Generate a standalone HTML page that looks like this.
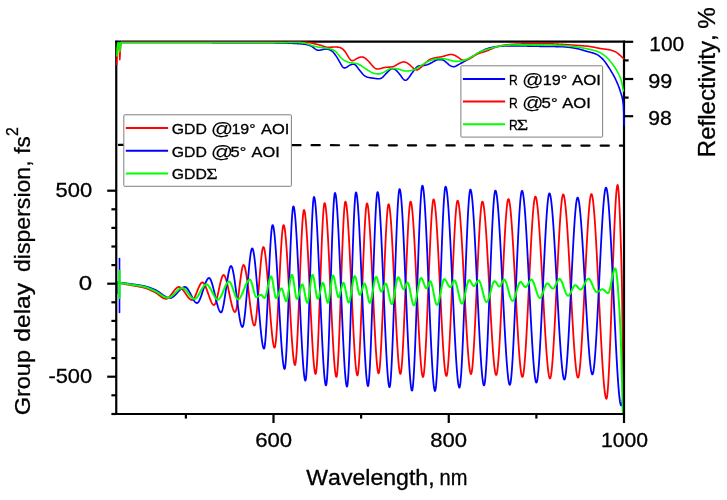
<!DOCTYPE html>
<html>
<head>
<meta charset="utf-8">
<title>GDD and reflectivity</title>
<style>
html,body{margin:0;padding:0;background:#fff;}
body{width:727px;height:500px;overflow:hidden;}
svg{display:block;will-change:transform;}
svg text{font-family:"Liberation Sans",sans-serif;fill:#000;font-kerning:none;stroke:#000;stroke-width:0.3px;}
</style>
</head>
<body>
<svg width="727" height="500" viewBox="0 0 727 500">
<defs><clipPath id="plotclip"><rect x="116.25" y="41.7" width="507.75" height="372.3"/></clipPath></defs>
<rect x="0" y="0" width="727" height="500" fill="#ffffff"/>
<line x1="118.9" y1="144.9" x2="624.0" y2="145.65" stroke="#000" stroke-width="2.2" stroke-linecap="round" stroke-dasharray="8.2 11.07"/>
<g clip-path="url(#plotclip)">
<path d="M117.00,282.80 L117.25,282.84 L117.50,282.88 L117.75,282.92 L118.00,282.96 L118.25,283.00 L118.50,283.03 L118.75,283.07 L119.00,283.11 L119.25,283.15 L119.50,283.19 L119.75,283.23 L120.00,283.28 L120.25,283.32 L120.50,283.36 L120.75,283.40 L121.00,283.44 L121.25,283.48 L121.50,283.52 L121.75,283.56 L122.00,283.60 L122.25,283.64 L122.50,283.69 L122.75,283.73 L123.00,283.77 L123.25,283.81 L123.50,283.85 L123.75,283.90 L124.00,283.94 L124.25,283.98 L124.50,284.02 L124.75,284.07 L125.00,284.11 L125.25,284.15 L125.50,284.20 L125.75,284.24 L126.00,284.28 L126.25,284.33 L126.50,284.37 L126.75,284.42 L127.00,284.46 L127.25,284.50 L127.50,284.55 L127.75,284.59 L128.00,284.64 L128.25,284.68 L128.50,284.73 L128.75,284.77 L129.00,284.82 L129.25,284.86 L129.50,284.91 L129.75,284.95 L130.00,285.00 L130.25,285.05 L130.50,285.09 L130.75,285.14 L131.00,285.18 L131.25,285.22 L131.50,285.27 L131.75,285.31 L132.00,285.36 L132.25,285.40 L132.50,285.44 L132.75,285.49 L133.00,285.53 L133.25,285.57 L133.50,285.61 L133.75,285.66 L134.00,285.70 L134.25,285.74 L134.50,285.79 L134.75,285.83 L135.00,285.87 L135.25,285.92 L135.50,285.96 L135.75,286.00 L136.00,286.05 L136.25,286.09 L136.50,286.14 L136.75,286.18 L137.00,286.23 L137.25,286.27 L137.50,286.32 L137.75,286.36 L138.00,286.41 L138.25,286.46 L138.50,286.51 L138.75,286.55 L139.00,286.60 L139.25,286.65 L139.50,286.70 L139.75,286.75 L140.00,286.80 L140.25,286.86 L140.50,286.91 L140.75,286.96 L141.00,287.01 L141.25,287.07 L141.50,287.13 L141.75,287.18 L142.00,287.24 L142.25,287.30 L142.50,287.36 L142.75,287.42 L143.00,287.48 L143.25,287.54 L143.50,287.60 L143.75,287.66 L144.00,287.73 L144.25,287.80 L144.50,287.86 L144.75,287.93 L145.00,288.00 L145.25,288.07 L145.50,288.15 L145.75,288.22 L146.00,288.30 L146.25,288.38 L146.50,288.47 L146.75,288.56 L147.00,288.65 L147.25,288.74 L147.50,288.83 L147.75,288.93 L148.00,289.03 L148.25,289.13 L148.50,289.23 L148.75,289.33 L149.00,289.44 L149.25,289.55 L149.50,289.66 L149.75,289.77 L150.00,289.88 L150.25,289.99 L150.50,290.11 L150.75,290.22 L151.00,290.34 L151.25,290.46 L151.50,290.58 L151.75,290.70 L152.00,290.82 L152.25,290.94 L152.50,291.06 L152.75,291.18 L153.00,291.31 L153.25,291.43 L153.50,291.55 L153.75,291.68 L154.00,291.80 L154.25,291.93 L154.50,292.05 L154.75,292.18 L155.00,292.30 L155.25,292.43 L155.50,292.57 L155.75,292.71 L156.00,292.86 L156.25,293.02 L156.50,293.19 L156.75,293.36 L157.00,293.53 L157.25,293.71 L157.50,293.90 L157.75,294.08 L158.00,294.27 L158.25,294.47 L158.50,294.66 L158.75,294.86 L159.00,295.06 L159.25,295.26 L159.50,295.45 L159.75,295.65 L160.00,295.85 L160.25,296.04 L160.50,296.23 L160.75,296.42 L161.00,296.61 L161.25,296.79 L161.50,296.97 L161.75,297.14 L162.00,297.31 L162.25,297.47 L162.50,297.62 L162.75,297.77 L163.00,297.91 L163.25,298.04 L163.50,298.16 L163.75,298.28 L164.00,298.38 L164.25,298.48 L164.50,298.56 L164.75,298.63 L165.00,298.69 L165.25,298.74 L165.50,298.77 L165.75,298.79 L166.00,298.80 L166.25,298.79 L166.50,298.75 L166.75,298.69 L167.00,298.60 L167.25,298.49 L167.50,298.36 L167.75,298.22 L168.00,298.05 L168.25,297.86 L168.50,297.66 L168.75,297.44 L169.00,297.20 L169.25,296.96 L169.50,296.69 L169.75,296.42 L170.00,296.14 L170.25,295.84 L170.50,295.54 L170.75,295.23 L171.00,294.91 L171.25,294.58 L171.50,294.25 L171.75,293.92 L172.00,293.58 L172.25,293.24 L172.50,292.90 L172.75,292.56 L173.00,292.22 L173.25,291.88 L173.50,291.55 L173.75,291.22 L174.00,290.89 L174.25,290.57 L174.50,290.26 L174.75,289.96 L175.00,289.66 L175.25,289.38 L175.50,289.11 L175.75,288.84 L176.00,288.60 L176.25,288.36 L176.50,288.14 L176.75,287.94 L177.00,287.75 L177.25,287.58 L177.50,287.44 L177.75,287.31 L178.00,287.20 L178.25,287.11 L178.50,287.05 L178.75,287.01 L179.00,287.00 L179.25,287.01 L179.50,287.06 L179.75,287.12 L180.00,287.22 L180.25,287.34 L180.50,287.48 L180.75,287.64 L181.00,287.83 L181.25,288.03 L181.50,288.26 L181.75,288.50 L182.00,288.76 L182.25,289.03 L182.50,289.32 L182.75,289.62 L183.00,289.93 L183.25,290.26 L183.50,290.59 L183.75,290.94 L184.00,291.29 L184.25,291.65 L184.50,292.01 L184.75,292.38 L185.00,292.75 L185.25,293.13 L185.50,293.50 L185.75,293.87 L186.00,294.25 L186.25,294.62 L186.50,294.99 L186.75,295.35 L187.00,295.71 L187.25,296.06 L187.50,296.41 L187.75,296.74 L188.00,297.07 L188.25,297.38 L188.50,297.68 L188.75,297.97 L189.00,298.24 L189.25,298.50 L189.50,298.74 L189.75,298.97 L190.00,299.17 L190.25,299.36 L190.50,299.52 L190.75,299.66 L191.00,299.78 L191.25,299.88 L191.50,299.94 L191.75,299.99 L192.00,300.00 L192.25,299.97 L192.50,299.88 L192.75,299.74 L193.00,299.54 L193.25,299.30 L193.50,299.01 L193.75,298.67 L194.00,298.30 L194.25,297.89 L194.50,297.44 L194.75,296.96 L195.00,296.45 L195.25,295.92 L195.50,295.36 L195.75,294.79 L196.00,294.19 L196.25,293.58 L196.50,292.97 L196.75,292.34 L197.00,291.71 L197.25,291.07 L197.50,290.44 L197.75,289.81 L198.00,289.19 L198.25,288.57 L198.50,287.97 L198.75,287.38 L199.00,286.81 L199.25,286.27 L199.50,285.74 L199.75,285.25 L200.00,284.78 L200.25,284.35 L200.50,283.95 L200.75,283.59 L201.00,283.27 L201.25,283.00 L201.50,282.77 L201.75,282.60 L202.00,282.48 L202.25,282.41 L202.50,282.41 L202.75,282.46 L203.00,282.58 L203.25,282.75 L203.50,282.97 L203.75,283.25 L204.00,283.57 L204.25,283.94 L204.50,284.35 L204.75,284.81 L205.00,285.30 L205.25,285.82 L205.50,286.38 L205.75,286.97 L206.00,287.58 L206.25,288.22 L206.50,288.87 L206.75,289.55 L207.00,290.24 L207.25,290.95 L207.50,291.66 L207.75,292.39 L208.00,293.12 L208.25,293.85 L208.50,294.58 L208.75,295.30 L209.00,296.02 L209.25,296.74 L209.50,297.44 L209.75,298.12 L210.00,298.79 L210.25,299.44 L210.50,300.07 L210.75,300.67 L211.00,301.25 L211.25,301.79 L211.50,302.30 L211.75,302.78 L212.00,303.22 L212.25,303.61 L212.50,303.96 L212.75,304.27 L213.00,304.53 L213.25,304.73 L213.50,304.88 L213.75,304.97 L214.00,305.00 L214.25,304.94 L214.50,304.76 L214.75,304.48 L215.00,304.09 L215.25,303.61 L215.50,303.03 L215.75,302.37 L216.00,301.64 L216.25,300.83 L216.50,299.96 L216.75,299.03 L217.00,298.04 L217.25,297.01 L217.50,295.94 L217.75,294.84 L218.00,293.72 L218.25,292.57 L218.50,291.40 L218.75,290.23 L219.00,289.06 L219.25,287.90 L219.50,286.74 L219.75,285.61 L220.00,284.49 L220.25,283.41 L220.50,282.36 L220.75,281.36 L221.00,280.41 L221.25,279.51 L221.50,278.68 L221.75,277.91 L222.00,277.22 L222.25,276.61 L222.50,276.09 L222.75,275.66 L223.00,275.34 L223.25,275.12 L223.50,275.01 L223.75,275.02 L224.00,275.13 L224.25,275.35 L224.50,275.66 L224.75,276.05 L225.00,276.54 L225.25,277.10 L225.50,277.74 L225.75,278.45 L226.00,279.23 L226.25,280.07 L226.50,280.96 L226.75,281.91 L227.00,282.91 L227.25,283.95 L227.50,285.03 L227.75,286.14 L228.00,287.28 L228.25,288.45 L228.50,289.63 L228.75,290.83 L229.00,292.04 L229.25,293.26 L229.50,294.47 L229.75,295.69 L230.00,296.89 L230.25,298.08 L230.50,299.26 L230.75,300.41 L231.00,301.53 L231.25,302.62 L231.50,303.68 L231.75,304.69 L232.00,305.66 L232.25,306.58 L232.50,307.44 L232.75,308.25 L233.00,308.98 L233.25,309.65 L233.50,310.25 L233.75,310.76 L234.00,311.20 L234.25,311.54 L234.50,311.79 L234.75,311.95 L235.00,312.00 L235.25,311.88 L235.50,311.54 L235.75,310.99 L236.00,310.24 L236.25,309.31 L236.50,308.21 L236.75,306.95 L237.00,305.56 L237.25,304.03 L237.50,302.39 L237.75,300.66 L238.00,298.83 L238.25,296.94 L238.50,294.98 L238.75,292.98 L239.00,290.96 L239.25,288.91 L239.50,286.86 L239.75,284.82 L240.00,282.81 L240.25,280.84 L240.50,278.92 L240.75,277.06 L241.00,275.29 L241.25,273.61 L241.50,272.04 L241.75,270.59 L242.00,269.28 L242.25,268.11 L242.50,267.11 L242.75,266.29 L243.00,265.65 L243.25,265.23 L243.50,265.02 L243.75,265.03 L244.00,265.24 L244.25,265.63 L244.50,266.19 L244.75,266.91 L245.00,267.79 L245.25,268.81 L245.50,269.97 L245.75,271.25 L246.00,272.65 L246.25,274.16 L246.50,275.76 L246.75,277.46 L247.00,279.24 L247.25,281.09 L247.50,283.00 L247.75,284.97 L248.00,286.98 L248.25,289.03 L248.50,291.10 L248.75,293.20 L249.00,295.30 L249.25,297.40 L249.50,299.50 L249.75,301.57 L250.00,303.62 L250.25,305.63 L250.50,307.60 L250.75,309.51 L251.00,311.36 L251.25,313.14 L251.50,314.84 L251.75,316.44 L252.00,317.95 L252.25,319.35 L252.50,320.63 L252.75,321.79 L253.00,322.81 L253.25,323.69 L253.50,324.41 L253.75,324.97 L254.00,325.36 L254.25,325.57 L254.50,325.57 L254.75,325.25 L255.00,324.60 L255.25,323.63 L255.50,322.36 L255.75,320.83 L256.00,319.03 L256.25,317.00 L256.50,314.76 L256.75,312.32 L257.00,309.71 L257.25,306.95 L257.50,304.05 L257.75,301.04 L258.00,297.93 L258.25,294.76 L258.50,291.53 L258.75,288.26 L259.00,284.99 L259.25,281.72 L259.50,278.49 L259.75,275.30 L260.00,272.18 L260.25,269.15 L260.50,266.22 L260.75,263.43 L261.00,260.79 L261.25,258.31 L261.50,256.03 L261.75,253.96 L262.00,252.11 L262.25,250.52 L262.50,249.20 L262.75,248.17 L263.00,247.45 L263.25,247.06 L263.50,247.02 L263.75,247.29 L264.00,247.84 L264.25,248.65 L264.50,249.72 L264.75,251.03 L265.00,252.57 L265.25,254.33 L265.50,256.28 L265.75,258.43 L266.00,260.75 L266.25,263.23 L266.50,265.85 L266.75,268.62 L267.00,271.50 L267.25,274.49 L267.50,277.57 L267.75,280.74 L268.00,283.97 L268.25,287.26 L268.50,290.58 L268.75,293.93 L269.00,297.30 L269.25,300.67 L269.50,304.02 L269.75,307.34 L270.00,310.63 L270.25,313.86 L270.50,317.03 L270.75,320.11 L271.00,323.10 L271.25,325.98 L271.50,328.75 L271.75,331.37 L272.00,333.85 L272.25,336.17 L272.50,338.32 L272.75,340.27 L273.00,342.03 L273.25,343.57 L273.50,344.88 L273.75,345.95 L274.00,346.76 L274.25,347.31 L274.50,347.58 L274.75,347.50 L275.00,346.90 L275.25,345.77 L275.50,344.17 L275.75,342.11 L276.00,339.62 L276.25,336.75 L276.50,333.51 L276.75,329.95 L277.00,326.10 L277.25,321.97 L277.50,317.62 L277.75,313.06 L278.00,308.33 L278.25,303.46 L278.50,298.49 L278.75,293.44 L279.00,288.34 L279.25,283.24 L279.50,278.15 L279.75,273.11 L280.00,268.16 L280.25,263.31 L280.50,258.62 L280.75,254.10 L281.00,249.78 L281.25,245.71 L281.50,241.91 L281.75,238.41 L282.00,235.25 L282.25,232.45 L282.50,230.05 L282.75,228.07 L283.00,226.56 L283.25,225.54 L283.50,225.05 L283.75,225.07 L284.00,225.50 L284.25,226.31 L284.50,227.48 L284.75,228.99 L285.00,230.82 L285.25,232.95 L285.50,235.37 L285.75,238.06 L286.00,241.00 L286.25,244.18 L286.50,247.57 L286.75,251.16 L287.00,254.93 L287.25,258.87 L287.50,262.94 L287.75,267.15 L288.00,271.47 L288.25,275.88 L288.50,280.36 L288.75,284.90 L289.00,289.48 L289.25,294.08 L289.50,298.68 L289.75,303.27 L290.00,307.83 L290.25,312.34 L290.50,316.78 L290.75,321.13 L291.00,325.39 L291.25,329.52 L291.50,333.51 L291.75,337.35 L292.00,341.02 L292.25,344.49 L292.50,347.75 L292.75,350.79 L293.00,353.58 L293.25,356.12 L293.50,358.37 L293.75,360.32 L294.00,361.96 L294.25,363.26 L294.50,364.22 L294.75,364.80 L295.00,365.00 L295.25,364.65 L295.50,363.62 L295.75,361.95 L296.00,359.68 L296.25,356.86 L296.50,353.52 L296.75,349.70 L297.00,345.44 L297.25,340.78 L297.50,335.76 L297.75,330.43 L298.00,324.81 L298.25,318.96 L298.50,312.91 L298.75,306.70 L299.00,300.36 L299.25,293.95 L299.50,287.50 L299.75,281.05 L300.00,274.64 L300.25,268.30 L300.50,262.09 L300.75,256.04 L301.00,250.19 L301.25,244.57 L301.50,239.24 L301.75,234.22 L302.00,229.56 L302.25,225.30 L302.50,221.48 L302.75,218.14 L303.00,215.32 L303.25,213.05 L303.50,211.38 L303.75,210.35 L304.00,210.00 L304.25,210.23 L304.50,210.89 L304.75,211.97 L305.00,213.45 L305.25,215.30 L305.50,217.52 L305.75,220.07 L306.00,222.94 L306.25,226.12 L306.50,229.57 L306.75,233.28 L307.00,237.23 L307.25,241.41 L307.50,245.78 L307.75,250.34 L308.00,255.05 L308.25,259.91 L308.50,264.89 L308.75,269.98 L309.00,275.14 L309.25,280.37 L309.50,285.64 L309.75,290.94 L310.00,296.24 L310.25,301.52 L310.50,306.77 L310.75,311.97 L311.00,317.09 L311.25,322.11 L311.50,327.02 L311.75,331.80 L312.00,336.42 L312.25,340.87 L312.50,345.12 L312.75,349.17 L313.00,352.98 L313.25,356.53 L313.50,359.82 L313.75,362.82 L314.00,365.50 L314.25,367.85 L314.50,369.86 L314.75,371.49 L315.00,372.73 L315.25,373.56 L315.50,373.96 L315.75,373.86 L316.00,373.02 L316.25,371.45 L316.50,369.21 L316.75,366.34 L317.00,362.87 L317.25,358.86 L317.50,354.35 L317.75,349.39 L318.00,344.01 L318.25,338.25 L318.50,332.18 L318.75,325.82 L319.00,319.23 L319.25,312.44 L319.50,305.50 L319.75,298.45 L320.00,291.35 L320.25,284.23 L320.50,277.13 L320.75,270.10 L321.00,263.19 L321.25,256.44 L321.50,249.89 L321.75,243.58 L322.00,237.57 L322.25,231.89 L322.50,226.59 L322.75,221.71 L323.00,217.29 L323.25,213.39 L323.50,210.04 L323.75,207.29 L324.00,205.18 L324.25,203.76 L324.50,203.06 L324.75,203.08 L325.00,203.59 L325.25,204.53 L325.50,205.88 L325.75,207.64 L326.00,209.77 L326.25,212.25 L326.50,215.08 L326.75,218.22 L327.00,221.67 L327.25,225.39 L327.50,229.36 L327.75,233.58 L328.00,238.01 L328.25,242.65 L328.50,247.46 L328.75,252.43 L329.00,257.54 L329.25,262.77 L329.50,268.09 L329.75,273.50 L330.00,278.97 L330.25,284.47 L330.50,290.00 L330.75,295.53 L331.00,301.03 L331.25,306.50 L331.50,311.91 L331.75,317.23 L332.00,322.46 L332.25,327.57 L332.50,332.54 L332.75,337.35 L333.00,341.99 L333.25,346.42 L333.50,350.64 L333.75,354.61 L334.00,358.33 L334.25,361.78 L334.50,364.92 L334.75,367.75 L335.00,370.23 L335.25,372.36 L335.50,374.12 L335.75,375.47 L336.00,376.41 L336.25,376.92 L336.50,376.94 L336.75,376.22 L337.00,374.77 L337.25,372.60 L337.50,369.78 L337.75,366.34 L338.00,362.34 L338.25,357.81 L338.50,352.81 L338.75,347.37 L339.00,341.54 L339.25,335.37 L339.50,328.91 L339.75,322.19 L340.00,315.26 L340.25,308.17 L340.50,300.96 L340.75,293.68 L341.00,286.38 L341.25,279.09 L341.50,271.86 L341.75,264.75 L342.00,257.78 L342.25,251.02 L342.50,244.50 L342.75,238.27 L343.00,232.37 L343.25,226.85 L343.50,221.75 L343.75,217.12 L344.00,213.01 L344.25,209.46 L344.50,206.51 L344.75,204.21 L345.00,202.61 L345.25,201.74 L345.50,201.64 L345.75,202.03 L346.00,202.86 L346.25,204.09 L346.50,205.71 L346.75,207.70 L347.00,210.05 L347.25,212.72 L347.50,215.70 L347.75,218.99 L348.00,222.54 L348.25,226.35 L348.50,230.40 L348.75,234.67 L349.00,239.14 L349.25,243.79 L349.50,248.60 L349.75,253.56 L350.00,258.64 L350.25,263.82 L350.50,269.09 L350.75,274.43 L351.00,279.82 L351.25,285.24 L351.50,290.67 L351.75,296.10 L352.00,301.49 L352.25,306.84 L352.50,312.13 L352.75,317.33 L353.00,322.44 L353.25,327.42 L353.50,332.26 L353.75,336.94 L354.00,341.45 L354.25,345.76 L354.50,349.85 L354.75,353.72 L355.00,357.32 L355.25,360.66 L355.50,363.71 L355.75,366.45 L356.00,368.86 L356.25,370.92 L356.50,372.61 L356.75,373.93 L357.00,374.83 L357.25,375.32 L357.50,375.34 L357.75,374.73 L358.00,373.47 L358.25,371.59 L358.50,369.14 L358.75,366.15 L359.00,362.66 L359.25,358.70 L359.50,354.31 L359.75,349.53 L360.00,344.38 L360.25,338.92 L360.50,333.18 L360.75,327.18 L361.00,320.98 L361.25,314.60 L361.50,308.08 L361.75,301.46 L362.00,294.77 L362.25,288.06 L362.50,281.35 L362.75,274.68 L363.00,268.10 L363.25,261.63 L363.50,255.32 L363.75,249.19 L364.00,243.29 L364.25,237.66 L364.50,232.32 L364.75,227.32 L365.00,222.69 L365.25,218.46 L365.50,214.69 L365.75,211.39 L366.00,208.61 L366.25,206.39 L366.50,204.75 L366.75,203.74 L367.00,203.40 L367.25,203.63 L367.50,204.32 L367.75,205.44 L368.00,206.97 L368.25,208.90 L368.50,211.19 L368.75,213.84 L369.00,216.82 L369.25,220.11 L369.50,223.68 L369.75,227.53 L370.00,231.63 L370.25,235.96 L370.50,240.49 L370.75,245.21 L371.00,250.10 L371.25,255.14 L371.50,260.30 L371.75,265.57 L372.00,270.93 L372.25,276.35 L372.50,281.81 L372.75,287.30 L373.00,292.79 L373.25,298.27 L373.50,303.71 L373.75,309.10 L374.00,314.40 L374.25,319.61 L374.50,324.70 L374.75,329.65 L375.00,334.44 L375.25,339.05 L375.50,343.47 L375.75,347.66 L376.00,351.61 L376.25,355.30 L376.50,358.70 L376.75,361.81 L377.00,364.59 L377.25,367.03 L377.50,369.10 L377.75,370.80 L378.00,372.08 L378.25,372.95 L378.50,373.36 L378.75,373.29 L379.00,372.61 L379.25,371.35 L379.50,369.54 L379.75,367.20 L380.00,364.38 L380.25,361.10 L380.50,357.40 L380.75,353.30 L381.00,348.84 L381.25,344.05 L381.50,338.96 L381.75,333.61 L382.00,328.02 L382.25,322.23 L382.50,316.27 L382.75,310.17 L383.00,303.95 L383.25,297.67 L383.50,291.34 L383.75,284.99 L384.00,278.67 L384.25,272.40 L384.50,266.20 L384.75,260.13 L385.00,254.20 L385.25,248.44 L385.50,242.90 L385.75,237.60 L386.00,232.57 L386.25,227.84 L386.50,223.45 L386.75,219.43 L387.00,215.81 L387.25,212.62 L387.50,209.89 L387.75,207.66 L388.00,205.95 L388.25,204.81 L388.50,204.25 L388.75,204.28 L389.00,204.77 L389.25,205.69 L389.50,207.01 L389.75,208.72 L390.00,210.80 L390.25,213.23 L390.50,215.99 L390.75,219.06 L391.00,222.42 L391.25,226.04 L391.50,229.93 L391.75,234.04 L392.00,238.37 L392.25,242.89 L392.50,247.58 L392.75,252.43 L393.00,257.42 L393.25,262.52 L393.50,267.72 L393.75,273.00 L394.00,278.33 L394.25,283.71 L394.50,289.10 L394.75,294.49 L395.00,299.87 L395.25,305.20 L395.50,310.48 L395.75,315.68 L396.00,320.78 L396.25,325.77 L396.50,330.62 L396.75,335.31 L397.00,339.83 L397.25,344.16 L397.50,348.27 L397.75,352.16 L398.00,355.78 L398.25,359.14 L398.50,362.21 L398.75,364.97 L399.00,367.40 L399.25,369.48 L399.50,371.19 L399.75,372.51 L400.00,373.43 L400.25,373.92 L400.50,373.95 L400.75,373.40 L401.00,372.28 L401.25,370.61 L401.50,368.42 L401.75,365.74 L402.00,362.60 L402.25,359.04 L402.50,355.09 L402.75,350.76 L403.00,346.11 L403.25,341.14 L403.50,335.91 L403.75,330.43 L404.00,324.73 L404.25,318.86 L404.50,312.83 L404.75,306.68 L405.00,300.44 L405.25,294.13 L405.50,287.80 L405.75,281.47 L406.00,275.16 L406.25,268.92 L406.50,262.77 L406.75,256.74 L407.00,250.87 L407.25,245.17 L407.50,239.69 L407.75,234.46 L408.00,229.49 L408.25,224.84 L408.50,220.51 L408.75,216.56 L409.00,213.00 L409.25,209.86 L409.50,207.18 L409.75,204.99 L410.00,203.32 L410.25,202.20 L410.50,201.65 L410.75,201.68 L411.00,202.14 L411.25,203.00 L411.50,204.24 L411.75,205.85 L412.00,207.80 L412.25,210.09 L412.50,212.69 L412.75,215.59 L413.00,218.77 L413.25,222.21 L413.50,225.89 L413.75,229.81 L414.00,233.93 L414.25,238.25 L414.50,242.74 L414.75,247.39 L415.00,252.18 L415.25,257.10 L415.50,262.12 L415.75,267.23 L416.00,272.42 L416.25,277.66 L416.50,282.94 L416.75,288.24 L417.00,293.54 L417.25,298.83 L417.50,304.09 L417.75,309.30 L418.00,314.44 L418.25,319.50 L418.50,324.47 L418.75,329.31 L419.00,334.02 L419.25,338.58 L419.50,342.97 L419.75,347.17 L420.00,351.17 L420.25,354.95 L420.50,358.49 L420.75,361.77 L421.00,364.78 L421.25,367.51 L421.50,369.92 L421.75,372.01 L422.00,373.76 L422.25,375.15 L422.50,376.17 L422.75,376.79 L423.00,377.00 L423.25,376.71 L423.50,375.85 L423.75,374.46 L424.00,372.56 L424.25,370.17 L424.50,367.34 L424.75,364.08 L425.00,360.42 L425.25,356.39 L425.50,352.02 L425.75,347.34 L426.00,342.38 L426.25,337.15 L426.50,331.70 L426.75,326.04 L427.00,320.22 L427.25,314.24 L427.50,308.15 L427.75,301.97 L428.00,295.73 L428.25,289.46 L428.50,283.18 L428.75,276.92 L429.00,270.71 L429.25,264.58 L429.50,258.56 L429.75,252.67 L430.00,246.94 L430.25,241.40 L430.50,236.09 L430.75,231.01 L431.00,226.21 L431.25,221.72 L431.50,217.55 L431.75,213.74 L432.00,210.32 L432.25,207.31 L432.50,204.74 L432.75,202.64 L433.00,201.04 L433.25,199.97 L433.50,199.45 L433.75,199.47 L434.00,199.91 L434.25,200.72 L434.50,201.90 L434.75,203.42 L435.00,205.28 L435.25,207.45 L435.50,209.92 L435.75,212.67 L436.00,215.70 L436.25,218.97 L436.50,222.49 L436.75,226.22 L437.00,230.16 L437.25,234.29 L437.50,238.59 L437.75,243.05 L438.00,247.66 L438.25,252.39 L438.50,257.23 L438.75,262.16 L439.00,267.17 L439.25,272.25 L439.50,277.37 L439.75,282.53 L440.00,287.70 L440.25,292.87 L440.50,298.03 L440.75,303.15 L441.00,308.23 L441.25,313.24 L441.50,318.17 L441.75,323.01 L442.00,327.74 L442.25,332.35 L442.50,336.81 L442.75,341.11 L443.00,345.24 L443.25,349.18 L443.50,352.91 L443.75,356.43 L444.00,359.70 L444.25,362.73 L444.50,365.48 L444.75,367.95 L445.00,370.12 L445.25,371.98 L445.50,373.50 L445.75,374.68 L446.00,375.49 L446.25,375.93 L446.50,375.96 L446.75,375.50 L447.00,374.54 L447.25,373.12 L447.50,371.26 L447.75,368.97 L448.00,366.28 L448.25,363.22 L448.50,359.81 L448.75,356.07 L449.00,352.03 L449.25,347.71 L449.50,343.13 L449.75,338.31 L450.00,333.28 L450.25,328.07 L450.50,322.69 L450.75,317.18 L451.00,311.54 L451.25,305.81 L451.50,300.01 L451.75,294.17 L452.00,288.30 L452.25,282.43 L452.50,276.59 L452.75,270.79 L453.00,265.06 L453.25,259.42 L453.50,253.91 L453.75,248.53 L454.00,243.32 L454.25,238.29 L454.50,233.47 L454.75,228.89 L455.00,224.57 L455.25,220.53 L455.50,216.79 L455.75,213.38 L456.00,210.32 L456.25,207.63 L456.50,205.34 L456.75,203.48 L457.00,202.06 L457.25,201.10 L457.50,200.64 L457.75,200.66 L458.00,201.05 L458.25,201.78 L458.50,202.84 L458.75,204.21 L459.00,205.88 L459.25,207.84 L459.50,210.07 L459.75,212.56 L460.00,215.29 L460.25,218.26 L460.50,221.45 L460.75,224.84 L461.00,228.43 L461.25,232.19 L461.50,236.11 L461.75,240.19 L462.00,244.41 L462.25,248.75 L462.50,253.20 L462.75,257.75 L463.00,262.38 L463.25,267.09 L463.50,271.85 L463.75,276.65 L464.00,281.48 L464.25,286.33 L464.50,291.18 L464.75,296.02 L465.00,300.84 L465.25,305.62 L465.50,310.34 L465.75,315.01 L466.00,319.59 L466.25,324.08 L466.50,328.47 L466.75,332.74 L467.00,336.87 L467.25,340.86 L467.50,344.69 L467.75,348.35 L468.00,351.82 L468.25,355.09 L468.50,358.15 L468.75,360.98 L469.00,363.56 L469.25,365.90 L469.50,367.97 L469.75,369.75 L470.00,371.25 L470.25,372.43 L470.50,373.29 L470.75,373.82 L471.00,374.00 L471.25,373.75 L471.50,373.03 L471.75,371.86 L472.00,370.25 L472.25,368.24 L472.50,365.83 L472.75,363.06 L473.00,359.94 L473.25,356.50 L473.50,352.76 L473.75,348.74 L474.00,344.47 L474.25,339.95 L474.50,335.23 L474.75,330.31 L475.00,325.22 L475.25,319.98 L475.50,314.62 L475.75,309.15 L476.00,303.60 L476.25,297.99 L476.50,292.33 L476.75,286.67 L477.00,281.00 L477.25,275.36 L477.50,269.77 L477.75,264.25 L478.00,258.82 L478.25,253.51 L478.50,248.33 L478.75,243.30 L479.00,238.46 L479.25,233.81 L479.50,229.39 L479.75,225.22 L480.00,221.31 L480.25,217.68 L480.50,214.37 L480.75,211.39 L481.00,208.76 L481.25,206.51 L481.50,204.65 L481.75,203.22 L482.00,202.22 L482.25,201.69 L482.50,201.63 L482.75,201.93 L483.00,202.55 L483.25,203.49 L483.50,204.73 L483.75,206.25 L484.00,208.05 L484.25,210.11 L484.50,212.42 L484.75,214.97 L485.00,217.75 L485.25,220.73 L485.50,223.92 L485.75,227.29 L486.00,230.84 L486.25,234.56 L486.50,238.42 L486.75,242.43 L487.00,246.56 L487.25,250.80 L487.50,255.14 L487.75,259.58 L488.00,264.09 L488.25,268.66 L488.50,273.29 L488.75,277.96 L489.00,282.65 L489.25,287.36 L489.50,292.07 L489.75,296.77 L490.00,301.45 L490.25,306.09 L490.50,310.69 L490.75,315.23 L491.00,319.69 L491.25,324.07 L491.50,328.36 L491.75,332.54 L492.00,336.59 L492.25,340.51 L492.50,344.29 L492.75,347.91 L493.00,351.35 L493.25,354.62 L493.50,357.68 L493.75,360.54 L494.00,363.18 L494.25,365.59 L494.50,367.75 L494.75,369.66 L495.00,371.29 L495.25,372.65 L495.50,373.71 L495.75,374.46 L496.00,374.89 L496.25,374.99 L496.50,374.69 L496.75,373.96 L497.00,372.83 L497.25,371.31 L497.50,369.43 L497.75,367.20 L498.00,364.64 L498.25,361.76 L498.50,358.59 L498.75,355.15 L499.00,351.44 L499.25,347.50 L499.50,343.33 L499.75,338.97 L500.00,334.41 L500.25,329.69 L500.50,324.82 L500.75,319.82 L501.00,314.71 L501.25,309.50 L501.50,304.21 L501.75,298.87 L502.00,293.49 L502.25,288.08 L502.50,282.67 L502.75,277.28 L503.00,271.92 L503.25,266.61 L503.50,261.37 L503.75,256.21 L504.00,251.17 L504.25,246.24 L504.50,241.46 L504.75,236.83 L505.00,232.39 L505.25,228.14 L505.50,224.11 L505.75,220.30 L506.00,216.75 L506.25,213.47 L506.50,210.48 L506.75,207.79 L507.00,205.42 L507.25,203.40 L507.50,201.73 L507.75,200.45 L508.00,199.56 L508.25,199.08 L508.50,199.03 L508.75,199.33 L509.00,199.95 L509.25,200.89 L509.50,202.12 L509.75,203.65 L510.00,205.44 L510.25,207.50 L510.50,209.81 L510.75,212.36 L511.00,215.14 L511.25,218.13 L511.50,221.32 L511.75,224.70 L512.00,228.26 L512.25,231.98 L512.50,235.86 L512.75,239.88 L513.00,244.02 L513.25,248.29 L513.50,252.65 L513.75,257.11 L514.00,261.66 L514.25,266.27 L514.50,270.93 L514.75,275.64 L515.00,280.38 L515.25,285.14 L515.50,289.91 L515.75,294.67 L516.00,299.41 L516.25,304.13 L516.50,308.81 L516.75,313.43 L517.00,317.98 L517.25,322.46 L517.50,326.85 L517.75,331.13 L518.00,335.31 L518.25,339.35 L518.50,343.26 L518.75,347.01 L519.00,350.60 L519.25,354.02 L519.50,357.25 L519.75,360.28 L520.00,363.10 L520.25,365.70 L520.50,368.05 L520.75,370.17 L521.00,372.02 L521.25,373.59 L521.50,374.89 L521.75,375.88 L522.00,376.57 L522.25,376.94 L522.50,376.97 L522.75,376.61 L523.00,375.88 L523.25,374.79 L523.50,373.34 L523.75,371.57 L524.00,369.47 L524.25,367.08 L524.50,364.40 L524.75,361.45 L525.00,358.24 L525.25,354.79 L525.50,351.12 L525.75,347.24 L526.00,343.16 L526.25,338.90 L526.50,334.49 L526.75,329.92 L527.00,325.22 L527.25,320.41 L527.50,315.49 L527.75,310.49 L528.00,305.41 L528.25,300.28 L528.50,295.12 L528.75,289.92 L529.00,284.72 L529.25,279.52 L529.50,274.35 L529.75,269.21 L530.00,264.12 L530.25,259.10 L530.50,254.17 L530.75,249.33 L531.00,244.61 L531.25,240.02 L531.50,235.57 L531.75,231.28 L532.00,227.16 L532.25,223.24 L532.50,219.53 L532.75,216.03 L533.00,212.78 L533.25,209.77 L533.50,207.03 L533.75,204.58 L534.00,202.43 L534.25,200.59 L534.50,199.07 L534.75,197.91 L535.00,197.10 L535.25,196.67 L535.50,196.63 L535.75,196.91 L536.00,197.50 L536.25,198.38 L536.50,199.54 L536.75,200.98 L537.00,202.67 L537.25,204.62 L537.50,206.80 L537.75,209.21 L538.00,211.84 L538.25,214.68 L538.50,217.71 L538.75,220.92 L539.00,224.31 L539.25,227.86 L539.50,231.56 L539.75,235.40 L540.00,239.37 L540.25,243.46 L540.50,247.65 L540.75,251.94 L541.00,256.32 L541.25,260.77 L541.50,265.29 L541.75,269.86 L542.00,274.47 L542.25,279.11 L542.50,283.77 L542.75,288.43 L543.00,293.10 L543.25,297.75 L543.50,302.38 L543.75,306.98 L544.00,311.52 L544.25,316.02 L544.50,320.44 L544.75,324.78 L545.00,329.04 L545.25,333.19 L545.50,337.23 L545.75,341.15 L546.00,344.94 L546.25,348.58 L546.50,352.07 L546.75,355.39 L547.00,358.53 L547.25,361.48 L547.50,364.23 L547.75,366.78 L548.00,369.10 L548.25,371.19 L548.50,373.04 L548.75,374.63 L549.00,375.96 L549.25,377.01 L549.50,377.77 L549.75,378.24 L550.00,378.40 L550.25,378.20 L550.50,377.63 L550.75,376.69 L551.00,375.39 L551.25,373.76 L551.50,371.81 L551.75,369.56 L552.00,367.01 L552.25,364.18 L552.50,361.10 L552.75,357.77 L553.00,354.21 L553.25,350.43 L553.50,346.45 L553.75,342.29 L554.00,337.95 L554.25,333.46 L554.50,328.83 L554.75,324.07 L555.00,319.20 L555.25,314.23 L555.50,309.19 L555.75,304.07 L556.00,298.91 L556.25,293.71 L556.50,288.49 L556.75,283.26 L557.00,278.05 L557.25,272.85 L557.50,267.70 L557.75,262.60 L558.00,257.57 L558.25,252.62 L558.50,247.77 L558.75,243.04 L559.00,238.43 L559.25,233.97 L559.50,229.67 L559.75,225.54 L560.00,221.60 L560.25,217.86 L560.50,214.35 L560.75,211.06 L561.00,208.03 L561.25,205.26 L561.50,202.77 L561.75,200.57 L562.00,198.69 L562.25,197.12 L562.50,195.90 L562.75,195.03 L563.00,194.53 L563.25,194.41 L563.50,194.62 L563.75,195.14 L564.00,195.95 L564.25,197.04 L564.50,198.39 L564.75,200.01 L565.00,201.87 L565.25,203.97 L565.50,206.30 L565.75,208.84 L566.00,211.59 L566.25,214.53 L566.50,217.66 L566.75,220.96 L567.00,224.43 L567.25,228.05 L567.50,231.81 L567.75,235.70 L568.00,239.71 L568.25,243.83 L568.50,248.05 L568.75,252.37 L569.00,256.75 L569.25,261.21 L569.50,265.73 L569.75,270.29 L570.00,274.88 L570.25,279.51 L570.50,284.14 L570.75,288.78 L571.00,293.42 L571.25,298.04 L571.50,302.63 L571.75,307.18 L572.00,311.68 L572.25,316.13 L572.50,320.50 L572.75,324.80 L573.00,329.00 L573.25,333.10 L573.50,337.09 L573.75,340.96 L574.00,344.69 L574.25,348.28 L574.50,351.71 L574.75,354.98 L575.00,358.07 L575.25,360.98 L575.50,363.68 L575.75,366.18 L576.00,368.47 L576.25,370.52 L576.50,372.34 L576.75,373.90 L577.00,375.20 L577.25,376.24 L577.50,376.99 L577.75,377.44 L578.00,377.60 L578.25,377.41 L578.50,376.85 L578.75,375.94 L579.00,374.69 L579.25,373.11 L579.50,371.21 L579.75,369.02 L580.00,366.55 L580.25,363.81 L580.50,360.81 L580.75,357.58 L581.00,354.11 L581.25,350.44 L581.50,346.57 L581.75,342.51 L582.00,338.29 L582.25,333.91 L582.50,329.39 L582.75,324.75 L583.00,319.99 L583.25,315.14 L583.50,310.20 L583.75,305.19 L584.00,300.13 L584.25,295.03 L584.50,289.91 L584.75,284.77 L585.00,279.64 L585.25,274.52 L585.50,269.44 L585.75,264.40 L586.00,259.42 L586.25,254.51 L586.50,249.70 L586.75,244.98 L587.00,240.39 L587.25,235.92 L587.50,231.60 L587.75,227.45 L588.00,223.46 L588.25,219.67 L588.50,216.08 L588.75,212.70 L589.00,209.56 L589.25,206.66 L589.50,204.03 L589.75,201.67 L590.00,199.59 L590.25,197.82 L590.50,196.37 L590.75,195.25 L591.00,194.48 L591.25,194.07 L591.50,194.03 L591.75,194.33 L592.00,194.96 L592.25,195.90 L592.50,197.14 L592.75,198.68 L593.00,200.49 L593.25,202.58 L593.50,204.92 L593.75,207.51 L594.00,210.33 L594.25,213.37 L594.50,216.63 L594.75,220.08 L595.00,223.73 L595.25,227.55 L595.50,231.54 L595.75,235.68 L596.00,239.97 L596.25,244.39 L596.50,248.93 L596.75,253.57 L597.00,258.32 L597.25,263.15 L597.50,268.06 L597.75,273.03 L598.00,278.06 L598.25,283.12 L598.50,288.22 L598.75,293.33 L599.00,298.45 L599.25,303.56 L599.50,308.66 L599.75,313.73 L600.00,318.77 L600.25,323.75 L600.50,328.67 L600.75,333.52 L601.00,338.28 L601.25,342.95 L601.50,347.51 L601.75,351.96 L602.00,356.27 L602.25,360.45 L602.50,364.47 L602.75,368.32 L603.00,372.00 L603.25,375.50 L603.50,378.80 L603.75,381.88 L604.00,384.75 L604.25,387.38 L604.50,389.77 L604.75,391.91 L605.00,393.78 L605.25,395.37 L605.50,396.68 L605.75,397.68 L606.00,398.37 L606.25,398.74 L606.50,398.75 L606.75,398.19 L607.00,397.02 L607.25,395.29 L607.50,393.02 L607.75,390.23 L608.00,386.96 L608.25,383.23 L608.50,379.07 L608.75,374.51 L609.00,369.58 L609.25,364.31 L609.50,358.73 L609.75,352.86 L610.00,346.73 L610.25,340.38 L610.50,333.82 L610.75,327.10 L611.00,320.23 L611.25,313.25 L611.50,306.18 L611.75,299.05 L612.00,291.90 L612.25,284.75 L612.50,277.62 L612.75,270.55 L613.00,263.57 L613.25,256.70 L613.50,249.98 L613.75,243.42 L614.00,237.07 L614.25,230.94 L614.50,225.07 L614.75,219.49 L615.00,214.22 L615.25,209.29 L615.50,204.73 L615.75,200.57 L616.00,196.84 L616.25,193.57 L616.50,190.78 L616.75,188.51 L617.00,186.78 L617.25,185.61 L617.50,185.05 L617.75,185.15 L618.00,186.08 L618.25,187.80 L618.50,190.30 L618.75,193.52 L619.00,197.43 L619.25,201.99 L619.50,207.18 L619.75,212.94 L620.00,219.24 L620.25,226.06 L620.50,233.34 L620.75,241.05 L621.00,249.15 L621.25,257.62 L621.50,266.40 L621.75,276.26 L622.00,290.06 L622.25,307.45 L622.50,327.70 L622.75,350.08 L623.00,373.86 L623.25,398.31 L623.40,413.00" fill="none" stroke="#ff0000" stroke-width="1.8" stroke-linejoin="round" stroke-linecap="round" />
<path d="M117.00,282.40 L117.25,282.42 L117.50,282.45 L117.75,282.47 L118.00,282.50 L118.25,282.52 L118.50,282.55 L118.75,282.57 L119.00,282.60 L119.25,282.62 L119.50,282.65 L119.75,282.67 L120.00,282.70 L120.25,282.73 L120.50,282.75 L120.75,282.78 L121.00,282.81 L121.25,282.83 L121.50,282.86 L121.75,282.89 L122.00,282.92 L122.25,282.94 L122.50,282.97 L122.75,283.00 L123.00,283.03 L123.25,283.06 L123.50,283.09 L123.75,283.12 L124.00,283.15 L124.25,283.17 L124.50,283.20 L124.75,283.23 L125.00,283.26 L125.25,283.29 L125.50,283.32 L125.75,283.36 L126.00,283.39 L126.25,283.42 L126.50,283.45 L126.75,283.48 L127.00,283.51 L127.25,283.54 L127.50,283.57 L127.75,283.61 L128.00,283.64 L128.25,283.67 L128.50,283.70 L128.75,283.73 L129.00,283.77 L129.25,283.80 L129.50,283.83 L129.75,283.87 L130.00,283.90 L130.25,283.93 L130.50,283.97 L130.75,284.00 L131.00,284.03 L131.25,284.07 L131.50,284.10 L131.75,284.13 L132.00,284.17 L132.25,284.20 L132.50,284.23 L132.75,284.26 L133.00,284.30 L133.25,284.33 L133.50,284.36 L133.75,284.40 L134.00,284.43 L134.25,284.47 L134.50,284.50 L134.75,284.53 L135.00,284.57 L135.25,284.60 L135.50,284.64 L135.75,284.67 L136.00,284.71 L136.25,284.74 L136.50,284.78 L136.75,284.82 L137.00,284.85 L137.25,284.89 L137.50,284.93 L137.75,284.97 L138.00,285.00 L138.25,285.04 L138.50,285.08 L138.75,285.12 L139.00,285.16 L139.25,285.20 L139.50,285.24 L139.75,285.28 L140.00,285.33 L140.25,285.37 L140.50,285.41 L140.75,285.45 L141.00,285.50 L141.25,285.54 L141.50,285.59 L141.75,285.64 L142.00,285.68 L142.25,285.73 L142.50,285.78 L142.75,285.83 L143.00,285.88 L143.25,285.93 L143.50,285.98 L143.75,286.03 L144.00,286.08 L144.25,286.13 L144.50,286.19 L144.75,286.24 L145.00,286.30 L145.25,286.36 L145.50,286.42 L145.75,286.48 L146.00,286.54 L146.25,286.61 L146.50,286.68 L146.75,286.75 L147.00,286.82 L147.25,286.89 L147.50,286.97 L147.75,287.04 L148.00,287.12 L148.25,287.20 L148.50,287.28 L148.75,287.37 L149.00,287.45 L149.25,287.54 L149.50,287.63 L149.75,287.72 L150.00,287.81 L150.25,287.90 L150.50,287.99 L150.75,288.08 L151.00,288.18 L151.25,288.27 L151.50,288.37 L151.75,288.47 L152.00,288.57 L152.25,288.67 L152.50,288.77 L152.75,288.87 L153.00,288.97 L153.25,289.07 L153.50,289.17 L153.75,289.28 L154.00,289.38 L154.25,289.49 L154.50,289.59 L154.75,289.69 L155.00,289.80 L155.25,289.91 L155.50,290.02 L155.75,290.14 L156.00,290.27 L156.25,290.40 L156.50,290.54 L156.75,290.68 L157.00,290.83 L157.25,290.98 L157.50,291.14 L157.75,291.30 L158.00,291.46 L158.25,291.63 L158.50,291.80 L158.75,291.97 L159.00,292.14 L159.25,292.32 L159.50,292.50 L159.75,292.68 L160.00,292.86 L160.25,293.04 L160.50,293.23 L160.75,293.41 L161.00,293.59 L161.25,293.78 L161.50,293.96 L161.75,294.15 L162.00,294.33 L162.25,294.51 L162.50,294.69 L162.75,294.87 L163.00,295.04 L163.25,295.22 L163.50,295.39 L163.75,295.55 L164.00,295.72 L164.25,295.88 L164.50,296.04 L164.75,296.19 L165.00,296.34 L165.25,296.49 L165.50,296.63 L165.75,296.76 L166.00,296.89 L166.25,297.01 L166.50,297.13 L166.75,297.24 L167.00,297.35 L167.25,297.45 L167.50,297.54 L167.75,297.62 L168.00,297.70 L168.25,297.77 L168.50,297.83 L168.75,297.88 L169.00,297.92 L169.25,297.96 L169.50,297.98 L169.75,297.99 L170.00,298.00 L170.25,297.99 L170.50,297.96 L170.75,297.92 L171.00,297.86 L171.25,297.78 L171.50,297.69 L171.75,297.59 L172.00,297.47 L172.25,297.33 L172.50,297.19 L172.75,297.03 L173.00,296.86 L173.25,296.67 L173.50,296.48 L173.75,296.28 L174.00,296.07 L174.25,295.85 L174.50,295.62 L174.75,295.39 L175.00,295.15 L175.25,294.90 L175.50,294.65 L175.75,294.39 L176.00,294.13 L176.25,293.86 L176.50,293.59 L176.75,293.32 L177.00,293.05 L177.25,292.77 L177.50,292.50 L177.75,292.23 L178.00,291.95 L178.25,291.68 L178.50,291.41 L178.75,291.14 L179.00,290.87 L179.25,290.61 L179.50,290.35 L179.75,290.10 L180.00,289.85 L180.25,289.61 L180.50,289.38 L180.75,289.15 L181.00,288.93 L181.25,288.72 L181.50,288.52 L181.75,288.33 L182.00,288.14 L182.25,287.97 L182.50,287.81 L182.75,287.67 L183.00,287.53 L183.25,287.41 L183.50,287.31 L183.75,287.22 L184.00,287.14 L184.25,287.08 L184.50,287.04 L184.75,287.01 L185.00,287.00 L185.25,287.02 L185.50,287.08 L185.75,287.18 L186.00,287.31 L186.25,287.48 L186.50,287.69 L186.75,287.92 L187.00,288.19 L187.25,288.48 L187.50,288.79 L187.75,289.14 L188.00,289.50 L188.25,289.89 L188.50,290.29 L188.75,290.71 L189.00,291.15 L189.25,291.60 L189.50,292.06 L189.75,292.54 L190.00,293.02 L190.25,293.51 L190.50,294.00 L190.75,294.50 L191.00,295.00 L191.25,295.50 L191.50,296.00 L191.75,296.49 L192.00,296.98 L192.25,297.46 L192.50,297.94 L192.75,298.40 L193.00,298.85 L193.25,299.29 L193.50,299.71 L193.75,300.11 L194.00,300.50 L194.25,300.86 L194.50,301.21 L194.75,301.52 L195.00,301.81 L195.25,302.08 L195.50,302.31 L195.75,302.52 L196.00,302.69 L196.25,302.82 L196.50,302.92 L196.75,302.98 L197.00,303.00 L197.25,302.97 L197.50,302.87 L197.75,302.72 L198.00,302.51 L198.25,302.24 L198.50,301.93 L198.75,301.56 L199.00,301.15 L199.25,300.69 L199.50,300.20 L199.75,299.66 L200.00,299.09 L200.25,298.49 L200.50,297.86 L200.75,297.20 L201.00,296.52 L201.25,295.81 L201.50,295.09 L201.75,294.35 L202.00,293.60 L202.25,292.83 L202.50,292.06 L202.75,291.28 L203.00,290.50 L203.25,289.72 L203.50,288.94 L203.75,288.17 L204.00,287.40 L204.25,286.65 L204.50,285.91 L204.75,285.19 L205.00,284.48 L205.25,283.80 L205.50,283.14 L205.75,282.51 L206.00,281.91 L206.25,281.34 L206.50,280.80 L206.75,280.31 L207.00,279.85 L207.25,279.44 L207.50,279.07 L207.75,278.76 L208.00,278.49 L208.25,278.28 L208.50,278.13 L208.75,278.03 L209.00,278.00 L209.25,278.04 L209.50,278.17 L209.75,278.39 L210.00,278.68 L210.25,279.04 L210.50,279.48 L210.75,279.98 L211.00,280.55 L211.25,281.17 L211.50,281.86 L211.75,282.59 L212.00,283.38 L212.25,284.20 L212.50,285.07 L212.75,285.98 L213.00,286.92 L213.25,287.89 L213.50,288.88 L213.75,289.90 L214.00,290.94 L214.25,291.99 L214.50,293.05 L214.75,294.13 L215.00,295.20 L215.25,296.27 L215.50,297.35 L215.75,298.41 L216.00,299.46 L216.25,300.50 L216.50,301.52 L216.75,302.51 L217.00,303.48 L217.25,304.42 L217.50,305.33 L217.75,306.20 L218.00,307.02 L218.25,307.81 L218.50,308.54 L218.75,309.23 L219.00,309.85 L219.25,310.42 L219.50,310.92 L219.75,311.36 L220.00,311.72 L220.25,312.01 L220.50,312.23 L220.75,312.36 L221.00,312.40 L221.25,312.31 L221.50,312.06 L221.75,311.66 L222.00,311.10 L222.25,310.41 L222.50,309.58 L222.75,308.63 L223.00,307.57 L223.25,306.41 L223.50,305.15 L223.75,303.80 L224.00,302.38 L224.25,300.88 L224.50,299.33 L224.75,297.72 L225.00,296.07 L225.25,294.38 L225.50,292.67 L225.75,290.94 L226.00,289.20 L226.25,287.46 L226.50,285.73 L226.75,284.02 L227.00,282.33 L227.25,280.68 L227.50,279.07 L227.75,277.52 L228.00,276.02 L228.25,274.60 L228.50,273.25 L228.75,271.99 L229.00,270.83 L229.25,269.77 L229.50,268.82 L229.75,267.99 L230.00,267.30 L230.25,266.74 L230.50,266.34 L230.75,266.09 L231.00,266.00 L231.25,266.09 L231.50,266.34 L231.75,266.76 L232.00,267.33 L232.25,268.04 L232.50,268.89 L232.75,269.87 L233.00,270.97 L233.25,272.19 L233.50,273.51 L233.75,274.94 L234.00,276.45 L234.25,278.05 L234.50,279.72 L234.75,281.46 L235.00,283.26 L235.25,285.11 L235.50,287.01 L235.75,288.95 L236.00,290.91 L236.25,292.90 L236.50,294.90 L236.75,296.90 L237.00,298.91 L237.25,300.90 L237.50,302.88 L237.75,304.83 L238.00,306.75 L238.25,308.63 L238.50,310.47 L238.75,312.24 L239.00,313.96 L239.25,315.60 L239.50,317.17 L239.75,318.64 L240.00,320.03 L240.25,321.31 L240.50,322.48 L240.75,323.54 L241.00,324.47 L241.25,325.26 L241.50,325.92 L241.75,326.43 L242.00,326.78 L242.25,326.97 L242.50,326.98 L242.75,326.71 L243.00,326.15 L243.25,325.33 L243.50,324.25 L243.75,322.94 L244.00,321.40 L244.25,319.65 L244.50,317.72 L244.75,315.61 L245.00,313.34 L245.25,310.92 L245.50,308.38 L245.75,305.73 L246.00,302.97 L246.25,300.14 L246.50,297.24 L246.75,294.29 L247.00,291.30 L247.25,288.30 L247.50,285.30 L247.75,282.30 L248.00,279.34 L248.25,276.41 L248.50,273.55 L248.75,270.76 L249.00,268.07 L249.25,265.48 L249.50,263.01 L249.75,260.68 L250.00,258.50 L250.25,256.50 L250.50,254.68 L250.75,253.05 L251.00,251.65 L251.25,250.47 L251.50,249.55 L251.75,248.88 L252.00,248.50 L252.25,248.41 L252.50,248.59 L252.75,249.03 L253.00,249.72 L253.25,250.64 L253.50,251.78 L253.75,253.13 L254.00,254.68 L254.25,256.42 L254.50,258.34 L254.75,260.42 L255.00,262.65 L255.25,265.02 L255.50,267.53 L255.75,270.15 L256.00,272.88 L256.25,275.71 L256.50,278.62 L256.75,281.60 L257.00,284.65 L257.25,287.75 L257.50,290.88 L257.75,294.05 L258.00,297.23 L258.25,300.41 L258.50,303.59 L258.75,306.75 L259.00,309.87 L259.25,312.96 L259.50,316.00 L259.75,318.97 L260.00,321.86 L260.25,324.67 L260.50,327.38 L260.75,329.98 L261.00,332.46 L261.25,334.81 L261.50,337.01 L261.75,339.06 L262.00,340.94 L262.25,342.64 L262.50,344.15 L262.75,345.46 L263.00,346.56 L263.25,347.44 L263.50,348.08 L263.75,348.47 L264.00,348.60 L264.25,348.29 L264.50,347.40 L264.75,345.94 L265.00,343.98 L265.25,341.53 L265.50,338.63 L265.75,335.33 L266.00,331.66 L266.25,327.65 L266.50,323.34 L266.75,318.77 L267.00,313.97 L267.25,308.99 L267.50,303.85 L267.75,298.59 L268.00,293.26 L268.25,287.88 L268.50,282.49 L268.75,277.13 L269.00,271.84 L269.25,266.65 L269.50,261.60 L269.75,256.73 L270.00,252.06 L270.25,247.64 L270.50,243.51 L270.75,239.70 L271.00,236.24 L271.25,233.18 L271.50,230.55 L271.75,228.38 L272.00,226.72 L272.25,225.60 L272.50,225.05 L272.75,225.07 L273.00,225.47 L273.25,226.22 L273.50,227.31 L273.75,228.71 L274.00,230.42 L274.25,232.42 L274.50,234.69 L274.75,237.21 L275.00,239.98 L275.25,242.97 L275.50,246.17 L275.75,249.56 L276.00,253.13 L276.25,256.86 L276.50,260.74 L276.75,264.76 L277.00,268.88 L277.25,273.11 L277.50,277.42 L277.75,281.80 L278.00,286.24 L278.25,290.71 L278.50,295.20 L278.75,299.70 L279.00,304.19 L279.25,308.65 L279.50,313.08 L279.75,317.45 L280.00,321.74 L280.25,325.95 L280.50,330.06 L280.75,334.04 L281.00,337.90 L281.25,341.60 L281.50,345.14 L281.75,348.49 L282.00,351.65 L282.25,354.60 L282.50,357.31 L282.75,359.79 L283.00,362.00 L283.25,363.94 L283.50,365.59 L283.75,366.93 L284.00,367.96 L284.25,368.64 L284.50,368.97 L284.75,368.86 L285.00,368.02 L285.25,366.47 L285.50,364.25 L285.75,361.40 L286.00,357.96 L286.25,353.99 L286.50,349.53 L286.75,344.63 L287.00,339.31 L287.25,333.65 L287.50,327.66 L287.75,321.41 L288.00,314.94 L288.25,308.29 L288.50,301.50 L288.75,294.62 L289.00,287.70 L289.25,280.78 L289.50,273.90 L289.75,267.11 L290.00,260.46 L290.25,253.99 L290.50,247.74 L290.75,241.75 L291.00,236.09 L291.25,230.77 L291.50,225.87 L291.75,221.41 L292.00,217.44 L292.25,214.00 L292.50,211.15 L292.75,208.93 L293.00,207.38 L293.25,206.54 L293.50,206.44 L293.75,206.84 L294.00,207.66 L294.25,208.90 L294.50,210.52 L294.75,212.52 L295.00,214.86 L295.25,217.54 L295.50,220.54 L295.75,223.83 L296.00,227.39 L296.25,231.21 L296.50,235.27 L296.75,239.55 L297.00,244.03 L297.25,248.69 L297.50,253.51 L297.75,258.48 L298.00,263.57 L298.25,268.77 L298.50,274.05 L298.75,279.40 L299.00,284.80 L299.25,290.23 L299.50,295.68 L299.75,301.11 L300.00,306.52 L300.25,311.88 L300.50,317.18 L300.75,322.40 L301.00,327.51 L301.25,332.51 L301.50,337.36 L301.75,342.05 L302.00,346.57 L302.25,350.89 L302.50,355.00 L302.75,358.87 L303.00,362.48 L303.25,365.83 L303.50,368.88 L303.75,371.63 L304.00,374.04 L304.25,376.11 L304.50,377.81 L304.75,379.12 L305.00,380.03 L305.25,380.52 L305.50,380.53 L305.75,379.71 L306.00,378.04 L306.25,375.57 L306.50,372.36 L306.75,368.45 L307.00,363.90 L307.25,358.77 L307.50,353.10 L307.75,346.96 L308.00,340.40 L308.25,333.47 L308.50,326.23 L308.75,318.73 L309.00,311.02 L309.25,303.16 L309.50,295.20 L309.75,287.20 L310.00,279.21 L310.25,271.28 L310.50,263.48 L310.75,255.84 L311.00,248.44 L311.25,241.31 L311.50,234.52 L311.75,228.13 L312.00,222.17 L312.25,216.71 L312.50,211.81 L312.75,207.51 L313.00,203.87 L313.25,200.95 L313.50,198.79 L313.75,197.46 L314.00,197.00 L314.25,197.24 L314.50,197.95 L314.75,199.12 L315.00,200.71 L315.25,202.71 L315.50,205.10 L315.75,207.85 L316.00,210.96 L316.25,214.39 L316.50,218.12 L316.75,222.15 L317.00,226.44 L317.25,230.97 L317.50,235.73 L317.75,240.70 L318.00,245.84 L318.25,251.16 L318.50,256.61 L318.75,262.19 L319.00,267.87 L319.25,273.63 L319.50,279.45 L319.75,285.32 L320.00,291.20 L320.25,297.08 L320.50,302.95 L320.75,308.77 L321.00,314.53 L321.25,320.21 L321.50,325.79 L321.75,331.24 L322.00,336.56 L322.25,341.70 L322.50,346.67 L322.75,351.43 L323.00,355.96 L323.25,360.25 L323.50,364.28 L323.75,368.01 L324.00,371.44 L324.25,374.55 L324.50,377.30 L324.75,379.69 L325.00,381.69 L325.25,383.28 L325.50,384.45 L325.75,385.16 L326.00,385.40 L326.25,384.96 L326.50,383.68 L326.75,381.61 L327.00,378.80 L327.25,375.30 L327.50,371.15 L327.75,366.41 L328.00,361.12 L328.25,355.34 L328.50,349.11 L328.75,342.49 L329.00,335.52 L329.25,328.25 L329.50,320.74 L329.75,313.03 L330.00,305.17 L330.25,297.21 L330.50,289.20 L330.75,281.19 L331.00,273.23 L331.25,265.37 L331.50,257.66 L331.75,250.15 L332.00,242.88 L332.25,235.91 L332.50,229.29 L332.75,223.06 L333.00,217.28 L333.25,211.99 L333.50,207.25 L333.75,203.10 L334.00,199.60 L334.25,196.79 L334.50,194.72 L334.75,193.44 L335.00,193.00 L335.25,193.25 L335.50,193.98 L335.75,195.17 L336.00,196.81 L336.25,198.86 L336.50,201.32 L336.75,204.15 L337.00,207.34 L337.25,210.87 L337.50,214.71 L337.75,218.84 L338.00,223.25 L338.25,227.91 L338.50,232.80 L338.75,237.90 L339.00,243.19 L339.25,248.65 L339.50,254.26 L339.75,259.99 L340.00,265.82 L340.25,271.74 L340.50,277.73 L340.75,283.75 L341.00,289.80 L341.25,295.85 L341.50,301.87 L341.75,307.86 L342.00,313.78 L342.25,319.61 L342.50,325.34 L342.75,330.95 L343.00,336.41 L343.25,341.70 L343.50,346.80 L343.75,351.69 L344.00,356.35 L344.25,360.76 L344.50,364.89 L344.75,368.73 L345.00,372.26 L345.25,375.45 L345.50,378.28 L345.75,380.74 L346.00,382.79 L346.25,384.43 L346.50,385.62 L346.75,386.35 L347.00,386.60 L347.25,386.16 L347.50,384.87 L347.75,382.78 L348.00,379.94 L348.25,376.40 L348.50,372.21 L348.75,367.43 L349.00,362.09 L349.25,356.26 L349.50,349.97 L349.75,343.29 L350.00,336.25 L350.25,328.92 L350.50,321.33 L350.75,313.55 L351.00,305.62 L351.25,297.58 L351.50,289.50 L351.75,281.42 L352.00,273.38 L352.25,265.45 L352.50,257.67 L352.75,250.08 L353.00,242.75 L353.25,235.71 L353.50,229.03 L353.75,222.74 L354.00,216.91 L354.25,211.57 L354.50,206.79 L354.75,202.60 L355.00,199.06 L355.25,196.22 L355.50,194.13 L355.75,192.84 L356.00,192.40 L356.25,192.65 L356.50,193.38 L356.75,194.57 L357.00,196.21 L357.25,198.26 L357.50,200.72 L357.75,203.55 L358.00,206.74 L358.25,210.27 L358.50,214.11 L358.75,218.24 L359.00,222.65 L359.25,227.31 L359.50,232.20 L359.75,237.30 L360.00,242.59 L360.25,248.05 L360.50,253.66 L360.75,259.39 L361.00,265.22 L361.25,271.14 L361.50,277.13 L361.75,283.15 L362.00,289.20 L362.25,295.25 L362.50,301.27 L362.75,307.26 L363.00,313.18 L363.25,319.01 L363.50,324.74 L363.75,330.35 L364.00,335.81 L364.25,341.10 L364.50,346.20 L364.75,351.09 L365.00,355.75 L365.25,360.16 L365.50,364.29 L365.75,368.13 L366.00,371.66 L366.25,374.85 L366.50,377.68 L366.75,380.14 L367.00,382.19 L367.25,383.83 L367.50,385.02 L367.75,385.75 L368.00,386.00 L368.25,385.61 L368.50,384.48 L368.75,382.63 L369.00,380.12 L369.25,376.99 L369.50,373.27 L369.75,369.01 L370.00,364.25 L370.25,359.03 L370.50,353.38 L370.75,347.36 L371.00,341.00 L371.25,334.35 L371.50,327.44 L371.75,320.32 L372.00,313.03 L372.25,305.60 L372.50,298.08 L372.75,290.52 L373.00,282.94 L373.25,275.40 L373.50,267.93 L373.75,260.58 L374.00,253.38 L374.25,246.38 L374.50,239.62 L374.75,233.14 L375.00,226.98 L375.25,221.18 L375.50,215.79 L375.75,210.84 L376.00,206.37 L376.25,202.43 L376.50,199.06 L376.75,196.29 L377.00,194.18 L377.25,192.75 L377.50,192.06 L377.75,192.09 L378.00,192.65 L378.25,193.68 L378.50,195.18 L378.75,197.12 L379.00,199.47 L379.25,202.22 L379.50,205.34 L379.75,208.81 L380.00,212.62 L380.25,216.73 L380.50,221.13 L380.75,225.79 L381.00,230.70 L381.25,235.83 L381.50,241.16 L381.75,246.66 L382.00,252.32 L382.25,258.12 L382.50,264.03 L382.75,270.03 L383.00,276.11 L383.25,282.22 L383.50,288.37 L383.75,294.52 L384.00,300.65 L384.25,306.74 L384.50,312.78 L384.75,318.73 L385.00,324.57 L385.25,330.29 L385.50,335.86 L385.75,341.26 L386.00,346.48 L386.25,351.47 L386.50,356.24 L386.75,360.74 L387.00,364.97 L387.25,368.90 L387.50,372.51 L387.75,375.78 L388.00,378.68 L388.25,381.19 L388.50,383.30 L388.75,384.97 L389.00,386.20 L389.25,386.95 L389.50,387.20 L389.75,386.84 L390.00,385.79 L390.25,384.08 L390.50,381.76 L390.75,378.84 L391.00,375.38 L391.25,371.41 L391.50,366.96 L391.75,362.07 L392.00,356.78 L392.25,351.12 L392.50,345.13 L392.75,338.84 L393.00,332.29 L393.25,325.52 L393.50,318.56 L393.75,311.45 L394.00,304.23 L394.25,296.92 L394.50,289.57 L394.75,282.22 L395.00,274.89 L395.25,267.63 L395.50,260.47 L395.75,253.44 L396.00,246.59 L396.25,239.95 L396.50,233.55 L396.75,227.44 L397.00,221.64 L397.25,216.20 L397.50,211.14 L397.75,206.51 L398.00,202.35 L398.25,198.68 L398.50,195.54 L398.75,192.98 L399.00,191.02 L399.25,189.70 L399.50,189.06 L399.75,189.09 L400.00,189.62 L400.25,190.60 L400.50,192.03 L400.75,193.88 L401.00,196.13 L401.25,198.76 L401.50,201.75 L401.75,205.08 L402.00,208.73 L402.25,212.69 L402.50,216.92 L402.75,221.42 L403.00,226.16 L403.25,231.12 L403.50,236.28 L403.75,241.63 L404.00,247.14 L404.25,252.79 L404.50,258.56 L404.75,264.44 L405.00,270.40 L405.25,276.42 L405.50,282.49 L405.75,288.58 L406.00,294.68 L406.25,300.75 L406.50,306.80 L406.75,312.79 L407.00,318.70 L407.25,324.52 L407.50,330.22 L407.75,335.79 L408.00,341.20 L408.25,346.44 L408.50,351.48 L408.75,356.31 L409.00,360.91 L409.25,365.25 L409.50,369.32 L409.75,373.10 L410.00,376.56 L410.25,379.69 L410.50,382.46 L410.75,384.87 L411.00,386.88 L411.25,388.48 L411.50,389.64 L411.75,390.36 L412.00,390.60 L412.25,390.25 L412.50,389.22 L412.75,387.56 L413.00,385.28 L413.25,382.43 L413.50,379.04 L413.75,375.14 L414.00,370.77 L414.25,365.97 L414.50,360.76 L414.75,355.18 L415.00,349.27 L415.25,343.05 L415.50,336.57 L415.75,329.86 L416.00,322.95 L416.25,315.88 L416.50,308.67 L416.75,301.37 L417.00,294.01 L417.25,286.62 L417.50,279.24 L417.75,271.90 L418.00,264.63 L418.25,257.48 L418.50,250.46 L418.75,243.63 L419.00,237.00 L419.25,230.63 L419.50,224.53 L419.75,218.75 L420.00,213.31 L420.25,208.26 L420.50,203.63 L420.75,199.44 L421.00,195.74 L421.25,192.57 L421.50,189.94 L421.75,187.90 L422.00,186.49 L422.25,185.73 L422.50,185.64 L422.75,186.07 L423.00,186.95 L423.25,188.28 L423.50,190.02 L423.75,192.17 L424.00,194.70 L424.25,197.58 L424.50,200.81 L424.75,204.37 L425.00,208.23 L425.25,212.37 L425.50,216.78 L425.75,221.44 L426.00,226.32 L426.25,231.41 L426.50,236.69 L426.75,242.14 L427.00,247.74 L427.25,253.47 L427.50,259.31 L427.75,265.25 L428.00,271.25 L428.25,277.32 L428.50,283.41 L428.75,289.52 L429.00,295.63 L429.25,301.71 L429.50,307.76 L429.75,313.74 L430.00,319.64 L430.25,325.44 L430.50,331.12 L430.75,336.66 L431.00,342.04 L431.25,347.25 L431.50,352.26 L431.75,357.05 L432.00,361.61 L432.25,365.92 L432.50,369.95 L432.75,373.69 L433.00,377.12 L433.25,380.21 L433.50,382.96 L433.75,385.34 L434.00,387.32 L434.25,388.90 L434.50,390.06 L434.75,390.76 L435.00,391.00 L435.25,390.66 L435.50,389.68 L435.75,388.07 L436.00,385.89 L436.25,383.14 L436.50,379.88 L436.75,376.13 L437.00,371.92 L437.25,367.28 L437.50,362.25 L437.75,356.87 L438.00,351.15 L438.25,345.14 L438.50,338.86 L438.75,332.35 L439.00,325.65 L439.25,318.77 L439.50,311.76 L439.75,304.65 L440.00,297.47 L440.25,290.25 L440.50,283.02 L440.75,275.82 L441.00,268.67 L441.25,261.62 L441.50,254.68 L441.75,247.91 L442.00,241.31 L442.25,234.94 L442.50,228.82 L442.75,222.98 L443.00,217.46 L443.25,212.28 L443.50,207.49 L443.75,203.10 L444.00,199.17 L444.25,195.70 L444.50,192.75 L444.75,190.33 L445.00,188.49 L445.25,187.25 L445.50,186.65 L445.75,186.67 L446.00,187.10 L446.25,187.90 L446.50,189.05 L446.75,190.55 L447.00,192.39 L447.25,194.53 L447.50,196.98 L447.75,199.72 L448.00,202.72 L448.25,205.99 L448.50,209.50 L448.75,213.24 L449.00,217.19 L449.25,221.35 L449.50,225.69 L449.75,230.20 L450.00,234.87 L450.25,239.68 L450.50,244.63 L450.75,249.69 L451.00,254.84 L451.25,260.09 L451.50,265.41 L451.75,270.78 L452.00,276.20 L452.25,281.64 L452.50,287.10 L452.75,292.56 L453.00,298.00 L453.25,303.42 L453.50,308.79 L453.75,314.11 L454.00,319.36 L454.25,324.51 L454.50,329.57 L454.75,334.52 L455.00,339.33 L455.25,344.00 L455.50,348.51 L455.75,352.85 L456.00,357.01 L456.25,360.96 L456.50,364.70 L456.75,368.21 L457.00,371.48 L457.25,374.48 L457.50,377.22 L457.75,379.67 L458.00,381.81 L458.25,383.65 L458.50,385.15 L458.75,386.30 L459.00,387.10 L459.25,387.53 L459.50,387.55 L459.75,387.01 L460.00,385.90 L460.25,384.24 L460.50,382.06 L460.75,379.39 L461.00,376.25 L461.25,372.68 L461.50,368.71 L461.75,364.35 L462.00,359.64 L462.25,354.61 L462.50,349.29 L462.75,343.69 L463.00,337.86 L463.25,331.81 L463.50,325.58 L463.75,319.20 L464.00,312.68 L464.25,306.07 L464.50,299.38 L464.75,292.65 L465.00,285.90 L465.25,279.16 L465.50,272.46 L465.75,265.83 L466.00,259.30 L466.25,252.88 L466.50,246.62 L466.75,240.53 L467.00,234.66 L467.25,229.01 L467.50,223.63 L467.75,218.54 L468.00,213.76 L468.25,209.34 L468.50,205.28 L468.75,201.63 L469.00,198.41 L469.25,195.64 L469.50,193.36 L469.75,191.59 L470.00,190.37 L470.25,189.71 L470.50,189.63 L470.75,189.98 L471.00,190.71 L471.25,191.80 L471.50,193.24 L471.75,195.00 L472.00,197.09 L472.25,199.48 L472.50,202.16 L472.75,205.12 L473.00,208.33 L473.25,211.79 L473.50,215.48 L473.75,219.39 L474.00,223.50 L474.25,227.79 L474.50,232.26 L474.75,236.88 L475.00,241.65 L475.25,246.54 L475.50,251.55 L475.75,256.66 L476.00,261.85 L476.25,267.12 L476.50,272.44 L476.75,277.80 L477.00,283.18 L477.25,288.58 L477.50,293.97 L477.75,299.35 L478.00,304.70 L478.25,310.00 L478.50,315.23 L478.75,320.39 L479.00,325.46 L479.25,330.43 L479.50,335.28 L479.75,339.99 L480.00,344.55 L480.25,348.95 L480.50,353.17 L480.75,357.20 L481.00,361.02 L481.25,364.62 L481.50,367.98 L481.75,371.10 L482.00,373.94 L482.25,376.51 L482.50,378.78 L482.75,380.74 L483.00,382.38 L483.25,383.68 L483.50,384.63 L483.75,385.20 L484.00,385.40 L484.25,385.12 L484.50,384.31 L484.75,382.98 L485.00,381.17 L485.25,378.89 L485.50,376.17 L485.75,373.04 L486.00,369.52 L486.25,365.63 L486.50,361.40 L486.75,356.86 L487.00,352.03 L487.25,346.93 L487.50,341.59 L487.75,336.03 L488.00,330.28 L488.25,324.36 L488.50,318.30 L488.75,312.12 L489.00,305.85 L489.25,299.51 L489.50,293.12 L489.75,286.72 L490.00,280.32 L490.25,273.95 L490.50,267.63 L490.75,261.39 L491.00,255.26 L491.25,249.25 L491.50,243.40 L491.75,237.72 L492.00,232.25 L492.25,227.00 L492.50,222.00 L492.75,217.28 L493.00,212.87 L493.25,208.77 L493.50,205.03 L493.75,201.66 L494.00,198.69 L494.25,196.15 L494.50,194.05 L494.75,192.43 L495.00,191.30 L495.25,190.70 L495.50,190.63 L495.75,190.94 L496.00,191.58 L496.25,192.55 L496.50,193.83 L496.75,195.40 L497.00,197.26 L497.25,199.39 L497.50,201.79 L497.75,204.43 L498.00,207.31 L498.25,210.41 L498.50,213.73 L498.75,217.24 L499.00,220.94 L499.25,224.82 L499.50,228.86 L499.75,233.06 L500.00,237.39 L500.25,241.85 L500.50,246.42 L500.75,251.10 L501.00,255.87 L501.25,260.71 L501.50,265.62 L501.75,270.59 L502.00,275.59 L502.25,280.63 L502.50,285.68 L502.75,290.73 L503.00,295.78 L503.25,300.81 L503.50,305.81 L503.75,310.77 L504.00,315.66 L504.25,320.49 L504.50,325.24 L504.75,329.90 L505.00,334.45 L505.25,338.89 L505.50,343.19 L505.75,347.36 L506.00,351.37 L506.25,355.21 L506.50,358.88 L506.75,362.35 L507.00,365.63 L507.25,368.69 L507.50,371.52 L507.75,374.11 L508.00,376.46 L508.25,378.53 L508.50,380.34 L508.75,381.85 L509.00,383.07 L509.25,383.97 L509.50,384.55 L509.75,384.79 L510.00,384.65 L510.25,384.03 L510.50,382.96 L510.75,381.45 L511.00,379.54 L511.25,377.23 L511.50,374.55 L511.75,371.52 L512.00,368.15 L512.25,364.47 L512.50,360.50 L512.75,356.26 L513.00,351.76 L513.25,347.03 L513.50,342.09 L513.75,336.96 L514.00,331.65 L514.25,326.20 L514.50,320.61 L514.75,314.91 L515.00,309.11 L515.25,303.25 L515.50,297.33 L515.75,291.38 L516.00,285.41 L516.25,279.46 L516.50,273.53 L516.75,267.66 L517.00,261.85 L517.25,256.12 L517.50,250.51 L517.75,245.03 L518.00,239.69 L518.25,234.52 L518.50,229.54 L518.75,224.77 L519.00,220.22 L519.25,215.93 L519.50,211.90 L519.75,208.16 L520.00,204.73 L520.25,201.63 L520.50,198.88 L520.75,196.49 L521.00,194.50 L521.25,192.91 L521.50,191.75 L521.75,191.04 L522.00,190.80 L522.25,190.97 L522.50,191.48 L522.75,192.31 L523.00,193.45 L523.25,194.88 L523.50,196.61 L523.75,198.61 L524.00,200.87 L524.25,203.38 L524.50,206.14 L524.75,209.11 L525.00,212.31 L525.25,215.70 L525.50,219.28 L525.75,223.05 L526.00,226.98 L526.25,231.06 L526.50,235.28 L526.75,239.64 L527.00,244.11 L527.25,248.69 L527.50,253.37 L527.75,258.12 L528.00,262.95 L528.25,267.83 L528.50,272.76 L528.75,277.72 L529.00,282.71 L529.25,287.70 L529.50,292.69 L529.75,297.67 L530.00,302.62 L530.25,307.53 L530.50,312.39 L530.75,317.19 L531.00,321.91 L531.25,326.55 L531.50,331.09 L531.75,335.52 L532.00,339.82 L532.25,343.99 L532.50,348.01 L532.75,351.88 L533.00,355.57 L533.25,359.08 L533.50,362.40 L533.75,365.50 L534.00,368.39 L534.25,371.05 L534.50,373.46 L534.75,375.62 L535.00,377.51 L535.25,379.13 L535.50,380.45 L535.75,381.46 L536.00,382.16 L536.25,382.54 L536.50,382.57 L536.75,382.20 L537.00,381.43 L537.25,380.28 L537.50,378.77 L537.75,376.90 L538.00,374.71 L538.25,372.20 L538.50,369.38 L538.75,366.29 L539.00,362.92 L539.25,359.31 L539.50,355.46 L539.75,351.38 L540.00,347.11 L540.25,342.65 L540.50,338.01 L540.75,333.22 L541.00,328.30 L541.25,323.25 L541.50,318.09 L541.75,312.84 L542.00,307.52 L542.25,302.14 L542.50,296.72 L542.75,291.27 L543.00,285.82 L543.25,280.37 L543.50,274.94 L543.75,269.55 L544.00,264.22 L544.25,258.95 L544.50,253.78 L544.75,248.70 L545.00,243.75 L545.25,238.93 L545.50,234.27 L545.75,229.77 L546.00,225.46 L546.25,221.34 L546.50,217.45 L546.75,213.78 L547.00,210.36 L547.25,207.21 L547.50,204.34 L547.75,201.77 L548.00,199.51 L548.25,197.58 L548.50,195.99 L548.75,194.77 L549.00,193.93 L549.25,193.47 L549.50,193.42 L549.75,193.70 L550.00,194.27 L550.25,195.13 L550.50,196.26 L550.75,197.65 L551.00,199.30 L551.25,201.20 L551.50,203.33 L551.75,205.68 L552.00,208.24 L552.25,211.01 L552.50,213.97 L552.75,217.11 L553.00,220.43 L553.25,223.90 L553.50,227.53 L553.75,231.30 L554.00,235.19 L554.25,239.21 L554.50,243.34 L554.75,247.56 L555.00,251.88 L555.25,256.27 L555.50,260.73 L555.75,265.25 L556.00,269.82 L556.25,274.43 L556.50,279.06 L556.75,283.71 L557.00,288.36 L557.25,293.01 L557.50,297.65 L557.75,302.26 L558.00,306.84 L558.25,311.37 L558.50,315.84 L558.75,320.25 L559.00,324.58 L559.25,328.83 L559.50,332.97 L559.75,337.01 L560.00,340.93 L560.25,344.73 L560.50,348.38 L560.75,351.89 L561.00,355.24 L561.25,358.41 L561.50,361.41 L561.75,364.22 L562.00,366.83 L562.25,369.22 L562.50,371.39 L562.75,373.34 L563.00,375.04 L563.25,376.48 L563.50,377.67 L563.75,378.58 L564.00,379.21 L564.25,379.54 L564.50,379.57 L564.75,379.22 L565.00,378.51 L565.25,377.43 L565.50,376.02 L565.75,374.28 L566.00,372.23 L566.25,369.88 L566.50,367.25 L566.75,364.35 L567.00,361.20 L567.25,357.81 L567.50,354.20 L567.75,350.38 L568.00,346.37 L568.25,342.18 L568.50,337.83 L568.75,333.33 L569.00,328.70 L569.25,323.94 L569.50,319.09 L569.75,314.14 L570.00,309.12 L570.25,304.04 L570.50,298.92 L570.75,293.77 L571.00,288.60 L571.25,283.43 L571.50,278.28 L571.75,273.16 L572.00,268.08 L572.25,263.06 L572.50,258.11 L572.75,253.26 L573.00,248.50 L573.25,243.87 L573.50,239.37 L573.75,235.02 L574.00,230.83 L574.25,226.82 L574.50,223.00 L574.75,219.39 L575.00,216.00 L575.25,212.85 L575.50,209.95 L575.75,207.32 L576.00,204.97 L576.25,202.92 L576.50,201.18 L576.75,199.77 L577.00,198.69 L577.25,197.98 L577.50,197.63 L577.75,197.65 L578.00,197.98 L578.25,198.59 L578.50,199.48 L578.75,200.64 L579.00,202.05 L579.25,203.70 L579.50,205.59 L579.75,207.71 L580.00,210.04 L580.25,212.57 L580.50,215.30 L580.75,218.22 L581.00,221.31 L581.25,224.56 L581.50,227.96 L581.75,231.51 L582.00,235.19 L582.25,238.99 L582.50,242.91 L582.75,246.92 L583.00,251.03 L583.25,255.23 L583.50,259.49 L583.75,263.81 L584.00,268.19 L584.25,272.61 L584.50,277.05 L584.75,281.52 L585.00,286.00 L585.25,290.48 L585.50,294.95 L585.75,299.39 L586.00,303.81 L586.25,308.19 L586.50,312.51 L586.75,316.77 L587.00,320.97 L587.25,325.08 L587.50,329.09 L587.75,333.01 L588.00,336.81 L588.25,340.49 L588.50,344.04 L588.75,347.44 L589.00,350.69 L589.25,353.78 L589.50,356.70 L589.75,359.43 L590.00,361.96 L590.25,364.29 L590.50,366.41 L590.75,368.30 L591.00,369.95 L591.25,371.36 L591.50,372.52 L591.75,373.41 L592.00,374.02 L592.25,374.35 L592.50,374.37 L592.75,374.04 L593.00,373.34 L593.25,372.30 L593.50,370.93 L593.75,369.24 L594.00,367.25 L594.25,364.97 L594.50,362.41 L594.75,359.60 L595.00,356.53 L595.25,353.23 L595.50,349.71 L595.75,345.98 L596.00,342.06 L596.25,337.97 L596.50,333.70 L596.75,329.29 L597.00,324.75 L597.25,320.07 L597.50,315.30 L597.75,310.42 L598.00,305.47 L598.25,300.45 L598.50,295.37 L598.75,290.26 L599.00,285.12 L599.25,279.97 L599.50,274.82 L599.75,269.69 L600.00,264.59 L600.25,259.54 L600.50,254.54 L600.75,249.62 L601.00,244.78 L601.25,240.04 L601.50,235.42 L601.75,230.93 L602.00,226.57 L602.25,222.37 L602.50,218.35 L602.75,214.50 L603.00,210.86 L603.25,207.42 L603.50,204.22 L603.75,201.25 L604.00,198.53 L604.25,196.08 L604.50,193.92 L604.75,192.04 L605.00,190.48 L605.25,189.24 L605.50,188.34 L605.75,187.79 L606.00,187.60 L606.25,187.77 L606.50,188.29 L606.75,189.14 L607.00,190.31 L607.25,191.78 L607.50,193.55 L607.75,195.60 L608.00,197.92 L608.25,200.51 L608.50,203.34 L608.75,206.42 L609.00,209.71 L609.25,213.23 L609.50,216.94 L609.75,220.84 L610.00,224.93 L610.25,229.18 L610.50,233.59 L610.75,238.14 L611.00,242.82 L611.25,247.63 L611.50,252.54 L611.75,257.55 L612.00,262.65 L612.25,267.83 L612.50,273.06 L612.75,278.35 L613.00,283.67 L613.25,289.03 L613.50,294.40 L613.75,299.78 L614.00,305.14 L614.25,310.49 L614.50,315.81 L614.75,321.09 L615.00,326.31 L615.25,331.47 L615.50,336.56 L615.75,341.55 L616.00,346.44 L616.25,351.22 L616.50,355.88 L616.75,360.41 L617.00,364.78 L617.25,369.00 L617.50,373.05 L617.75,376.92 L618.00,380.59 L618.25,384.06 L618.50,387.32 L618.75,390.34 L619.00,393.13 L619.25,395.66 L619.50,397.93 L619.75,399.93 L620.00,401.64 L620.25,403.05 L620.50,404.16 L620.75,404.94 L621.00,405.39 L621.25,405.49 L621.50,405.20 L621.75,404.54 L622.00,403.58 L622.25,402.38 L622.50,401.01 L622.75,399.53 L623.00,398.00" fill="none" stroke="#0000ff" stroke-width="1.8" stroke-linejoin="round" stroke-linecap="round" />
<line x1="119.5" y1="258.5" x2="119.5" y2="312.5" stroke="#0000ff" stroke-width="1.6" stroke-linecap="round"/>
<line x1="116.9" y1="284" x2="116.9" y2="294" stroke="#0000ff" stroke-width="1.2"/>
<path d="M117.00,282.60 L117.25,282.63 L117.50,282.66 L117.75,282.69 L118.00,282.72 L118.25,282.75 L118.50,282.79 L118.75,282.82 L119.00,282.85 L119.25,282.88 L119.50,282.91 L119.75,282.95 L120.00,282.98 L120.25,283.01 L120.50,283.04 L120.75,283.08 L121.00,283.11 L121.25,283.14 L121.50,283.18 L121.75,283.21 L122.00,283.24 L122.25,283.28 L122.50,283.31 L122.75,283.35 L123.00,283.38 L123.25,283.41 L123.50,283.45 L123.75,283.48 L124.00,283.52 L124.25,283.55 L124.50,283.59 L124.75,283.62 L125.00,283.66 L125.25,283.70 L125.50,283.73 L125.75,283.77 L126.00,283.80 L126.25,283.84 L126.50,283.88 L126.75,283.91 L127.00,283.95 L127.25,283.99 L127.50,284.02 L127.75,284.06 L128.00,284.10 L128.25,284.13 L128.50,284.17 L128.75,284.21 L129.00,284.25 L129.25,284.29 L129.50,284.32 L129.75,284.36 L130.00,284.40 L130.25,284.44 L130.50,284.48 L130.75,284.51 L131.00,284.55 L131.25,284.59 L131.50,284.63 L131.75,284.66 L132.00,284.70 L132.25,284.74 L132.50,284.77 L132.75,284.81 L133.00,284.85 L133.25,284.88 L133.50,284.92 L133.75,284.96 L134.00,284.99 L134.25,285.03 L134.50,285.07 L134.75,285.10 L135.00,285.14 L135.25,285.18 L135.50,285.21 L135.75,285.25 L136.00,285.29 L136.25,285.33 L136.50,285.37 L136.75,285.40 L137.00,285.44 L137.25,285.48 L137.50,285.52 L137.75,285.56 L138.00,285.60 L138.25,285.64 L138.50,285.69 L138.75,285.73 L139.00,285.77 L139.25,285.81 L139.50,285.86 L139.75,285.90 L140.00,285.94 L140.25,285.99 L140.50,286.04 L140.75,286.08 L141.00,286.13 L141.25,286.18 L141.50,286.23 L141.75,286.28 L142.00,286.33 L142.25,286.38 L142.50,286.43 L142.75,286.48 L143.00,286.54 L143.25,286.59 L143.50,286.65 L143.75,286.70 L144.00,286.76 L144.25,286.82 L144.50,286.88 L144.75,286.94 L145.00,287.00 L145.25,287.06 L145.50,287.13 L145.75,287.20 L146.00,287.27 L146.25,287.35 L146.50,287.43 L146.75,287.51 L147.00,287.59 L147.25,287.68 L147.50,287.76 L147.75,287.85 L148.00,287.95 L148.25,288.04 L148.50,288.14 L148.75,288.23 L149.00,288.33 L149.25,288.43 L149.50,288.54 L149.75,288.64 L150.00,288.75 L150.25,288.85 L150.50,288.96 L150.75,289.07 L151.00,289.18 L151.25,289.29 L151.50,289.40 L151.75,289.52 L152.00,289.63 L152.25,289.74 L152.50,289.86 L152.75,289.97 L153.00,290.09 L153.25,290.20 L153.50,290.32 L153.75,290.43 L154.00,290.55 L154.25,290.66 L154.50,290.77 L154.75,290.89 L155.00,291.00 L155.25,291.12 L155.50,291.24 L155.75,291.37 L156.00,291.50 L156.25,291.64 L156.50,291.78 L156.75,291.93 L157.00,292.08 L157.25,292.23 L157.50,292.39 L157.75,292.55 L158.00,292.72 L158.25,292.89 L158.50,293.06 L158.75,293.23 L159.00,293.40 L159.25,293.57 L159.50,293.75 L159.75,293.92 L160.00,294.10 L160.25,294.27 L160.50,294.45 L160.75,294.62 L161.00,294.79 L161.25,294.96 L161.50,295.13 L161.75,295.30 L162.00,295.46 L162.25,295.63 L162.50,295.78 L162.75,295.94 L163.00,296.09 L163.25,296.24 L163.50,296.38 L163.75,296.52 L164.00,296.65 L164.25,296.78 L164.50,296.90 L164.75,297.01 L165.00,297.12 L165.25,297.22 L165.50,297.32 L165.75,297.40 L166.00,297.48 L166.25,297.56 L166.50,297.62 L166.75,297.67 L167.00,297.72 L167.25,297.75 L167.50,297.78 L167.75,297.79 L168.00,297.80 L168.25,297.79 L168.50,297.77 L168.75,297.72 L169.00,297.66 L169.25,297.59 L169.50,297.50 L169.75,297.40 L170.00,297.29 L170.25,297.16 L170.50,297.02 L170.75,296.86 L171.00,296.70 L171.25,296.53 L171.50,296.34 L171.75,296.15 L172.00,295.95 L172.25,295.74 L172.50,295.53 L172.75,295.30 L173.00,295.08 L173.25,294.84 L173.50,294.60 L173.75,294.36 L174.00,294.11 L174.25,293.86 L174.50,293.61 L174.75,293.36 L175.00,293.10 L175.25,292.85 L175.50,292.59 L175.75,292.34 L176.00,292.09 L176.25,291.84 L176.50,291.59 L176.75,291.34 L177.00,291.10 L177.25,290.86 L177.50,290.63 L177.75,290.41 L178.00,290.19 L178.25,289.97 L178.50,289.77 L178.75,289.57 L179.00,289.38 L179.25,289.20 L179.50,289.03 L179.75,288.87 L180.00,288.73 L180.25,288.59 L180.50,288.47 L180.75,288.36 L181.00,288.26 L181.25,288.18 L181.50,288.11 L181.75,288.06 L182.00,288.02 L182.25,288.00 L182.50,288.00 L182.75,288.03 L183.00,288.08 L183.25,288.16 L183.50,288.26 L183.75,288.39 L184.00,288.53 L184.25,288.70 L184.50,288.89 L184.75,289.10 L185.00,289.33 L185.25,289.57 L185.50,289.82 L185.75,290.09 L186.00,290.38 L186.25,290.67 L186.50,290.97 L186.75,291.29 L187.00,291.61 L187.25,291.94 L187.50,292.27 L187.75,292.61 L188.00,292.95 L188.25,293.29 L188.50,293.64 L188.75,293.98 L189.00,294.32 L189.25,294.66 L189.50,295.00 L189.75,295.32 L190.00,295.65 L190.25,295.96 L190.50,296.27 L190.75,296.57 L191.00,296.85 L191.25,297.12 L191.50,297.38 L191.75,297.63 L192.00,297.86 L192.25,298.07 L192.50,298.26 L192.75,298.43 L193.00,298.59 L193.25,298.72 L193.50,298.82 L193.75,298.91 L194.00,298.96 L194.25,298.99 L194.50,299.00 L194.75,298.96 L195.00,298.89 L195.25,298.79 L195.50,298.65 L195.75,298.49 L196.00,298.29 L196.25,298.07 L196.50,297.82 L196.75,297.54 L197.00,297.24 L197.25,296.92 L197.50,296.58 L197.75,296.22 L198.00,295.85 L198.25,295.46 L198.50,295.05 L198.75,294.64 L199.00,294.21 L199.25,293.77 L199.50,293.33 L199.75,292.88 L200.00,292.43 L200.25,291.97 L200.50,291.52 L200.75,291.06 L201.00,290.61 L201.25,290.16 L201.50,289.71 L201.75,289.28 L202.00,288.85 L202.25,288.43 L202.50,288.02 L202.75,287.63 L203.00,287.25 L203.25,286.89 L203.50,286.55 L203.75,286.22 L204.00,285.92 L204.25,285.64 L204.50,285.38 L204.75,285.15 L205.00,284.95 L205.25,284.78 L205.50,284.63 L205.75,284.52 L206.00,284.45 L206.25,284.41 L206.50,284.40 L206.75,284.44 L207.00,284.52 L207.25,284.63 L207.50,284.78 L207.75,284.97 L208.00,285.19 L208.25,285.44 L208.50,285.71 L208.75,286.02 L209.00,286.35 L209.25,286.70 L209.50,287.08 L209.75,287.47 L210.00,287.88 L210.25,288.31 L210.50,288.75 L210.75,289.21 L211.00,289.68 L211.25,290.15 L211.50,290.63 L211.75,291.12 L212.00,291.61 L212.25,292.10 L212.50,292.59 L212.75,293.08 L213.00,293.56 L213.25,294.04 L213.50,294.51 L213.75,294.97 L214.00,295.42 L214.25,295.86 L214.50,296.28 L214.75,296.69 L215.00,297.08 L215.25,297.44 L215.50,297.79 L215.75,298.11 L216.00,298.40 L216.25,298.67 L216.50,298.90 L216.75,299.11 L217.00,299.28 L217.25,299.42 L217.50,299.52 L217.75,299.58 L218.00,299.60 L218.25,299.57 L218.50,299.49 L218.75,299.36 L219.00,299.18 L219.25,298.96 L219.50,298.69 L219.75,298.38 L220.00,298.03 L220.25,297.65 L220.50,297.23 L220.75,296.79 L221.00,296.31 L221.25,295.81 L221.50,295.29 L221.75,294.75 L222.00,294.19 L222.25,293.62 L222.50,293.03 L222.75,292.43 L223.00,291.82 L223.25,291.21 L223.50,290.60 L223.75,289.99 L224.00,289.38 L224.25,288.77 L224.50,288.17 L224.75,287.58 L225.00,287.01 L225.25,286.45 L225.50,285.91 L225.75,285.39 L226.00,284.89 L226.25,284.41 L226.50,283.97 L226.75,283.55 L227.00,283.17 L227.25,282.82 L227.50,282.51 L227.75,282.24 L228.00,282.02 L228.25,281.84 L228.50,281.71 L228.75,281.63 L229.00,281.60 L229.25,281.64 L229.50,281.76 L229.75,281.95 L230.00,282.21 L230.25,282.53 L230.50,282.92 L230.75,283.36 L231.00,283.85 L231.25,284.38 L231.50,284.96 L231.75,285.57 L232.00,286.21 L232.25,286.89 L232.50,287.58 L232.75,288.30 L233.00,289.02 L233.25,289.76 L233.50,290.50 L233.75,291.24 L234.00,291.98 L234.25,292.70 L234.50,293.42 L234.75,294.11 L235.00,294.79 L235.25,295.43 L235.50,296.04 L235.75,296.62 L236.00,297.15 L236.25,297.64 L236.50,298.08 L236.75,298.47 L237.00,298.79 L237.25,299.05 L237.50,299.24 L237.75,299.36 L238.00,299.40 L238.25,299.37 L238.50,299.30 L238.75,299.17 L239.00,299.00 L239.25,298.78 L239.50,298.52 L239.75,298.22 L240.00,297.89 L240.25,297.51 L240.50,297.11 L240.75,296.68 L241.00,296.21 L241.25,295.72 L241.50,295.21 L241.75,294.67 L242.00,294.12 L242.25,293.54 L242.50,292.96 L242.75,292.36 L243.00,291.75 L243.25,291.13 L243.50,290.51 L243.75,289.88 L244.00,289.25 L244.25,288.62 L244.50,288.00 L244.75,287.38 L245.00,286.76 L245.25,286.16 L245.50,285.57 L245.75,285.00 L246.00,284.44 L246.25,283.90 L246.50,283.38 L246.75,282.88 L247.00,282.42 L247.25,281.97 L247.50,281.56 L247.75,281.19 L248.00,280.84 L248.25,280.54 L248.50,280.27 L248.75,280.04 L249.00,279.86 L249.25,279.73 L249.50,279.64 L249.75,279.60 L250.00,279.65 L250.25,279.83 L250.50,280.14 L250.75,280.56 L251.00,281.09 L251.25,281.72 L251.50,282.42 L251.75,283.20 L252.00,284.05 L252.25,284.94 L252.50,285.87 L252.75,286.83 L253.00,287.81 L253.25,288.79 L253.50,289.77 L253.75,290.74 L254.00,291.68 L254.25,292.58 L254.50,293.43 L254.75,294.23 L255.00,294.95 L255.25,295.59 L255.50,296.14 L255.75,296.59 L256.00,296.92 L256.25,297.13 L256.50,297.20 L256.75,297.18 L257.00,297.12 L257.25,297.02 L257.50,296.90 L257.75,296.75 L258.00,296.58 L258.25,296.39 L258.50,296.20 L258.75,296.00 L259.00,295.80 L259.25,295.61 L259.50,295.42 L259.75,295.25 L260.00,295.10 L260.25,294.98 L260.50,294.88 L260.75,294.82 L261.00,294.80 L261.25,294.85 L261.50,294.98 L261.75,295.18 L262.00,295.43 L262.25,295.73 L262.50,296.06 L262.75,296.40 L263.00,296.74 L263.25,297.07 L263.50,297.37 L263.75,297.62 L264.00,297.82 L264.25,297.95 L264.50,298.00 L264.75,297.91 L265.00,297.65 L265.25,297.23 L265.50,296.66 L265.75,295.97 L266.00,295.16 L266.25,294.25 L266.50,293.25 L266.75,292.18 L267.00,291.05 L267.25,289.88 L267.50,288.67 L267.75,287.45 L268.00,286.22 L268.25,285.00 L268.50,283.82 L268.75,282.67 L269.00,281.57 L269.25,280.54 L269.50,279.59 L269.75,278.74 L270.00,278.00 L270.25,277.38 L270.50,276.90 L270.75,276.58 L271.00,276.41 L271.25,276.45 L271.50,276.78 L271.75,277.36 L272.00,278.18 L272.25,279.20 L272.50,280.39 L272.75,281.72 L273.00,283.16 L273.25,284.68 L273.50,286.25 L273.75,287.83 L274.00,289.41 L274.25,290.94 L274.50,292.40 L274.75,293.75 L275.00,294.98 L275.25,296.03 L275.50,296.89 L275.75,297.53 L276.00,297.90 L276.25,298.00 L276.50,297.91 L276.75,297.71 L277.00,297.41 L277.25,297.02 L277.50,296.55 L277.75,296.02 L278.00,295.43 L278.25,294.80 L278.50,294.15 L278.75,293.47 L279.00,292.79 L279.25,292.12 L279.50,291.47 L279.75,290.85 L280.00,290.27 L280.25,289.75 L280.50,289.30 L280.75,288.92 L281.00,288.64 L281.25,288.46 L281.50,288.40 L281.75,288.50 L282.00,288.79 L282.25,289.24 L282.50,289.84 L282.75,290.55 L283.00,291.37 L283.25,292.26 L283.50,293.21 L283.75,294.20 L284.00,295.20 L284.25,296.19 L284.50,297.15 L284.75,298.06 L285.00,298.89 L285.25,299.63 L285.50,300.25 L285.75,300.73 L286.00,301.06 L286.25,301.20 L286.50,301.10 L286.75,300.72 L287.00,300.07 L287.25,299.18 L287.50,298.08 L287.75,296.81 L288.00,295.38 L288.25,293.83 L288.50,292.18 L288.75,290.46 L289.00,288.71 L289.25,286.94 L289.50,285.19 L289.75,283.49 L290.00,281.85 L290.25,280.33 L290.50,278.92 L290.75,277.68 L291.00,276.63 L291.25,275.78 L291.50,275.18 L291.75,274.86 L292.00,274.83 L292.25,275.12 L292.50,275.72 L292.75,276.58 L293.00,277.67 L293.25,278.95 L293.50,280.40 L293.75,281.98 L294.00,283.66 L294.25,285.39 L294.50,287.15 L294.75,288.91 L295.00,290.62 L295.25,292.26 L295.50,293.79 L295.75,295.18 L296.00,296.39 L296.25,297.40 L296.50,298.15 L296.75,298.63 L297.00,298.80 L297.25,298.71 L297.50,298.44 L297.75,298.02 L298.00,297.46 L298.25,296.77 L298.50,295.99 L298.75,295.13 L299.00,294.20 L299.25,293.22 L299.50,292.21 L299.75,291.19 L300.00,290.18 L300.25,289.20 L300.50,288.25 L300.75,287.37 L301.00,286.57 L301.25,285.87 L301.50,285.29 L301.75,284.83 L302.00,284.53 L302.25,284.40 L302.50,284.48 L302.75,284.80 L303.00,285.34 L303.25,286.08 L303.50,286.98 L303.75,288.02 L304.00,289.17 L304.25,290.41 L304.50,291.72 L304.75,293.06 L305.00,294.41 L305.25,295.75 L305.50,297.04 L305.75,298.27 L306.00,299.40 L306.25,300.42 L306.50,301.28 L306.75,301.98 L307.00,302.48 L307.25,302.75 L307.50,302.77 L307.75,302.42 L308.00,301.73 L308.25,300.73 L308.50,299.45 L308.75,297.95 L309.00,296.26 L309.25,294.42 L309.50,292.47 L309.75,290.44 L310.00,288.39 L310.25,286.34 L310.50,284.34 L310.75,282.43 L311.00,280.64 L311.25,279.02 L311.50,277.61 L311.75,276.44 L312.00,275.55 L312.25,275.00 L312.50,274.80 L312.75,274.96 L313.00,275.40 L313.25,276.11 L313.50,277.04 L313.75,278.18 L314.00,279.48 L314.25,280.92 L314.50,282.47 L314.75,284.10 L315.00,285.78 L315.25,287.48 L315.50,289.16 L315.75,290.81 L316.00,292.38 L316.25,293.84 L316.50,295.18 L316.75,296.35 L317.00,297.32 L317.25,298.08 L317.50,298.58 L317.75,298.79 L318.00,298.73 L318.25,298.45 L318.50,297.98 L318.75,297.34 L319.00,296.56 L319.25,295.66 L319.50,294.65 L319.75,293.57 L320.00,292.44 L320.25,291.27 L320.50,290.09 L320.75,288.93 L321.00,287.81 L321.25,286.74 L321.50,285.76 L321.75,284.87 L322.00,284.12 L322.25,283.51 L322.50,283.08 L322.75,282.84 L323.00,282.82 L323.25,283.08 L323.50,283.59 L323.75,284.34 L324.00,285.28 L324.25,286.39 L324.50,287.63 L324.75,288.99 L325.00,290.42 L325.25,291.90 L325.50,293.40 L325.75,294.89 L326.00,296.33 L326.25,297.70 L326.50,298.97 L326.75,300.11 L327.00,301.09 L327.25,301.87 L327.50,302.44 L327.75,302.75 L328.00,302.77 L328.25,302.43 L328.50,301.76 L328.75,300.79 L329.00,299.55 L329.25,298.09 L329.50,296.45 L329.75,294.66 L330.00,292.76 L330.25,290.80 L330.50,288.80 L330.75,286.81 L331.00,284.87 L331.25,283.01 L331.50,281.27 L331.75,279.70 L332.00,278.33 L332.25,277.19 L332.50,276.33 L332.75,275.79 L333.00,275.60 L333.25,275.73 L333.50,276.09 L333.75,276.66 L334.00,277.42 L334.25,278.35 L334.50,279.42 L334.75,280.61 L335.00,281.90 L335.25,283.26 L335.50,284.67 L335.75,286.11 L336.00,287.56 L336.25,288.98 L336.50,290.37 L336.75,291.69 L337.00,292.92 L337.25,294.04 L337.50,295.03 L337.75,295.86 L338.00,296.51 L338.25,296.96 L338.50,297.18 L338.75,297.16 L339.00,296.92 L339.25,296.48 L339.50,295.87 L339.75,295.12 L340.00,294.24 L340.25,293.27 L340.50,292.22 L340.75,291.12 L341.00,290.00 L341.25,288.88 L341.50,287.78 L341.75,286.73 L342.00,285.76 L342.25,284.88 L342.50,284.13 L342.75,283.52 L343.00,283.08 L343.25,282.84 L343.50,282.82 L343.75,283.05 L344.00,283.50 L344.25,284.16 L344.50,284.99 L344.75,285.98 L345.00,287.10 L345.25,288.33 L345.50,289.63 L345.75,290.98 L346.00,292.37 L346.25,293.76 L346.50,295.13 L346.75,296.46 L347.00,297.72 L347.25,298.88 L347.50,299.93 L347.75,300.83 L348.00,301.56 L348.25,302.10 L348.50,302.42 L348.75,302.49 L349.00,302.31 L349.25,301.89 L349.50,301.26 L349.75,300.42 L350.00,299.41 L350.25,298.25 L350.50,296.96 L350.75,295.56 L351.00,294.07 L351.25,292.52 L351.50,290.92 L351.75,289.30 L352.00,287.68 L352.25,286.08 L352.50,284.53 L352.75,283.04 L353.00,281.64 L353.25,280.35 L353.50,279.19 L353.75,278.18 L354.00,277.34 L354.25,276.71 L354.50,276.29 L354.75,276.11 L355.00,276.19 L355.25,276.53 L355.50,277.10 L355.75,277.87 L356.00,278.81 L356.25,279.91 L356.50,281.12 L356.75,282.41 L357.00,283.78 L357.25,285.17 L357.50,286.57 L357.75,287.95 L358.00,289.27 L358.25,290.52 L358.50,291.66 L358.75,292.67 L359.00,293.52 L359.25,294.17 L359.50,294.61 L359.75,294.79 L360.00,294.74 L360.25,294.52 L360.50,294.15 L360.75,293.66 L361.00,293.05 L361.25,292.35 L361.50,291.58 L361.75,290.76 L362.00,289.90 L362.25,289.03 L362.50,288.16 L362.75,287.31 L363.00,286.50 L363.25,285.76 L363.50,285.09 L363.75,284.53 L364.00,284.08 L364.25,283.77 L364.50,283.61 L364.75,283.65 L365.00,283.91 L365.25,284.40 L365.50,285.07 L365.75,285.92 L366.00,286.91 L366.25,288.02 L366.50,289.23 L366.75,290.52 L367.00,291.85 L367.25,293.20 L367.50,294.55 L367.75,295.88 L368.00,297.17 L368.25,298.38 L368.50,299.49 L368.75,300.48 L369.00,301.33 L369.25,302.00 L369.50,302.49 L369.75,302.75 L370.00,302.78 L370.25,302.56 L370.50,302.12 L370.75,301.47 L371.00,300.64 L371.25,299.65 L371.50,298.52 L371.75,297.26 L372.00,295.90 L372.25,294.46 L372.50,292.96 L372.75,291.41 L373.00,289.85 L373.25,288.29 L373.50,286.74 L373.75,285.24 L374.00,283.80 L374.25,282.44 L374.50,281.18 L374.75,280.05 L375.00,279.06 L375.25,278.23 L375.50,277.58 L375.75,277.14 L376.00,276.92 L376.25,276.93 L376.50,277.14 L376.75,277.51 L377.00,278.03 L377.25,278.68 L377.50,279.44 L377.75,280.29 L378.00,281.21 L378.25,282.19 L378.50,283.21 L378.75,284.25 L379.00,285.29 L379.25,286.31 L379.50,287.29 L379.75,288.21 L380.00,289.06 L380.25,289.82 L380.50,290.47 L380.75,290.99 L381.00,291.36 L381.25,291.57 L381.50,291.59 L381.75,291.45 L382.00,291.18 L382.25,290.79 L382.50,290.30 L382.75,289.73 L383.00,289.10 L383.25,288.43 L383.50,287.74 L383.75,287.04 L384.00,286.36 L384.25,285.72 L384.50,285.12 L384.75,284.60 L385.00,284.17 L385.25,283.84 L385.50,283.65 L385.75,283.60 L386.00,283.74 L386.25,284.07 L386.50,284.57 L386.75,285.21 L387.00,286.00 L387.25,286.90 L387.50,287.90 L387.75,288.99 L388.00,290.15 L388.25,291.35 L388.50,292.59 L388.75,293.85 L389.00,295.11 L389.25,296.35 L389.50,297.55 L389.75,298.71 L390.00,299.80 L390.25,300.80 L390.50,301.70 L390.75,302.49 L391.00,303.13 L391.25,303.63 L391.50,303.96 L391.75,304.10 L392.00,304.02 L392.25,303.72 L392.50,303.20 L392.75,302.50 L393.00,301.62 L393.25,300.58 L393.50,299.41 L393.75,298.13 L394.00,296.75 L394.25,295.29 L394.50,293.78 L394.75,292.22 L395.00,290.65 L395.25,289.08 L395.50,287.52 L395.75,286.01 L396.00,284.55 L396.25,283.17 L396.50,281.89 L396.75,280.72 L397.00,279.68 L397.25,278.80 L397.50,278.10 L397.75,277.58 L398.00,277.28 L398.25,277.20 L398.50,277.30 L398.75,277.52 L399.00,277.86 L399.25,278.31 L399.50,278.84 L399.75,279.45 L400.00,280.12 L400.25,280.85 L400.50,281.61 L400.75,282.40 L401.00,283.20 L401.25,284.00 L401.50,284.79 L401.75,285.55 L402.00,286.28 L402.25,286.95 L402.50,287.56 L402.75,288.09 L403.00,288.54 L403.25,288.88 L403.50,289.10 L403.75,289.20 L404.00,289.14 L404.25,288.93 L404.50,288.57 L404.75,288.10 L405.00,287.54 L405.25,286.92 L405.50,286.26 L405.75,285.58 L406.00,284.91 L406.25,284.28 L406.50,283.70 L406.75,283.21 L407.00,282.83 L407.25,282.59 L407.50,282.50 L407.75,282.60 L408.00,282.89 L408.25,283.36 L408.50,283.99 L408.75,284.76 L409.00,285.66 L409.25,286.66 L409.50,287.76 L409.75,288.94 L410.00,290.19 L410.25,291.47 L410.50,292.79 L410.75,294.12 L411.00,295.44 L411.25,296.75 L411.50,298.02 L411.75,299.24 L412.00,300.39 L412.25,301.45 L412.50,302.42 L412.75,303.26 L413.00,303.98 L413.25,304.55 L413.50,304.95 L413.75,305.16 L414.00,305.18 L414.25,305.01 L414.50,304.66 L414.75,304.15 L415.00,303.49 L415.25,302.69 L415.50,301.77 L415.75,300.74 L416.00,299.61 L416.25,298.40 L416.50,297.12 L416.75,295.79 L417.00,294.42 L417.25,293.01 L417.50,291.60 L417.75,290.19 L418.00,288.78 L418.25,287.41 L418.50,286.08 L418.75,284.80 L419.00,283.59 L419.25,282.46 L419.50,281.43 L419.75,280.51 L420.00,279.71 L420.25,279.05 L420.50,278.54 L420.75,278.19 L421.00,278.02 L421.25,278.02 L421.50,278.16 L421.75,278.42 L422.00,278.77 L422.25,279.21 L422.50,279.73 L422.75,280.32 L423.00,280.96 L423.25,281.63 L423.50,282.34 L423.75,283.06 L424.00,283.78 L424.25,284.49 L424.50,285.18 L424.75,285.83 L425.00,286.44 L425.25,286.99 L425.50,287.46 L425.75,287.85 L426.00,288.15 L426.25,288.34 L426.50,288.40 L426.75,288.31 L427.00,288.04 L427.25,287.63 L427.50,287.11 L427.75,286.49 L428.00,285.81 L428.25,285.09 L428.50,284.36 L428.75,283.65 L429.00,282.98 L429.25,282.38 L429.50,281.88 L429.75,281.49 L430.00,281.26 L430.25,281.20 L430.50,281.33 L430.75,281.63 L431.00,282.08 L431.25,282.68 L431.50,283.41 L431.75,284.25 L432.00,285.20 L432.25,286.23 L432.50,287.34 L432.75,288.52 L433.00,289.74 L433.25,291.00 L433.50,292.28 L433.75,293.57 L434.00,294.85 L434.25,296.11 L434.50,297.34 L434.75,298.53 L435.00,299.65 L435.25,300.70 L435.50,301.67 L435.75,302.53 L436.00,303.29 L436.25,303.91 L436.50,304.39 L436.75,304.72 L437.00,304.89 L437.25,304.87 L437.50,304.67 L437.75,304.31 L438.00,303.79 L438.25,303.14 L438.50,302.35 L438.75,301.46 L439.00,300.46 L439.25,299.37 L439.50,298.21 L439.75,296.99 L440.00,295.72 L440.25,294.41 L440.50,293.07 L440.75,291.73 L441.00,290.39 L441.25,289.07 L441.50,287.77 L441.75,286.52 L442.00,285.32 L442.25,284.18 L442.50,283.13 L442.75,282.17 L443.00,281.32 L443.25,280.59 L443.50,279.98 L443.75,279.53 L444.00,279.23 L444.25,279.10 L444.50,279.13 L444.75,279.23 L445.00,279.41 L445.25,279.66 L445.50,279.96 L445.75,280.31 L446.00,280.71 L446.25,281.14 L446.50,281.61 L446.75,282.09 L447.00,282.59 L447.25,283.10 L447.50,283.61 L447.75,284.11 L448.00,284.59 L448.25,285.06 L448.50,285.49 L448.75,285.89 L449.00,286.24 L449.25,286.54 L449.50,286.79 L449.75,286.97 L450.00,287.07 L450.25,287.10 L450.50,287.01 L450.75,286.80 L451.00,286.49 L451.25,286.10 L451.50,285.63 L451.75,285.12 L452.00,284.56 L452.25,283.98 L452.50,283.40 L452.75,282.83 L453.00,282.28 L453.25,281.77 L453.50,281.32 L453.75,280.94 L454.00,280.65 L454.25,280.47 L454.50,280.40 L454.75,280.48 L455.00,280.70 L455.25,281.07 L455.50,281.56 L455.75,282.16 L456.00,282.87 L456.25,283.68 L456.50,284.57 L456.75,285.53 L457.00,286.55 L457.25,287.63 L457.50,288.75 L457.75,289.89 L458.00,291.06 L458.25,292.24 L458.50,293.41 L458.75,294.57 L459.00,295.70 L459.25,296.81 L459.50,297.86 L459.75,298.86 L460.00,299.80 L460.25,300.65 L460.50,301.42 L460.75,302.09 L461.00,302.65 L461.25,303.09 L461.50,303.40 L461.75,303.57 L462.00,303.59 L462.25,303.44 L462.50,303.15 L462.75,302.72 L463.00,302.16 L463.25,301.49 L463.50,300.71 L463.75,299.84 L464.00,298.88 L464.25,297.86 L464.50,296.78 L464.75,295.65 L465.00,294.49 L465.25,293.30 L465.50,292.09 L465.75,290.89 L466.00,289.69 L466.25,288.51 L466.50,287.37 L466.75,286.26 L467.00,285.22 L467.25,284.23 L467.50,283.33 L467.75,282.51 L468.00,281.80 L468.25,281.19 L468.50,280.71 L468.75,280.36 L469.00,280.15 L469.25,280.10 L469.50,280.17 L469.75,280.33 L470.00,280.57 L470.25,280.88 L470.50,281.25 L470.75,281.66 L471.00,282.10 L471.25,282.57 L471.50,283.05 L471.75,283.53 L472.00,284.00 L472.25,284.44 L472.50,284.85 L472.75,285.22 L473.00,285.53 L473.25,285.77 L473.50,285.93 L473.75,286.00 L474.00,285.97 L474.25,285.86 L474.50,285.68 L474.75,285.43 L475.00,285.13 L475.25,284.78 L475.50,284.39 L475.75,283.98 L476.00,283.55 L476.25,283.11 L476.50,282.68 L476.75,282.25 L477.00,281.85 L477.25,281.48 L477.50,281.15 L477.75,280.86 L478.00,280.64 L478.25,280.48 L478.50,280.41 L478.75,280.42 L479.00,280.56 L479.25,280.80 L479.50,281.16 L479.75,281.61 L480.00,282.15 L480.25,282.78 L480.50,283.48 L480.75,284.24 L481.00,285.07 L481.25,285.94 L481.50,286.86 L481.75,287.81 L482.00,288.79 L482.25,289.79 L482.50,290.80 L482.75,291.81 L483.00,292.81 L483.25,293.81 L483.50,294.78 L483.75,295.73 L484.00,296.64 L484.25,297.50 L484.50,298.32 L484.75,299.07 L485.00,299.75 L485.25,300.36 L485.50,300.89 L485.75,301.32 L486.00,301.65 L486.25,301.88 L486.50,301.99 L486.75,301.98 L487.00,301.85 L487.25,301.61 L487.50,301.27 L487.75,300.83 L488.00,300.31 L488.25,299.71 L488.50,299.04 L488.75,298.30 L489.00,297.51 L489.25,296.67 L489.50,295.78 L489.75,294.87 L490.00,293.92 L490.25,292.96 L490.50,291.99 L490.75,291.02 L491.00,290.05 L491.25,289.09 L491.50,288.15 L491.75,287.24 L492.00,286.36 L492.25,285.53 L492.50,284.75 L492.75,284.02 L493.00,283.36 L493.25,282.78 L493.50,282.27 L493.75,281.85 L494.00,281.53 L494.25,281.32 L494.50,281.21 L494.75,281.22 L495.00,281.30 L495.25,281.47 L495.50,281.69 L495.75,281.97 L496.00,282.29 L496.25,282.65 L496.50,283.03 L496.75,283.44 L497.00,283.85 L497.25,284.26 L497.50,284.67 L497.75,285.05 L498.00,285.41 L498.25,285.73 L498.50,286.01 L498.75,286.23 L499.00,286.40 L499.25,286.48 L499.50,286.49 L499.75,286.40 L500.00,286.20 L500.25,285.93 L500.50,285.58 L500.75,285.17 L501.00,284.71 L501.25,284.22 L501.50,283.69 L501.75,283.16 L502.00,282.62 L502.25,282.09 L502.50,281.58 L502.75,281.11 L503.00,280.68 L503.25,280.30 L503.50,280.00 L503.75,279.77 L504.00,279.63 L504.25,279.60 L504.50,279.68 L504.75,279.87 L505.00,280.16 L505.25,280.54 L505.50,281.00 L505.75,281.55 L506.00,282.17 L506.25,282.86 L506.50,283.60 L506.75,284.40 L507.00,285.24 L507.25,286.11 L507.50,287.02 L507.75,287.96 L508.00,288.91 L508.25,289.87 L508.50,290.83 L508.75,291.78 L509.00,292.73 L509.25,293.66 L509.50,294.56 L509.75,295.43 L510.00,296.27 L510.25,297.05 L510.50,297.79 L510.75,298.46 L511.00,299.06 L511.25,299.60 L511.50,300.05 L511.75,300.41 L512.00,300.68 L512.25,300.84 L512.50,300.90 L512.75,300.85 L513.00,300.69 L513.25,300.43 L513.50,300.09 L513.75,299.66 L514.00,299.16 L514.25,298.58 L514.50,297.95 L514.75,297.26 L515.00,296.52 L515.25,295.74 L515.50,294.92 L515.75,294.08 L516.00,293.21 L516.25,292.33 L516.50,291.45 L516.75,290.57 L517.00,289.69 L517.25,288.82 L517.50,287.98 L517.75,287.16 L518.00,286.38 L518.25,285.64 L518.50,284.95 L518.75,284.32 L519.00,283.74 L519.25,283.24 L519.50,282.81 L519.75,282.47 L520.00,282.21 L520.25,282.05 L520.50,282.00 L520.75,282.04 L521.00,282.14 L521.25,282.31 L521.50,282.53 L521.75,282.80 L522.00,283.10 L522.25,283.44 L522.50,283.80 L522.75,284.17 L523.00,284.55 L523.25,284.93 L523.50,285.30 L523.75,285.66 L524.00,286.00 L524.25,286.30 L524.50,286.57 L524.75,286.79 L525.00,286.96 L525.25,287.06 L525.50,287.10 L525.75,287.06 L526.00,286.95 L526.25,286.77 L526.50,286.53 L526.75,286.23 L527.00,285.89 L527.25,285.51 L527.50,285.10 L527.75,284.66 L528.00,284.20 L528.25,283.73 L528.50,283.25 L528.75,282.78 L529.00,282.31 L529.25,281.86 L529.50,281.43 L529.75,281.03 L530.00,280.67 L530.25,280.34 L530.50,280.07 L530.75,279.85 L531.00,279.70 L531.25,279.61 L531.50,279.61 L531.75,279.69 L532.00,279.86 L532.25,280.12 L532.50,280.44 L532.75,280.84 L533.00,281.31 L533.25,281.84 L533.50,282.41 L533.75,283.04 L534.00,283.71 L534.25,284.42 L534.50,285.16 L534.75,285.92 L535.00,286.71 L535.25,287.51 L535.50,288.31 L535.75,289.12 L536.00,289.93 L536.25,290.74 L536.50,291.52 L536.75,292.29 L537.00,293.04 L537.25,293.75 L537.50,294.43 L537.75,295.06 L538.00,295.65 L538.25,296.19 L538.50,296.67 L538.75,297.08 L539.00,297.42 L539.25,297.69 L539.50,297.88 L539.75,297.98 L540.00,297.99 L540.25,297.91 L540.50,297.73 L540.75,297.47 L541.00,297.13 L541.25,296.72 L541.50,296.25 L541.75,295.72 L542.00,295.14 L542.25,294.52 L542.50,293.86 L542.75,293.17 L543.00,292.46 L543.25,291.73 L543.50,291.00 L543.75,290.26 L544.00,289.52 L544.25,288.80 L544.50,288.09 L544.75,287.41 L545.00,286.75 L545.25,286.14 L545.50,285.57 L545.75,285.05 L546.00,284.59 L546.25,284.20 L546.50,283.88 L546.75,283.63 L547.00,283.47 L547.25,283.40 L547.50,283.42 L547.75,283.50 L548.00,283.62 L548.25,283.80 L548.50,284.01 L548.75,284.27 L549.00,284.55 L549.25,284.85 L549.50,285.18 L549.75,285.52 L550.00,285.86 L550.25,286.21 L550.50,286.55 L550.75,286.89 L551.00,287.21 L551.25,287.51 L551.50,287.79 L551.75,288.03 L552.00,288.24 L552.25,288.41 L552.50,288.52 L552.75,288.59 L553.00,288.59 L553.25,288.52 L553.50,288.38 L553.75,288.18 L554.00,287.91 L554.25,287.59 L554.50,287.22 L554.75,286.81 L555.00,286.36 L555.25,285.89 L555.50,285.39 L555.75,284.87 L556.00,284.34 L556.25,283.80 L556.50,283.26 L556.75,282.73 L557.00,282.21 L557.25,281.71 L557.50,281.24 L557.75,280.79 L558.00,280.38 L558.25,280.01 L558.50,279.69 L558.75,279.42 L559.00,279.22 L559.25,279.08 L559.50,279.01 L559.75,279.02 L560.00,279.11 L560.25,279.28 L560.50,279.52 L560.75,279.83 L561.00,280.21 L561.25,280.64 L561.50,281.13 L561.75,281.66 L562.00,282.24 L562.25,282.86 L562.50,283.51 L562.75,284.18 L563.00,284.88 L563.25,285.59 L563.50,286.32 L563.75,287.06 L564.00,287.79 L564.25,288.53 L564.50,289.25 L564.75,289.96 L565.00,290.66 L565.25,291.33 L565.50,291.97 L565.75,292.58 L566.00,293.15 L566.25,293.67 L566.50,294.15 L566.75,294.57 L567.00,294.93 L567.25,295.23 L567.50,295.46 L567.75,295.62 L568.00,295.69 L568.25,295.69 L568.50,295.61 L568.75,295.46 L569.00,295.25 L569.25,294.98 L569.50,294.66 L569.75,294.30 L570.00,293.89 L570.25,293.45 L570.50,292.98 L570.75,292.48 L571.00,291.96 L571.25,291.43 L571.50,290.89 L571.75,290.34 L572.00,289.80 L572.25,289.26 L572.50,288.73 L572.75,288.22 L573.00,287.73 L573.25,287.27 L573.50,286.84 L573.75,286.45 L574.00,286.10 L574.25,285.80 L574.50,285.56 L574.75,285.37 L575.00,285.25 L575.25,285.20 L575.50,285.22 L575.75,285.29 L576.00,285.41 L576.25,285.58 L576.50,285.78 L576.75,286.02 L577.00,286.28 L577.25,286.56 L577.50,286.86 L577.75,287.16 L578.00,287.47 L578.25,287.78 L578.50,288.08 L578.75,288.37 L579.00,288.63 L579.25,288.87 L579.50,289.08 L579.75,289.26 L580.00,289.39 L580.25,289.47 L580.50,289.50 L580.75,289.47 L581.00,289.38 L581.25,289.23 L581.50,289.04 L581.75,288.79 L582.00,288.50 L582.25,288.18 L582.50,287.81 L582.75,287.42 L583.00,287.00 L583.25,286.55 L583.50,286.08 L583.75,285.60 L584.00,285.11 L584.25,284.61 L584.50,284.10 L584.75,283.59 L585.00,283.09 L585.25,282.60 L585.50,282.12 L585.75,281.65 L586.00,281.20 L586.25,280.78 L586.50,280.39 L586.75,280.02 L587.00,279.70 L587.25,279.41 L587.50,279.16 L587.75,278.97 L588.00,278.82 L588.25,278.73 L588.50,278.70 L588.75,278.74 L589.00,278.84 L589.25,279.01 L589.50,279.23 L589.75,279.51 L590.00,279.85 L590.25,280.22 L590.50,280.64 L590.75,281.10 L591.00,281.59 L591.25,282.11 L591.50,282.66 L591.75,283.22 L592.00,283.80 L592.25,284.39 L592.50,284.99 L592.75,285.59 L593.00,286.19 L593.25,286.78 L593.50,287.36 L593.75,287.93 L594.00,288.48 L594.25,289.01 L594.50,289.50 L594.75,289.97 L595.00,290.39 L595.25,290.78 L595.50,291.12 L595.75,291.42 L596.00,291.65 L596.25,291.83 L596.50,291.95 L596.75,292.00 L597.00,291.99 L597.25,291.95 L597.50,291.88 L597.75,291.79 L598.00,291.68 L598.25,291.55 L598.50,291.40 L598.75,291.25 L599.00,291.08 L599.25,290.90 L599.50,290.72 L599.75,290.54 L600.00,290.36 L600.25,290.19 L600.50,290.02 L600.75,289.87 L601.00,289.72 L601.25,289.59 L601.50,289.49 L601.75,289.40 L602.00,289.34 L602.25,289.31 L602.50,289.30 L602.75,289.34 L603.00,289.42 L603.25,289.54 L603.50,289.68 L603.75,289.86 L604.00,290.05 L604.25,290.27 L604.50,290.50 L604.75,290.75 L605.00,291.00 L605.25,291.25 L605.50,291.50 L605.75,291.75 L606.00,291.99 L606.25,292.22 L606.50,292.43 L606.75,292.62 L607.00,292.78 L607.25,292.91 L607.50,293.01 L607.75,293.08 L608.00,293.10 L608.25,293.01 L608.50,292.76 L608.75,292.35 L609.00,291.81 L609.25,291.13 L609.50,290.34 L609.75,289.45 L610.00,288.46 L610.25,287.39 L610.50,286.26 L610.75,285.08 L611.00,283.85 L611.25,282.59 L611.50,281.31 L611.75,280.03 L612.00,278.76 L612.25,277.50 L612.50,276.28 L612.75,275.11 L613.00,273.99 L613.25,272.94 L613.50,271.97 L613.75,271.09 L614.00,270.32 L614.25,269.67 L614.50,269.15 L614.75,268.78 L615.00,268.56 L615.25,268.51 L615.50,268.78 L615.75,269.43 L616.00,270.43 L616.25,271.77 L616.50,273.43 L616.75,275.39 L617.00,277.63 L617.25,280.14 L617.50,282.89 L617.75,285.88 L618.00,289.07 L618.25,292.46 L618.50,296.02 L618.75,299.73 L619.00,303.58 L619.25,307.55 L619.50,311.63 L619.75,315.78 L620.00,320.00 L620.25,324.77 L620.50,330.52 L620.75,337.17 L621.00,344.60 L621.25,352.74 L621.50,361.48 L621.75,370.73 L622.00,380.40 L622.25,390.38 L622.50,400.59 L622.75,410.93 L622.80,413.00" fill="none" stroke="#00ff00" stroke-width="2.0" stroke-linejoin="round" stroke-linecap="round" />
<line x1="119.5" y1="270.8" x2="119.5" y2="298" stroke="#00ff00" stroke-width="2.1" stroke-linecap="round"/>
</g>
<line x1="116.25" y1="40.7" x2="116.25" y2="415.0" stroke="#000" stroke-width="2.2"/>
<line x1="624.0" y1="40.7" x2="624.0" y2="415.0" stroke="#000" stroke-width="2.2"/>
<line x1="115.25" y1="41.7" x2="625.0" y2="41.7" stroke="#000" stroke-width="2.2"/>
<line x1="115.25" y1="414.0" x2="625.0" y2="414.0" stroke="#000" stroke-width="2.2"/>
<path d="M121.50,42.50 L122.00,42.50 L122.50,42.50 L123.00,42.50 L123.50,42.50 L124.00,42.50 L124.50,42.50 L125.00,42.50 L125.50,42.50 L126.00,42.50 L126.50,42.50 L127.00,42.50 L127.50,42.50 L128.00,42.50 L128.50,42.50 L129.00,42.50 L129.50,42.51 L130.00,42.51 L130.50,42.51 L131.00,42.51 L131.50,42.51 L132.00,42.51 L132.50,42.51 L133.00,42.51 L133.50,42.51 L134.00,42.51 L134.50,42.51 L135.00,42.51 L135.50,42.51 L136.00,42.51 L136.50,42.51 L137.00,42.51 L137.50,42.51 L138.00,42.51 L138.50,42.51 L139.00,42.51 L139.50,42.51 L140.00,42.51 L140.50,42.51 L141.00,42.51 L141.50,42.51 L142.00,42.51 L142.50,42.51 L143.00,42.51 L143.50,42.51 L144.00,42.51 L144.50,42.51 L145.00,42.51 L145.50,42.52 L146.00,42.52 L146.50,42.52 L147.00,42.52 L147.50,42.52 L148.00,42.52 L148.50,42.52 L149.00,42.52 L149.50,42.52 L150.00,42.52 L150.50,42.52 L151.00,42.52 L151.50,42.52 L152.00,42.52 L152.50,42.52 L153.00,42.52 L153.50,42.52 L154.00,42.52 L154.50,42.52 L155.00,42.52 L155.50,42.52 L156.00,42.52 L156.50,42.52 L157.00,42.52 L157.50,42.52 L158.00,42.52 L158.50,42.52 L159.00,42.52 L159.50,42.52 L160.00,42.52 L160.50,42.52 L161.00,42.53 L161.50,42.53 L162.00,42.53 L162.50,42.53 L163.00,42.53 L163.50,42.53 L164.00,42.53 L164.50,42.53 L165.00,42.53 L165.50,42.53 L166.00,42.53 L166.50,42.53 L167.00,42.53 L167.50,42.53 L168.00,42.53 L168.50,42.53 L169.00,42.53 L169.50,42.53 L170.00,42.53 L170.50,42.53 L171.00,42.53 L171.50,42.53 L172.00,42.53 L172.50,42.53 L173.00,42.53 L173.50,42.53 L174.00,42.53 L174.50,42.53 L175.00,42.53 L175.50,42.53 L176.00,42.53 L176.50,42.54 L177.00,42.54 L177.50,42.54 L178.00,42.54 L178.50,42.54 L179.00,42.54 L179.50,42.54 L180.00,42.54 L180.50,42.54 L181.00,42.54 L181.50,42.54 L182.00,42.54 L182.50,42.54 L183.00,42.54 L183.50,42.54 L184.00,42.54 L184.50,42.54 L185.00,42.54 L185.50,42.54 L186.00,42.54 L186.50,42.54 L187.00,42.54 L187.50,42.54 L188.00,42.54 L188.50,42.54 L189.00,42.54 L189.50,42.54 L190.00,42.54 L190.50,42.54 L191.00,42.54 L191.50,42.54 L192.00,42.54 L192.50,42.54 L193.00,42.54 L193.50,42.55 L194.00,42.55 L194.50,42.55 L195.00,42.55 L195.50,42.55 L196.00,42.55 L196.50,42.55 L197.00,42.55 L197.50,42.55 L198.00,42.55 L198.50,42.55 L199.00,42.55 L199.50,42.55 L200.00,42.55 L200.50,42.55 L201.00,42.55 L201.50,42.55 L202.00,42.55 L202.50,42.55 L203.00,42.55 L203.50,42.56 L204.00,42.56 L204.50,42.56 L205.00,42.56 L205.50,42.56 L206.00,42.56 L206.50,42.56 L207.00,42.56 L207.50,42.56 L208.00,42.57 L208.50,42.57 L209.00,42.57 L209.50,42.57 L210.00,42.57 L210.50,42.57 L211.00,42.57 L211.50,42.57 L212.00,42.58 L212.50,42.58 L213.00,42.58 L213.50,42.58 L214.00,42.58 L214.50,42.58 L215.00,42.58 L215.50,42.58 L216.00,42.58 L216.50,42.59 L217.00,42.59 L217.50,42.59 L218.00,42.59 L218.50,42.59 L219.00,42.59 L219.50,42.59 L220.00,42.59 L220.50,42.59 L221.00,42.60 L221.50,42.60 L222.00,42.60 L222.50,42.60 L223.00,42.60 L223.50,42.60 L224.00,42.60 L224.50,42.60 L225.00,42.60 L225.50,42.60 L226.00,42.61 L226.50,42.61 L227.00,42.61 L227.50,42.61 L228.00,42.61 L228.50,42.61 L229.00,42.61 L229.50,42.61 L230.00,42.61 L230.50,42.62 L231.00,42.62 L231.50,42.62 L232.00,42.62 L232.50,42.62 L233.00,42.62 L233.50,42.62 L234.00,42.62 L234.50,42.62 L235.00,42.62 L235.50,42.63 L236.00,42.63 L236.50,42.63 L237.00,42.63 L237.50,42.63 L238.00,42.63 L238.50,42.63 L239.00,42.63 L239.50,42.63 L240.00,42.63 L240.50,42.64 L241.00,42.64 L241.50,42.64 L242.00,42.64 L242.50,42.64 L243.00,42.64 L243.50,42.64 L244.00,42.64 L244.50,42.64 L245.00,42.65 L245.50,42.65 L246.00,42.65 L246.50,42.65 L247.00,42.65 L247.50,42.65 L248.00,42.65 L248.50,42.66 L249.00,42.66 L249.50,42.66 L250.00,42.66 L250.50,42.66 L251.00,42.66 L251.50,42.66 L252.00,42.66 L252.50,42.67 L253.00,42.67 L253.50,42.67 L254.00,42.67 L254.50,42.67 L255.00,42.67 L255.50,42.67 L256.00,42.67 L256.50,42.67 L257.00,42.67 L257.50,42.67 L258.00,42.67 L258.50,42.68 L259.00,42.67 L259.50,42.67 L260.00,42.67 L260.50,42.67 L261.00,42.67 L261.50,42.67 L262.00,42.67 L262.50,42.67 L263.00,42.67 L263.50,42.67 L264.00,42.67 L264.50,42.67 L265.00,42.67 L265.50,42.67 L266.00,42.68 L266.50,42.68 L267.00,42.68 L267.50,42.68 L268.00,42.68 L268.50,42.69 L269.00,42.69 L269.50,42.70 L270.00,42.70 L270.50,42.71 L271.00,42.71 L271.50,42.72 L272.00,42.73 L272.50,42.74 L273.00,42.76 L273.50,42.77 L274.00,42.78 L274.50,42.80 L275.00,42.81 L275.50,42.83 L276.00,42.84 L276.50,42.86 L277.00,42.88 L277.50,42.89 L278.00,42.91 L278.50,42.92 L279.00,42.94 L279.50,42.95 L280.00,42.96 L280.50,42.98 L281.00,42.99 L281.50,43.00 L282.00,43.01 L282.50,43.03 L283.00,43.04 L283.50,43.05 L284.00,43.06 L284.50,43.07 L285.00,43.09 L285.50,43.10 L286.00,43.11 L286.50,43.13 L287.00,43.14 L287.50,43.15 L288.00,43.17 L288.50,43.18 L289.00,43.20 L289.50,43.22 L290.00,43.23 L290.50,43.25 L291.00,43.27 L291.50,43.29 L292.00,43.31 L292.50,43.33 L293.00,43.35 L293.50,43.37 L294.00,43.40 L294.50,43.42 L295.00,43.44 L295.50,43.47 L296.00,43.50 L296.50,43.53 L297.00,43.56 L297.50,43.59 L298.00,43.63 L298.50,43.66 L299.00,43.70 L299.50,43.74 L300.00,43.78 L300.50,43.82 L301.00,43.86 L301.50,43.91 L302.00,43.96 L302.50,44.01 L303.00,44.06 L303.50,44.12 L304.00,44.18 L304.50,44.24 L305.00,44.30 L305.50,44.37 L306.00,44.45 L306.50,44.54 L307.00,44.64 L307.50,44.76 L308.00,44.89 L308.50,45.04 L309.00,45.20 L309.50,45.37 L310.00,45.57 L310.50,45.78 L311.00,46.00 L311.50,46.25 L312.00,46.54 L312.50,46.87 L313.00,47.24 L313.50,47.62 L314.00,48.01 L314.50,48.41 L315.00,48.79 L315.50,49.15 L316.00,49.47 L316.50,49.75 L317.00,49.98 L317.50,50.14 L318.00,50.23 L318.50,50.26 L319.00,50.26 L319.50,50.22 L320.00,50.16 L320.50,50.07 L321.00,49.96 L321.50,49.85 L322.00,49.72 L322.50,49.59 L323.00,49.47 L323.50,49.35 L324.00,49.25 L324.50,49.16 L325.00,49.10 L325.50,49.07 L326.00,49.06 L326.50,49.08 L327.00,49.12 L327.50,49.20 L328.00,49.30 L328.50,49.42 L329.00,49.58 L329.50,49.76 L330.00,49.97 L330.50,50.20 L331.00,50.47 L331.50,50.76 L332.00,51.11 L332.50,51.54 L333.00,52.02 L333.50,52.56 L334.00,53.15 L334.50,53.79 L335.00,54.46 L335.50,55.17 L336.00,55.90 L336.50,56.64 L337.00,57.40 L337.50,58.19 L338.00,59.04 L338.50,59.92 L339.00,60.81 L339.50,61.69 L340.00,62.54 L340.50,63.42 L341.00,64.32 L341.50,65.18 L342.00,65.99 L342.50,66.70 L343.00,67.27 L343.50,67.66 L344.00,67.86 L344.50,67.91 L345.00,67.87 L345.50,67.73 L346.00,67.53 L346.50,67.27 L347.00,66.96 L347.50,66.63 L348.00,66.29 L348.50,65.95 L349.00,65.63 L349.50,65.35 L350.00,65.09 L350.50,64.85 L351.00,64.63 L351.50,64.45 L352.00,64.31 L352.50,64.22 L353.00,64.17 L353.50,64.18 L354.00,64.25 L354.50,64.41 L355.00,64.69 L355.50,65.09 L356.00,65.59 L356.50,66.16 L357.00,66.79 L357.50,67.44 L358.00,68.11 L358.50,68.77 L359.00,69.40 L359.50,70.02 L360.00,70.64 L360.50,71.28 L361.00,71.91 L361.50,72.54 L362.00,73.15 L362.50,73.74 L363.00,74.29 L363.50,74.81 L364.00,75.28 L364.50,75.70 L365.00,76.06 L365.50,76.35 L366.00,76.60 L366.50,76.82 L367.00,77.02 L367.50,77.19 L368.00,77.34 L368.50,77.47 L369.00,77.58 L369.50,77.68 L370.00,77.77 L370.50,77.84 L371.00,77.91 L371.50,77.98 L372.00,78.04 L372.50,78.09 L373.00,78.15 L373.50,78.21 L374.00,78.28 L374.50,78.35 L375.00,78.43 L375.50,78.50 L376.00,78.58 L376.50,78.64 L377.00,78.69 L377.50,78.73 L378.00,78.76 L378.50,78.76 L379.00,78.74 L379.50,78.70 L380.00,78.63 L380.50,78.52 L381.00,78.36 L381.50,78.10 L382.00,77.76 L382.50,77.34 L383.00,76.87 L383.50,76.35 L384.00,75.81 L384.50,75.24 L385.00,74.68 L385.50,74.13 L386.00,73.60 L386.50,73.10 L387.00,72.59 L387.50,72.08 L388.00,71.57 L388.50,71.08 L389.00,70.60 L389.50,70.16 L390.00,69.75 L390.50,69.39 L391.00,69.09 L391.50,68.85 L392.00,68.69 L392.50,68.61 L393.00,68.61 L393.50,68.71 L394.00,68.88 L394.50,69.13 L395.00,69.43 L395.50,69.80 L396.00,70.22 L396.50,70.68 L397.00,71.18 L397.50,71.71 L398.00,72.26 L398.50,72.82 L399.00,73.40 L399.50,74.01 L400.00,74.67 L400.50,75.37 L401.00,76.08 L401.50,76.80 L402.00,77.49 L402.50,78.15 L403.00,78.75 L403.50,79.28 L404.00,79.71 L404.50,80.04 L405.00,80.24 L405.50,80.30 L406.00,80.21 L406.50,79.98 L407.00,79.64 L407.50,79.20 L408.00,78.67 L408.50,78.06 L409.00,77.41 L409.50,76.71 L410.00,75.98 L410.50,75.25 L411.00,74.52 L411.50,73.81 L412.00,73.13 L412.50,72.44 L413.00,71.75 L413.50,71.05 L414.00,70.36 L414.50,69.69 L415.00,69.04 L415.50,68.44 L416.00,67.88 L416.50,67.37 L417.00,66.93 L417.50,66.57 L418.00,66.29 L418.50,66.09 L419.00,65.94 L419.50,65.82 L420.00,65.73 L420.50,65.67 L421.00,65.62 L421.50,65.59 L422.00,65.57 L422.50,65.55 L423.00,65.53 L423.50,65.51 L424.00,65.47 L424.50,65.41 L425.00,65.33 L425.50,65.23 L426.00,65.10 L426.50,64.96 L427.00,64.79 L427.50,64.60 L428.00,64.40 L428.50,64.19 L429.00,63.97 L429.50,63.73 L430.00,63.49 L430.50,63.25 L431.00,63.00 L431.50,62.74 L432.00,62.46 L432.50,62.16 L433.00,61.86 L433.50,61.55 L434.00,61.25 L434.50,60.96 L435.00,60.69 L435.50,60.44 L436.00,60.22 L436.50,60.03 L437.00,59.88 L437.50,59.78 L438.00,59.71 L438.50,59.65 L439.00,59.61 L439.50,59.59 L440.00,59.58 L440.50,59.60 L441.00,59.63 L441.50,59.69 L442.00,59.76 L442.50,59.87 L443.00,60.05 L443.50,60.30 L444.00,60.60 L444.50,60.94 L445.00,61.33 L445.50,61.73 L446.00,62.15 L446.50,62.58 L447.00,63.00 L447.50,63.44 L448.00,63.90 L448.50,64.37 L449.00,64.81 L449.50,65.20 L450.00,65.52 L450.50,65.80 L451.00,66.05 L451.50,66.27 L452.00,66.45 L452.50,66.58 L453.00,66.67 L453.50,66.71 L454.00,66.68 L454.50,66.60 L455.00,66.46 L455.50,66.27 L456.00,66.04 L456.50,65.79 L457.00,65.51 L457.50,65.22 L458.00,64.94 L458.50,64.65 L459.00,64.38 L459.50,64.11 L460.00,63.84 L460.50,63.56 L461.00,63.29 L461.50,63.01 L462.00,62.74 L462.50,62.46 L463.00,62.18 L463.50,61.90 L464.00,61.62 L464.50,61.34 L465.00,61.05 L465.50,60.77 L466.00,60.49 L466.50,60.20 L467.00,59.91 L467.50,59.62 L468.00,59.32 L468.50,59.02 L469.00,58.73 L469.50,58.42 L470.00,58.12 L470.50,57.82 L471.00,57.51 L471.50,57.21 L472.00,56.90 L472.50,56.60 L473.00,56.29 L473.50,55.98 L474.00,55.68 L474.50,55.37 L475.00,55.06 L475.50,54.74 L476.00,54.43 L476.50,54.11 L477.00,53.80 L477.50,53.48 L478.00,53.17 L478.50,52.87 L479.00,52.56 L479.50,52.26 L480.00,51.97 L480.50,51.68 L481.00,51.41 L481.50,51.14 L482.00,50.87 L482.50,50.62 L483.00,50.38 L483.50,50.16 L484.00,49.93 L484.50,49.72 L485.00,49.51 L485.50,49.31 L486.00,49.12 L486.50,48.93 L487.00,48.75 L487.50,48.58 L488.00,48.41 L488.50,48.26 L489.00,48.11 L489.50,47.96 L490.00,47.83 L490.50,47.70 L491.00,47.59 L491.50,47.48 L492.00,47.38 L492.50,47.28 L493.00,47.18 L493.50,47.09 L494.00,47.00 L494.50,46.92 L495.00,46.84 L495.50,46.76 L496.00,46.69 L496.50,46.62 L497.00,46.56 L497.50,46.50 L498.00,46.44 L498.50,46.39 L499.00,46.34 L499.50,46.30 L500.00,46.26 L500.50,46.23 L501.00,46.20 L501.50,46.17 L502.00,46.15 L502.50,46.13 L503.00,46.10 L503.50,46.08 L504.00,46.06 L504.50,46.04 L505.00,46.03 L505.50,46.01 L506.00,46.00 L506.50,45.98 L507.00,45.97 L507.50,45.96 L508.00,45.95 L508.50,45.94 L509.00,45.93 L509.50,45.92 L510.00,45.91 L510.50,45.91 L511.00,45.90 L511.50,45.90 L512.00,45.90 L512.50,45.89 L513.00,45.89 L513.50,45.89 L514.00,45.89 L514.50,45.89 L515.00,45.89 L515.50,45.89 L516.00,45.89 L516.50,45.90 L517.00,45.90 L517.50,45.90 L518.00,45.91 L518.50,45.91 L519.00,45.92 L519.50,45.92 L520.00,45.93 L520.50,45.94 L521.00,45.95 L521.50,45.95 L522.00,45.96 L522.50,45.97 L523.00,45.98 L523.50,45.99 L524.00,46.00 L524.50,46.01 L525.00,46.02 L525.50,46.03 L526.00,46.04 L526.50,46.05 L527.00,46.07 L527.50,46.08 L528.00,46.09 L528.50,46.10 L529.00,46.11 L529.50,46.12 L530.00,46.13 L530.50,46.15 L531.00,46.16 L531.50,46.17 L532.00,46.18 L532.50,46.19 L533.00,46.20 L533.50,46.21 L534.00,46.22 L534.50,46.23 L535.00,46.24 L535.50,46.25 L536.00,46.26 L536.50,46.27 L537.00,46.28 L537.50,46.29 L538.00,46.30 L538.50,46.31 L539.00,46.32 L539.50,46.33 L540.00,46.34 L540.50,46.35 L541.00,46.36 L541.50,46.37 L542.00,46.38 L542.50,46.39 L543.00,46.40 L543.50,46.41 L544.00,46.42 L544.50,46.43 L545.00,46.44 L545.50,46.45 L546.00,46.45 L546.50,46.46 L547.00,46.47 L547.50,46.48 L548.00,46.49 L548.50,46.49 L549.00,46.50 L549.50,46.51 L550.00,46.51 L550.50,46.52 L551.00,46.53 L551.50,46.53 L552.00,46.54 L552.50,46.54 L553.00,46.55 L553.50,46.55 L554.00,46.56 L554.50,46.57 L555.00,46.57 L555.50,46.58 L556.00,46.59 L556.50,46.59 L557.00,46.60 L557.50,46.61 L558.00,46.62 L558.50,46.63 L559.00,46.64 L559.50,46.66 L560.00,46.67 L560.50,46.68 L561.00,46.70 L561.50,46.72 L562.00,46.74 L562.50,46.76 L563.00,46.79 L563.50,46.81 L564.00,46.84 L564.50,46.88 L565.00,46.91 L565.50,46.95 L566.00,46.99 L566.50,47.03 L567.00,47.08 L567.50,47.13 L568.00,47.18 L568.50,47.24 L569.00,47.29 L569.50,47.35 L570.00,47.42 L570.50,47.48 L571.00,47.55 L571.50,47.62 L572.00,47.70 L572.50,47.77 L573.00,47.85 L573.50,47.94 L574.00,48.02 L574.50,48.11 L575.00,48.20 L575.50,48.30 L576.00,48.40 L576.50,48.50 L577.00,48.60 L577.50,48.71 L578.00,48.82 L578.50,48.95 L579.00,49.08 L579.50,49.21 L580.00,49.35 L580.50,49.49 L581.00,49.63 L581.50,49.78 L582.00,49.93 L582.50,50.08 L583.00,50.24 L583.50,50.39 L584.00,50.54 L584.50,50.69 L585.00,50.84 L585.50,50.99 L586.00,51.13 L586.50,51.27 L587.00,51.41 L587.50,51.54 L588.00,51.67 L588.50,51.80 L589.00,51.92 L589.50,52.05 L590.00,52.18 L590.50,52.30 L591.00,52.43 L591.50,52.57 L592.00,52.71 L592.50,52.86 L593.00,53.01 L593.50,53.17 L594.00,53.34 L594.50,53.51 L595.00,53.70 L595.50,53.90 L596.00,54.11 L596.50,54.34 L597.00,54.59 L597.50,54.87 L598.00,55.17 L598.50,55.50 L599.00,55.85 L599.50,56.23 L600.00,56.63 L600.50,57.05 L601.00,57.49 L601.50,57.95 L602.00,58.42 L602.50,58.90 L603.00,59.40 L603.50,59.95 L604.00,60.54 L604.50,61.17 L605.00,61.83 L605.50,62.52 L606.00,63.23 L606.50,63.97 L607.00,64.72 L607.50,65.48 L608.00,66.25 L608.50,67.03 L609.00,67.80 L609.50,68.57 L610.00,69.36 L610.50,70.15 L611.00,70.96 L611.50,71.79 L612.00,72.63 L612.50,73.49 L613.00,74.38 L613.50,75.29 L614.00,76.22 L614.50,77.19 L615.00,78.18 L615.50,79.21 L616.00,80.25 L616.50,81.32 L617.00,82.42 L617.50,83.57 L618.00,84.77 L618.50,86.03 L619.00,87.38 L619.50,88.82 L620.00,90.35 L620.50,91.94 L621.00,93.40 L621.50,94.93 L622.00,96.76 L622.50,99.12 L623.00,102.22 L623.50,106.61 L624.00,119.06 L624.20,125.00" fill="none" stroke="#0000ff" stroke-width="1.6" stroke-linejoin="round" stroke-linecap="round" />
<path d="M117.4,42.3 L121.5,42.5" stroke="#0000ff" stroke-width="1.6" fill="none"/>
<path d="M121.50,42.40 L122.00,42.40 L122.50,42.40 L123.00,42.40 L123.50,42.40 L124.00,42.40 L124.50,42.40 L125.00,42.40 L125.50,42.40 L126.00,42.40 L126.50,42.40 L127.00,42.40 L127.50,42.40 L128.00,42.40 L128.50,42.40 L129.00,42.40 L129.50,42.40 L130.00,42.40 L130.50,42.40 L131.00,42.40 L131.50,42.40 L132.00,42.40 L132.50,42.40 L133.00,42.40 L133.50,42.40 L134.00,42.40 L134.50,42.40 L135.00,42.40 L135.50,42.40 L136.00,42.40 L136.50,42.40 L137.00,42.40 L137.50,42.40 L138.00,42.40 L138.50,42.40 L139.00,42.40 L139.50,42.40 L140.00,42.40 L140.50,42.40 L141.00,42.40 L141.50,42.40 L142.00,42.40 L142.50,42.40 L143.00,42.40 L143.50,42.40 L144.00,42.40 L144.50,42.40 L145.00,42.40 L145.50,42.40 L146.00,42.40 L146.50,42.40 L147.00,42.40 L147.50,42.40 L148.00,42.40 L148.50,42.40 L149.00,42.40 L149.50,42.40 L150.00,42.40 L150.50,42.40 L151.00,42.40 L151.50,42.40 L152.00,42.40 L152.50,42.40 L153.00,42.40 L153.50,42.40 L154.00,42.40 L154.50,42.40 L155.00,42.40 L155.50,42.40 L156.00,42.40 L156.50,42.40 L157.00,42.40 L157.50,42.40 L158.00,42.40 L158.50,42.40 L159.00,42.40 L159.50,42.40 L160.00,42.40 L160.50,42.40 L161.00,42.40 L161.50,42.40 L162.00,42.40 L162.50,42.40 L163.00,42.40 L163.50,42.40 L164.00,42.40 L164.50,42.40 L165.00,42.40 L165.50,42.40 L166.00,42.40 L166.50,42.40 L167.00,42.40 L167.50,42.40 L168.00,42.40 L168.50,42.40 L169.00,42.40 L169.50,42.40 L170.00,42.40 L170.50,42.40 L171.00,42.40 L171.50,42.40 L172.00,42.40 L172.50,42.40 L173.00,42.40 L173.50,42.40 L174.00,42.40 L174.50,42.40 L175.00,42.40 L175.50,42.40 L176.00,42.40 L176.50,42.40 L177.00,42.40 L177.50,42.40 L178.00,42.40 L178.50,42.40 L179.00,42.40 L179.50,42.40 L180.00,42.40 L180.50,42.40 L181.00,42.40 L181.50,42.40 L182.00,42.40 L182.50,42.40 L183.00,42.40 L183.50,42.40 L184.00,42.40 L184.50,42.40 L185.00,42.40 L185.50,42.40 L186.00,42.40 L186.50,42.40 L187.00,42.40 L187.50,42.40 L188.00,42.40 L188.50,42.40 L189.00,42.40 L189.50,42.40 L190.00,42.40 L190.50,42.40 L191.00,42.40 L191.50,42.40 L192.00,42.40 L192.50,42.40 L193.00,42.40 L193.50,42.40 L194.00,42.40 L194.50,42.40 L195.00,42.40 L195.50,42.40 L196.00,42.40 L196.50,42.40 L197.00,42.40 L197.50,42.40 L198.00,42.40 L198.50,42.40 L199.00,42.40 L199.50,42.40 L200.00,42.40 L200.50,42.40 L201.00,42.40 L201.50,42.40 L202.00,42.40 L202.50,42.40 L203.00,42.40 L203.50,42.40 L204.00,42.40 L204.50,42.40 L205.00,42.40 L205.50,42.40 L206.00,42.40 L206.50,42.40 L207.00,42.40 L207.50,42.40 L208.00,42.40 L208.50,42.40 L209.00,42.40 L209.50,42.40 L210.00,42.40 L210.50,42.40 L211.00,42.40 L211.50,42.40 L212.00,42.40 L212.50,42.40 L213.00,42.40 L213.50,42.40 L214.00,42.40 L214.50,42.40 L215.00,42.40 L215.50,42.40 L216.00,42.40 L216.50,42.40 L217.00,42.40 L217.50,42.40 L218.00,42.40 L218.50,42.40 L219.00,42.40 L219.50,42.40 L220.00,42.40 L220.50,42.40 L221.00,42.40 L221.50,42.40 L222.00,42.40 L222.50,42.40 L223.00,42.40 L223.50,42.40 L224.00,42.40 L224.50,42.40 L225.00,42.40 L225.50,42.40 L226.00,42.40 L226.50,42.40 L227.00,42.40 L227.50,42.40 L228.00,42.40 L228.50,42.40 L229.00,42.40 L229.50,42.40 L230.00,42.40 L230.50,42.40 L231.00,42.40 L231.50,42.40 L232.00,42.40 L232.50,42.40 L233.00,42.40 L233.50,42.40 L234.00,42.40 L234.50,42.40 L235.00,42.40 L235.50,42.40 L236.00,42.40 L236.50,42.40 L237.00,42.40 L237.50,42.40 L238.00,42.40 L238.50,42.40 L239.00,42.40 L239.50,42.40 L240.00,42.40 L240.50,42.40 L241.00,42.40 L241.50,42.40 L242.00,42.40 L242.50,42.40 L243.00,42.40 L243.50,42.40 L244.00,42.40 L244.50,42.40 L245.00,42.40 L245.50,42.40 L246.00,42.40 L246.50,42.40 L247.00,42.40 L247.50,42.40 L248.00,42.40 L248.50,42.40 L249.00,42.40 L249.50,42.40 L250.00,42.40 L250.50,42.40 L251.00,42.40 L251.50,42.40 L252.00,42.40 L252.50,42.40 L253.00,42.40 L253.50,42.40 L254.00,42.40 L254.50,42.40 L255.00,42.40 L255.50,42.40 L256.00,42.40 L256.50,42.40 L257.00,42.40 L257.50,42.40 L258.00,42.40 L258.50,42.40 L259.00,42.40 L259.50,42.40 L260.00,42.40 L260.50,42.40 L261.00,42.40 L261.50,42.40 L262.00,42.40 L262.50,42.40 L263.00,42.40 L263.50,42.40 L264.00,42.40 L264.50,42.40 L265.00,42.40 L265.50,42.40 L266.00,42.40 L266.50,42.40 L267.00,42.40 L267.50,42.40 L268.00,42.40 L268.50,42.40 L269.00,42.40 L269.50,42.40 L270.00,42.40 L270.50,42.40 L271.00,42.39 L271.50,42.39 L272.00,42.39 L272.50,42.39 L273.00,42.39 L273.50,42.39 L274.00,42.39 L274.50,42.39 L275.00,42.39 L275.50,42.39 L276.00,42.39 L276.50,42.39 L277.00,42.39 L277.50,42.40 L278.00,42.40 L278.50,42.40 L279.00,42.40 L279.50,42.40 L280.00,42.41 L280.50,42.41 L281.00,42.41 L281.50,42.41 L282.00,42.42 L282.50,42.42 L283.00,42.42 L283.50,42.43 L284.00,42.43 L284.50,42.43 L285.00,42.43 L285.50,42.43 L286.00,42.43 L286.50,42.43 L287.00,42.43 L287.50,42.43 L288.00,42.42 L288.50,42.42 L289.00,42.41 L289.50,42.41 L290.00,42.40 L290.50,42.39 L291.00,42.38 L291.50,42.37 L292.00,42.36 L292.50,42.35 L293.00,42.34 L293.50,42.32 L294.00,42.31 L294.50,42.30 L295.00,42.28 L295.50,42.27 L296.00,42.26 L296.50,42.25 L297.00,42.23 L297.50,42.22 L298.00,42.21 L298.50,42.21 L299.00,42.20 L299.50,42.19 L300.00,42.19 L300.50,42.19 L301.00,42.19 L301.50,42.19 L302.00,42.19 L302.50,42.20 L303.00,42.20 L303.50,42.22 L304.00,42.23 L304.50,42.24 L305.00,42.26 L305.50,42.29 L306.00,42.31 L306.50,42.34 L307.00,42.37 L307.50,42.41 L308.00,42.45 L308.50,42.50 L309.00,42.57 L309.50,42.64 L310.00,42.73 L310.50,42.83 L311.00,42.94 L311.50,43.06 L312.00,43.17 L312.50,43.30 L313.00,43.42 L313.50,43.54 L314.00,43.66 L314.50,43.78 L315.00,43.89 L315.50,44.00 L316.00,44.12 L316.50,44.23 L317.00,44.35 L317.50,44.47 L318.00,44.59 L318.50,44.71 L319.00,44.84 L319.50,44.97 L320.00,45.11 L320.50,45.25 L321.00,45.40 L321.50,45.56 L322.00,45.73 L322.50,45.91 L323.00,46.09 L323.50,46.28 L324.00,46.46 L324.50,46.64 L325.00,46.80 L325.50,46.95 L326.00,47.08 L326.50,47.18 L327.00,47.26 L327.50,47.31 L328.00,47.33 L328.50,47.34 L329.00,47.33 L329.50,47.31 L330.00,47.29 L330.50,47.25 L331.00,47.21 L331.50,47.17 L332.00,47.13 L332.50,47.09 L333.00,47.05 L333.50,47.02 L334.00,46.99 L334.50,46.98 L335.00,46.97 L335.50,46.97 L336.00,46.98 L336.50,47.01 L337.00,47.04 L337.50,47.09 L338.00,47.15 L338.50,47.23 L339.00,47.32 L339.50,47.43 L340.00,47.55 L340.50,47.73 L341.00,47.96 L341.50,48.25 L342.00,48.58 L342.50,48.96 L343.00,49.39 L343.50,49.85 L344.00,50.35 L344.50,50.89 L345.00,51.48 L345.50,52.16 L346.00,52.91 L346.50,53.72 L347.00,54.56 L347.50,55.41 L348.00,56.26 L348.50,57.09 L349.00,57.88 L349.50,58.60 L350.00,59.24 L350.50,59.79 L351.00,60.21 L351.50,60.50 L352.00,60.64 L352.50,60.66 L353.00,60.58 L353.50,60.43 L354.00,60.22 L354.50,59.95 L355.00,59.66 L355.50,59.34 L356.00,59.01 L356.50,58.70 L357.00,58.41 L357.50,58.15 L358.00,57.92 L358.50,57.72 L359.00,57.53 L359.50,57.37 L360.00,57.24 L360.50,57.13 L361.00,57.05 L361.50,57.01 L362.00,57.00 L362.50,57.03 L363.00,57.10 L363.50,57.23 L364.00,57.44 L364.50,57.71 L365.00,58.05 L365.50,58.44 L366.00,58.86 L366.50,59.32 L367.00,59.81 L367.50,60.30 L368.00,60.81 L368.50,61.30 L369.00,61.80 L369.50,62.34 L370.00,62.90 L370.50,63.48 L371.00,64.07 L371.50,64.66 L372.00,65.25 L372.50,65.82 L373.00,66.37 L373.50,66.89 L374.00,67.36 L374.50,67.79 L375.00,68.17 L375.50,68.48 L376.00,68.72 L376.50,68.88 L377.00,68.96 L377.50,69.01 L378.00,69.01 L378.50,68.98 L379.00,68.92 L379.50,68.83 L380.00,68.73 L380.50,68.60 L381.00,68.47 L381.50,68.32 L382.00,68.17 L382.50,68.03 L383.00,67.88 L383.50,67.75 L384.00,67.62 L384.50,67.52 L385.00,67.43 L385.50,67.36 L386.00,67.31 L386.50,67.27 L387.00,67.23 L387.50,67.20 L388.00,67.18 L388.50,67.16 L389.00,67.13 L389.50,67.10 L390.00,67.07 L390.50,67.03 L391.00,66.97 L391.50,66.91 L392.00,66.82 L392.50,66.72 L393.00,66.59 L393.50,66.43 L394.00,66.22 L394.50,65.99 L395.00,65.74 L395.50,65.46 L396.00,65.18 L396.50,64.89 L397.00,64.59 L397.50,64.30 L398.00,64.02 L398.50,63.75 L399.00,63.50 L399.50,63.26 L400.00,63.03 L400.50,62.80 L401.00,62.59 L401.50,62.40 L402.00,62.23 L402.50,62.09 L403.00,61.98 L403.50,61.92 L404.00,61.90 L404.50,61.93 L405.00,62.03 L405.50,62.18 L406.00,62.39 L406.50,62.63 L407.00,62.91 L407.50,63.23 L408.00,63.57 L408.50,63.93 L409.00,64.30 L409.50,64.68 L410.00,65.09 L410.50,65.53 L411.00,66.00 L411.50,66.48 L412.00,66.97 L412.50,67.46 L413.00,67.92 L413.50,68.37 L414.00,68.77 L414.50,69.13 L415.00,69.43 L415.50,69.67 L416.00,69.83 L416.50,69.90 L417.00,69.87 L417.50,69.76 L418.00,69.56 L418.50,69.30 L419.00,68.98 L419.50,68.61 L420.00,68.20 L420.50,67.76 L421.00,67.30 L421.50,66.84 L422.00,66.38 L422.50,65.93 L423.00,65.46 L423.50,64.97 L424.00,64.48 L424.50,63.98 L425.00,63.48 L425.50,62.98 L426.00,62.49 L426.50,62.02 L427.00,61.57 L427.50,61.14 L428.00,60.73 L428.50,60.36 L429.00,60.03 L429.50,59.75 L430.00,59.49 L430.50,59.25 L431.00,59.03 L431.50,58.84 L432.00,58.66 L432.50,58.49 L433.00,58.34 L433.50,58.21 L434.00,58.08 L434.50,57.96 L435.00,57.86 L435.50,57.76 L436.00,57.66 L436.50,57.57 L437.00,57.49 L437.50,57.41 L438.00,57.34 L438.50,57.26 L439.00,57.18 L439.50,57.11 L440.00,57.03 L440.50,56.94 L441.00,56.85 L441.50,56.75 L442.00,56.65 L442.50,56.53 L443.00,56.40 L443.50,56.26 L444.00,56.11 L444.50,55.96 L445.00,55.80 L445.50,55.64 L446.00,55.48 L446.50,55.33 L447.00,55.18 L447.50,55.04 L448.00,54.91 L448.50,54.80 L449.00,54.70 L449.50,54.61 L450.00,54.55 L450.50,54.51 L451.00,54.49 L451.50,54.50 L452.00,54.55 L452.50,54.64 L453.00,54.77 L453.50,54.92 L454.00,55.11 L454.50,55.32 L455.00,55.55 L455.50,55.80 L456.00,56.06 L456.50,56.32 L457.00,56.60 L457.50,56.90 L458.00,57.22 L458.50,57.57 L459.00,57.93 L459.50,58.30 L460.00,58.66 L460.50,59.01 L461.00,59.33 L461.50,59.62 L462.00,59.88 L462.50,60.08 L463.00,60.23 L463.50,60.31 L464.00,60.34 L464.50,60.33 L465.00,60.28 L465.50,60.20 L466.00,60.09 L466.50,59.96 L467.00,59.80 L467.50,59.62 L468.00,59.43 L468.50,59.22 L469.00,59.00 L469.50,58.77 L470.00,58.51 L470.50,58.23 L471.00,57.93 L471.50,57.61 L472.00,57.29 L472.50,56.96 L473.00,56.62 L473.50,56.29 L474.00,55.95 L474.50,55.63 L475.00,55.31 L475.50,55.00 L476.00,54.71 L476.50,54.45 L477.00,54.20 L477.50,53.97 L478.00,53.76 L478.50,53.56 L479.00,53.38 L479.50,53.20 L480.00,53.03 L480.50,52.87 L481.00,52.71 L481.50,52.56 L482.00,52.41 L482.50,52.27 L483.00,52.12 L483.50,51.98 L484.00,51.83 L484.50,51.69 L485.00,51.53 L485.50,51.37 L486.00,51.21 L486.50,51.04 L487.00,50.85 L487.50,50.66 L488.00,50.46 L488.50,50.25 L489.00,50.03 L489.50,49.81 L490.00,49.59 L490.50,49.36 L491.00,49.13 L491.50,48.90 L492.00,48.68 L492.50,48.45 L493.00,48.23 L493.50,48.02 L494.00,47.81 L494.50,47.61 L495.00,47.42 L495.50,47.23 L496.00,47.06 L496.50,46.91 L497.00,46.75 L497.50,46.61 L498.00,46.47 L498.50,46.33 L499.00,46.20 L499.50,46.08 L500.00,45.96 L500.50,45.85 L501.00,45.74 L501.50,45.64 L502.00,45.54 L502.50,45.44 L503.00,45.35 L503.50,45.27 L504.00,45.19 L504.50,45.11 L505.00,45.04 L505.50,44.97 L506.00,44.91 L506.50,44.85 L507.00,44.79 L507.50,44.74 L508.00,44.69 L508.50,44.64 L509.00,44.60 L509.50,44.56 L510.00,44.52 L510.50,44.48 L511.00,44.45 L511.50,44.41 L512.00,44.37 L512.50,44.34 L513.00,44.31 L513.50,44.28 L514.00,44.25 L514.50,44.22 L515.00,44.19 L515.50,44.16 L516.00,44.13 L516.50,44.11 L517.00,44.08 L517.50,44.06 L518.00,44.04 L518.50,44.02 L519.00,43.99 L519.50,43.97 L520.00,43.95 L520.50,43.94 L521.00,43.92 L521.50,43.90 L522.00,43.88 L522.50,43.87 L523.00,43.85 L523.50,43.84 L524.00,43.83 L524.50,43.81 L525.00,43.80 L525.50,43.79 L526.00,43.78 L526.50,43.76 L527.00,43.75 L527.50,43.74 L528.00,43.73 L528.50,43.72 L529.00,43.71 L529.50,43.70 L530.00,43.69 L530.50,43.68 L531.00,43.67 L531.50,43.67 L532.00,43.66 L532.50,43.65 L533.00,43.64 L533.50,43.64 L534.00,43.63 L534.50,43.63 L535.00,43.62 L535.50,43.62 L536.00,43.61 L536.50,43.61 L537.00,43.60 L537.50,43.60 L538.00,43.60 L538.50,43.60 L539.00,43.60 L539.50,43.60 L540.00,43.60 L540.50,43.60 L541.00,43.60 L541.50,43.60 L542.00,43.61 L542.50,43.61 L543.00,43.62 L543.50,43.62 L544.00,43.63 L544.50,43.64 L545.00,43.65 L545.50,43.66 L546.00,43.67 L546.50,43.68 L547.00,43.69 L547.50,43.71 L548.00,43.72 L548.50,43.74 L549.00,43.75 L549.50,43.77 L550.00,43.78 L550.50,43.80 L551.00,43.82 L551.50,43.84 L552.00,43.86 L552.50,43.88 L553.00,43.90 L553.50,43.92 L554.00,43.94 L554.50,43.97 L555.00,43.99 L555.50,44.01 L556.00,44.04 L556.50,44.06 L557.00,44.09 L557.50,44.11 L558.00,44.14 L558.50,44.16 L559.00,44.19 L559.50,44.22 L560.00,44.25 L560.50,44.27 L561.00,44.30 L561.50,44.33 L562.00,44.36 L562.50,44.39 L563.00,44.42 L563.50,44.45 L564.00,44.48 L564.50,44.51 L565.00,44.55 L565.50,44.58 L566.00,44.61 L566.50,44.65 L567.00,44.68 L567.50,44.72 L568.00,44.75 L568.50,44.79 L569.00,44.82 L569.50,44.86 L570.00,44.90 L570.50,44.93 L571.00,44.97 L571.50,45.01 L572.00,45.04 L572.50,45.08 L573.00,45.12 L573.50,45.15 L574.00,45.19 L574.50,45.23 L575.00,45.26 L575.50,45.30 L576.00,45.33 L576.50,45.37 L577.00,45.40 L577.50,45.43 L578.00,45.47 L578.50,45.50 L579.00,45.53 L579.50,45.57 L580.00,45.60 L580.50,45.63 L581.00,45.66 L581.50,45.70 L582.00,45.73 L582.50,45.77 L583.00,45.81 L583.50,45.84 L584.00,45.88 L584.50,45.93 L585.00,45.97 L585.50,46.01 L586.00,46.06 L586.50,46.11 L587.00,46.16 L587.50,46.21 L588.00,46.27 L588.50,46.33 L589.00,46.39 L589.50,46.46 L590.00,46.53 L590.50,46.60 L591.00,46.68 L591.50,46.76 L592.00,46.85 L592.50,46.94 L593.00,47.03 L593.50,47.13 L594.00,47.23 L594.50,47.33 L595.00,47.43 L595.50,47.53 L596.00,47.64 L596.50,47.74 L597.00,47.85 L597.50,47.95 L598.00,48.05 L598.50,48.15 L599.00,48.25 L599.50,48.34 L600.00,48.43 L600.50,48.52 L601.00,48.60 L601.50,48.68 L602.00,48.75 L602.50,48.81 L603.00,48.88 L603.50,48.94 L604.00,48.99 L604.50,49.05 L605.00,49.11 L605.50,49.17 L606.00,49.23 L606.50,49.30 L607.00,49.37 L607.50,49.44 L608.00,49.52 L608.50,49.61 L609.00,49.70 L609.50,49.80 L610.00,49.92 L610.50,50.04 L611.00,50.17 L611.50,50.31 L612.00,50.47 L612.50,50.63 L613.00,50.81 L613.50,50.99 L614.00,51.19 L614.50,51.40 L615.00,51.62 L615.50,51.85 L616.00,52.12 L616.50,52.44 L617.00,52.79 L617.50,53.18 L618.00,53.59 L618.50,54.02 L619.00,54.46 L619.50,54.90 L620.00,55.33 L620.50,55.75 L621.00,56.19 L621.50,56.63 L622.00,57.09 L622.50,57.55 L623.00,58.02 L623.50,58.51 L623.70,58.70" fill="none" stroke="#ff0000" stroke-width="1.6" stroke-linejoin="round" stroke-linecap="round" />
<path d="M116.8,64.6 L117.2,50 L117.8,43.2 L118.8,43 L119.8,59.8 L120.9,43 L121.5,42.4" stroke="#ff0000" stroke-width="1.5" fill="none" stroke-linejoin="round" stroke-linecap="round"/>
<path d="M121.50,42.45 L122.00,42.45 L122.50,42.45 L123.00,42.45 L123.50,42.45 L124.00,42.45 L124.50,42.45 L125.00,42.45 L125.50,42.45 L126.00,42.45 L126.50,42.45 L127.00,42.45 L127.50,42.45 L128.00,42.45 L128.50,42.45 L129.00,42.45 L129.50,42.45 L130.00,42.45 L130.50,42.45 L131.00,42.45 L131.50,42.45 L132.00,42.45 L132.50,42.45 L133.00,42.45 L133.50,42.45 L134.00,42.45 L134.50,42.45 L135.00,42.45 L135.50,42.45 L136.00,42.45 L136.50,42.45 L137.00,42.45 L137.50,42.45 L138.00,42.45 L138.50,42.45 L139.00,42.45 L139.50,42.45 L140.00,42.45 L140.50,42.45 L141.00,42.45 L141.50,42.45 L142.00,42.45 L142.50,42.45 L143.00,42.45 L143.50,42.45 L144.00,42.45 L144.50,42.45 L145.00,42.45 L145.50,42.45 L146.00,42.45 L146.50,42.45 L147.00,42.45 L147.50,42.45 L148.00,42.45 L148.50,42.45 L149.00,42.45 L149.50,42.45 L150.00,42.45 L150.50,42.45 L151.00,42.45 L151.50,42.45 L152.00,42.45 L152.50,42.45 L153.00,42.45 L153.50,42.45 L154.00,42.45 L154.50,42.45 L155.00,42.45 L155.50,42.45 L156.00,42.45 L156.50,42.45 L157.00,42.45 L157.50,42.45 L158.00,42.45 L158.50,42.45 L159.00,42.45 L159.50,42.45 L160.00,42.45 L160.50,42.45 L161.00,42.45 L161.50,42.45 L162.00,42.45 L162.50,42.45 L163.00,42.45 L163.50,42.45 L164.00,42.45 L164.50,42.45 L165.00,42.45 L165.50,42.45 L166.00,42.45 L166.50,42.45 L167.00,42.45 L167.50,42.45 L168.00,42.45 L168.50,42.45 L169.00,42.45 L169.50,42.45 L170.00,42.45 L170.50,42.45 L171.00,42.45 L171.50,42.45 L172.00,42.45 L172.50,42.45 L173.00,42.45 L173.50,42.45 L174.00,42.45 L174.50,42.45 L175.00,42.45 L175.50,42.45 L176.00,42.45 L176.50,42.45 L177.00,42.45 L177.50,42.45 L178.00,42.45 L178.50,42.45 L179.00,42.45 L179.50,42.45 L180.00,42.45 L180.50,42.45 L181.00,42.45 L181.50,42.45 L182.00,42.45 L182.50,42.45 L183.00,42.45 L183.50,42.45 L184.00,42.45 L184.50,42.45 L185.00,42.45 L185.50,42.45 L186.00,42.45 L186.50,42.45 L187.00,42.45 L187.50,42.45 L188.00,42.45 L188.50,42.45 L189.00,42.45 L189.50,42.45 L190.00,42.45 L190.50,42.45 L191.00,42.45 L191.50,42.45 L192.00,42.45 L192.50,42.45 L193.00,42.45 L193.50,42.45 L194.00,42.45 L194.50,42.45 L195.00,42.45 L195.50,42.45 L196.00,42.45 L196.50,42.45 L197.00,42.45 L197.50,42.45 L198.00,42.45 L198.50,42.45 L199.00,42.45 L199.50,42.45 L200.00,42.45 L200.50,42.45 L201.00,42.45 L201.50,42.45 L202.00,42.45 L202.50,42.45 L203.00,42.45 L203.50,42.45 L204.00,42.45 L204.50,42.45 L205.00,42.45 L205.50,42.45 L206.00,42.46 L206.50,42.46 L207.00,42.46 L207.50,42.46 L208.00,42.46 L208.50,42.46 L209.00,42.46 L209.50,42.46 L210.00,42.46 L210.50,42.46 L211.00,42.46 L211.50,42.46 L212.00,42.46 L212.50,42.46 L213.00,42.46 L213.50,42.47 L214.00,42.47 L214.50,42.47 L215.00,42.47 L215.50,42.47 L216.00,42.47 L216.50,42.47 L217.00,42.47 L217.50,42.47 L218.00,42.47 L218.50,42.47 L219.00,42.47 L219.50,42.47 L220.00,42.47 L220.50,42.47 L221.00,42.47 L221.50,42.47 L222.00,42.47 L222.50,42.48 L223.00,42.48 L223.50,42.48 L224.00,42.48 L224.50,42.48 L225.00,42.48 L225.50,42.48 L226.00,42.48 L226.50,42.48 L227.00,42.48 L227.50,42.48 L228.00,42.48 L228.50,42.48 L229.00,42.48 L229.50,42.48 L230.00,42.48 L230.50,42.48 L231.00,42.48 L231.50,42.48 L232.00,42.49 L232.50,42.49 L233.00,42.49 L233.50,42.49 L234.00,42.49 L234.50,42.49 L235.00,42.49 L235.50,42.49 L236.00,42.49 L236.50,42.49 L237.00,42.49 L237.50,42.49 L238.00,42.49 L238.50,42.49 L239.00,42.49 L239.50,42.49 L240.00,42.49 L240.50,42.50 L241.00,42.50 L241.50,42.50 L242.00,42.50 L242.50,42.50 L243.00,42.50 L243.50,42.50 L244.00,42.50 L244.50,42.50 L245.00,42.50 L245.50,42.50 L246.00,42.50 L246.50,42.50 L247.00,42.50 L247.50,42.50 L248.00,42.50 L248.50,42.50 L249.00,42.50 L249.50,42.50 L250.00,42.51 L250.50,42.51 L251.00,42.51 L251.50,42.51 L252.00,42.51 L252.50,42.51 L253.00,42.51 L253.50,42.51 L254.00,42.51 L254.50,42.51 L255.00,42.51 L255.50,42.51 L256.00,42.51 L256.50,42.51 L257.00,42.51 L257.50,42.51 L258.00,42.52 L258.50,42.52 L259.00,42.52 L259.50,42.52 L260.00,42.52 L260.50,42.52 L261.00,42.52 L261.50,42.52 L262.00,42.52 L262.50,42.52 L263.00,42.52 L263.50,42.52 L264.00,42.52 L264.50,42.52 L265.00,42.52 L265.50,42.52 L266.00,42.52 L266.50,42.52 L267.00,42.52 L267.50,42.52 L268.00,42.52 L268.50,42.52 L269.00,42.52 L269.50,42.52 L270.00,42.52 L270.50,42.52 L271.00,42.52 L271.50,42.52 L272.00,42.52 L272.50,42.52 L273.00,42.52 L273.50,42.52 L274.00,42.52 L274.50,42.52 L275.00,42.52 L275.50,42.53 L276.00,42.53 L276.50,42.53 L277.00,42.53 L277.50,42.53 L278.00,42.53 L278.50,42.54 L279.00,42.54 L279.50,42.54 L280.00,42.55 L280.50,42.55 L281.00,42.55 L281.50,42.56 L282.00,42.56 L282.50,42.56 L283.00,42.57 L283.50,42.57 L284.00,42.57 L284.50,42.57 L285.00,42.58 L285.50,42.58 L286.00,42.58 L286.50,42.58 L287.00,42.58 L287.50,42.57 L288.00,42.57 L288.50,42.57 L289.00,42.56 L289.50,42.56 L290.00,42.55 L290.50,42.54 L291.00,42.53 L291.50,42.53 L292.00,42.52 L292.50,42.51 L293.00,42.50 L293.50,42.50 L294.00,42.49 L294.50,42.49 L295.00,42.49 L295.50,42.49 L296.00,42.49 L296.50,42.49 L297.00,42.50 L297.50,42.51 L298.00,42.52 L298.50,42.54 L299.00,42.56 L299.50,42.59 L300.00,42.62 L300.50,42.65 L301.00,42.69 L301.50,42.73 L302.00,42.78 L302.50,42.83 L303.00,42.89 L303.50,42.96 L304.00,43.03 L304.50,43.11 L305.00,43.20 L305.50,43.30 L306.00,43.42 L306.50,43.56 L307.00,43.72 L307.50,43.89 L308.00,44.07 L308.50,44.26 L309.00,44.45 L309.50,44.65 L310.00,44.84 L310.50,45.04 L311.00,45.23 L311.50,45.41 L312.00,45.59 L312.50,45.75 L313.00,45.90 L313.50,46.04 L314.00,46.17 L314.50,46.29 L315.00,46.41 L315.50,46.52 L316.00,46.63 L316.50,46.73 L317.00,46.83 L317.50,46.93 L318.00,47.02 L318.50,47.10 L319.00,47.19 L319.50,47.27 L320.00,47.35 L320.50,47.43 L321.00,47.50 L321.50,47.57 L322.00,47.64 L322.50,47.71 L323.00,47.77 L323.50,47.83 L324.00,47.89 L324.50,47.95 L325.00,48.01 L325.50,48.08 L326.00,48.14 L326.50,48.21 L327.00,48.28 L327.50,48.35 L328.00,48.43 L328.50,48.51 L329.00,48.60 L329.50,48.70 L330.00,48.80 L330.50,48.93 L331.00,49.06 L331.50,49.22 L332.00,49.39 L332.50,49.59 L333.00,49.82 L333.50,50.07 L334.00,50.34 L334.50,50.66 L335.00,51.00 L335.50,51.40 L336.00,51.87 L336.50,52.40 L337.00,52.97 L337.50,53.58 L338.00,54.21 L338.50,54.85 L339.00,55.49 L339.50,56.12 L340.00,56.73 L340.50,57.30 L341.00,57.82 L341.50,58.29 L342.00,58.72 L342.50,59.13 L343.00,59.51 L343.50,59.87 L344.00,60.21 L344.50,60.52 L345.00,60.81 L345.50,61.09 L346.00,61.34 L346.50,61.56 L347.00,61.77 L347.50,61.96 L348.00,62.13 L348.50,62.28 L349.00,62.41 L349.50,62.52 L350.00,62.62 L350.50,62.70 L351.00,62.77 L351.50,62.84 L352.00,62.90 L352.50,62.95 L353.00,63.01 L353.50,63.06 L354.00,63.12 L354.50,63.19 L355.00,63.26 L355.50,63.35 L356.00,63.44 L356.50,63.55 L357.00,63.68 L357.50,63.83 L358.00,64.01 L358.50,64.22 L359.00,64.45 L359.50,64.71 L360.00,64.99 L360.50,65.29 L361.00,65.61 L361.50,65.93 L362.00,66.27 L362.50,66.62 L363.00,66.96 L363.50,67.31 L364.00,67.66 L364.50,68.00 L365.00,68.34 L365.50,68.66 L366.00,68.99 L366.50,69.32 L367.00,69.65 L367.50,69.98 L368.00,70.30 L368.50,70.63 L369.00,70.94 L369.50,71.25 L370.00,71.55 L370.50,71.83 L371.00,72.10 L371.50,72.35 L372.00,72.58 L372.50,72.79 L373.00,72.97 L373.50,73.13 L374.00,73.27 L374.50,73.41 L375.00,73.53 L375.50,73.64 L376.00,73.73 L376.50,73.80 L377.00,73.86 L377.50,73.90 L378.00,73.92 L378.50,73.92 L379.00,73.90 L379.50,73.84 L380.00,73.75 L380.50,73.62 L381.00,73.46 L381.50,73.27 L382.00,73.06 L382.50,72.84 L383.00,72.60 L383.50,72.35 L384.00,72.10 L384.50,71.85 L385.00,71.59 L385.50,71.31 L386.00,71.02 L386.50,70.71 L387.00,70.40 L387.50,70.10 L388.00,69.80 L388.50,69.52 L389.00,69.27 L389.50,69.04 L390.00,68.85 L390.50,68.70 L391.00,68.60 L391.50,68.54 L392.00,68.49 L392.50,68.47 L393.00,68.45 L393.50,68.46 L394.00,68.48 L394.50,68.51 L395.00,68.56 L395.50,68.61 L396.00,68.68 L396.50,68.75 L397.00,68.83 L397.50,68.92 L398.00,69.02 L398.50,69.14 L399.00,69.28 L399.50,69.43 L400.00,69.59 L400.50,69.76 L401.00,69.92 L401.50,70.09 L402.00,70.25 L402.50,70.41 L403.00,70.55 L403.50,70.68 L404.00,70.80 L404.50,70.89 L405.00,70.96 L405.50,71.01 L406.00,71.03 L406.50,71.04 L407.00,71.04 L407.50,71.02 L408.00,70.99 L408.50,70.95 L409.00,70.89 L409.50,70.82 L410.00,70.74 L410.50,70.65 L411.00,70.55 L411.50,70.43 L412.00,70.31 L412.50,70.17 L413.00,70.02 L413.50,69.87 L414.00,69.69 L414.50,69.49 L415.00,69.26 L415.50,69.01 L416.00,68.75 L416.50,68.47 L417.00,68.18 L417.50,67.87 L418.00,67.56 L418.50,67.24 L419.00,66.92 L419.50,66.60 L420.00,66.27 L420.50,65.96 L421.00,65.64 L421.50,65.34 L422.00,65.04 L422.50,64.73 L423.00,64.42 L423.50,64.11 L424.00,63.80 L424.50,63.50 L425.00,63.19 L425.50,62.90 L426.00,62.60 L426.50,62.32 L427.00,62.05 L427.50,61.78 L428.00,61.53 L428.50,61.29 L429.00,61.07 L429.50,60.86 L430.00,60.66 L430.50,60.46 L431.00,60.27 L431.50,60.09 L432.00,59.91 L432.50,59.74 L433.00,59.58 L433.50,59.43 L434.00,59.29 L434.50,59.17 L435.00,59.05 L435.50,58.95 L436.00,58.86 L436.50,58.79 L437.00,58.73 L437.50,58.69 L438.00,58.66 L438.50,58.63 L439.00,58.61 L439.50,58.60 L440.00,58.59 L440.50,58.58 L441.00,58.58 L441.50,58.59 L442.00,58.60 L442.50,58.62 L443.00,58.64 L443.50,58.68 L444.00,58.72 L444.50,58.78 L445.00,58.86 L445.50,58.96 L446.00,59.07 L446.50,59.20 L447.00,59.33 L447.50,59.48 L448.00,59.63 L448.50,59.78 L449.00,59.94 L449.50,60.09 L450.00,60.23 L450.50,60.37 L451.00,60.50 L451.50,60.62 L452.00,60.74 L452.50,60.85 L453.00,60.96 L453.50,61.06 L454.00,61.16 L454.50,61.24 L455.00,61.31 L455.50,61.36 L456.00,61.39 L456.50,61.40 L457.00,61.40 L457.50,61.38 L458.00,61.35 L458.50,61.31 L459.00,61.25 L459.50,61.19 L460.00,61.11 L460.50,61.03 L461.00,60.94 L461.50,60.84 L462.00,60.73 L462.50,60.62 L463.00,60.50 L463.50,60.37 L464.00,60.23 L464.50,60.07 L465.00,59.90 L465.50,59.72 L466.00,59.52 L466.50,59.32 L467.00,59.11 L467.50,58.90 L468.00,58.67 L468.50,58.44 L469.00,58.20 L469.50,57.95 L470.00,57.70 L470.50,57.45 L471.00,57.19 L471.50,56.92 L472.00,56.64 L472.50,56.34 L473.00,56.04 L473.50,55.73 L474.00,55.42 L474.50,55.11 L475.00,54.79 L475.50,54.47 L476.00,54.16 L476.50,53.85 L477.00,53.54 L477.50,53.24 L478.00,52.95 L478.50,52.67 L479.00,52.39 L479.50,52.14 L480.00,51.89 L480.50,51.66 L481.00,51.45 L481.50,51.24 L482.00,51.04 L482.50,50.84 L483.00,50.66 L483.50,50.48 L484.00,50.31 L484.50,50.14 L485.00,49.98 L485.50,49.82 L486.00,49.67 L486.50,49.52 L487.00,49.38 L487.50,49.23 L488.00,49.09 L488.50,48.96 L489.00,48.82 L489.50,48.68 L490.00,48.55 L490.50,48.41 L491.00,48.27 L491.50,48.13 L492.00,47.99 L492.50,47.85 L493.00,47.71 L493.50,47.57 L494.00,47.44 L494.50,47.30 L495.00,47.17 L495.50,47.04 L496.00,46.91 L496.50,46.79 L497.00,46.67 L497.50,46.55 L498.00,46.44 L498.50,46.34 L499.00,46.24 L499.50,46.14 L500.00,46.06 L500.50,45.97 L501.00,45.90 L501.50,45.83 L502.00,45.77 L502.50,45.70 L503.00,45.64 L503.50,45.58 L504.00,45.53 L504.50,45.48 L505.00,45.43 L505.50,45.38 L506.00,45.34 L506.50,45.30 L507.00,45.26 L507.50,45.22 L508.00,45.19 L508.50,45.15 L509.00,45.12 L509.50,45.10 L510.00,45.07 L510.50,45.05 L511.00,45.03 L511.50,45.01 L512.00,44.99 L512.50,44.97 L513.00,44.96 L513.50,44.95 L514.00,44.93 L514.50,44.93 L515.00,44.92 L515.50,44.91 L516.00,44.91 L516.50,44.90 L517.00,44.90 L517.50,44.90 L518.00,44.90 L518.50,44.90 L519.00,44.89 L519.50,44.89 L520.00,44.89 L520.50,44.89 L521.00,44.89 L521.50,44.89 L522.00,44.89 L522.50,44.89 L523.00,44.88 L523.50,44.88 L524.00,44.88 L524.50,44.88 L525.00,44.88 L525.50,44.88 L526.00,44.88 L526.50,44.88 L527.00,44.88 L527.50,44.88 L528.00,44.88 L528.50,44.88 L529.00,44.88 L529.50,44.88 L530.00,44.88 L530.50,44.88 L531.00,44.88 L531.50,44.88 L532.00,44.88 L532.50,44.88 L533.00,44.88 L533.50,44.88 L534.00,44.88 L534.50,44.88 L535.00,44.88 L535.50,44.89 L536.00,44.89 L536.50,44.89 L537.00,44.89 L537.50,44.89 L538.00,44.89 L538.50,44.89 L539.00,44.89 L539.50,44.90 L540.00,44.90 L540.50,44.90 L541.00,44.90 L541.50,44.90 L542.00,44.90 L542.50,44.91 L543.00,44.91 L543.50,44.91 L544.00,44.92 L544.50,44.92 L545.00,44.93 L545.50,44.94 L546.00,44.94 L546.50,44.95 L547.00,44.96 L547.50,44.96 L548.00,44.97 L548.50,44.98 L549.00,44.99 L549.50,45.00 L550.00,45.01 L550.50,45.02 L551.00,45.04 L551.50,45.05 L552.00,45.06 L552.50,45.07 L553.00,45.09 L553.50,45.10 L554.00,45.12 L554.50,45.13 L555.00,45.15 L555.50,45.17 L556.00,45.19 L556.50,45.20 L557.00,45.22 L557.50,45.24 L558.00,45.26 L558.50,45.28 L559.00,45.31 L559.50,45.33 L560.00,45.35 L560.50,45.38 L561.00,45.40 L561.50,45.43 L562.00,45.45 L562.50,45.48 L563.00,45.51 L563.50,45.55 L564.00,45.58 L564.50,45.62 L565.00,45.65 L565.50,45.69 L566.00,45.73 L566.50,45.78 L567.00,45.82 L567.50,45.87 L568.00,45.91 L568.50,45.96 L569.00,46.01 L569.50,46.06 L570.00,46.12 L570.50,46.17 L571.00,46.23 L571.50,46.29 L572.00,46.34 L572.50,46.40 L573.00,46.47 L573.50,46.53 L574.00,46.59 L574.50,46.66 L575.00,46.72 L575.50,46.79 L576.00,46.86 L576.50,46.93 L577.00,47.00 L577.50,47.07 L578.00,47.15 L578.50,47.22 L579.00,47.30 L579.50,47.38 L580.00,47.47 L580.50,47.55 L581.00,47.64 L581.50,47.73 L582.00,47.81 L582.50,47.91 L583.00,48.00 L583.50,48.09 L584.00,48.19 L584.50,48.29 L585.00,48.39 L585.50,48.49 L586.00,48.59 L586.50,48.69 L587.00,48.80 L587.50,48.90 L588.00,49.01 L588.50,49.12 L589.00,49.22 L589.50,49.33 L590.00,49.44 L590.50,49.56 L591.00,49.67 L591.50,49.78 L592.00,49.90 L592.50,50.02 L593.00,50.15 L593.50,50.28 L594.00,50.41 L594.50,50.55 L595.00,50.70 L595.50,50.85 L596.00,51.01 L596.50,51.18 L597.00,51.35 L597.50,51.53 L598.00,51.72 L598.50,51.92 L599.00,52.13 L599.50,52.34 L600.00,52.58 L600.50,52.83 L601.00,53.11 L601.50,53.40 L602.00,53.72 L602.50,54.05 L603.00,54.40 L603.50,54.77 L604.00,55.14 L604.50,55.54 L605.00,55.94 L605.50,56.35 L606.00,56.77 L606.50,57.22 L607.00,57.69 L607.50,58.20 L608.00,58.72 L608.50,59.27 L609.00,59.84 L609.50,60.42 L610.00,61.02 L610.50,61.64 L611.00,62.26 L611.50,62.90 L612.00,63.54 L612.50,64.19 L613.00,64.85 L613.50,65.53 L614.00,66.23 L614.50,66.95 L615.00,67.70 L615.50,68.48 L616.00,69.28 L616.50,70.12 L617.00,71.00 L617.50,71.90 L618.00,72.81 L618.50,73.75 L619.00,74.76 L619.50,75.84 L620.00,77.03 L620.50,78.34 L621.00,79.80 L621.50,81.56 L622.00,83.70 L622.50,86.14 L623.00,88.79 L623.40,91.00" fill="none" stroke="#00ff00" stroke-width="1.6" stroke-linejoin="round" stroke-linecap="round" />
<path d="M117.0,55.8 L117.3,48 L117.9,43 L118.9,42.8 L119.8,51.8 L120.8,42.7 L121.5,42.45" stroke="#00ff00" stroke-width="1.7" fill="none" stroke-linejoin="round" stroke-linecap="round"/>
<line x1="111.4" y1="414.0" x2="116.25" y2="414.0" stroke="#000" stroke-width="2.2"/>
<line x1="111.4" y1="395.3" x2="116.25" y2="395.3" stroke="#000" stroke-width="2.2"/>
<line x1="107.2" y1="376.7" x2="116.25" y2="376.7" stroke="#000" stroke-width="2.2"/>
<line x1="111.4" y1="358.1" x2="116.25" y2="358.1" stroke="#000" stroke-width="2.2"/>
<line x1="111.4" y1="339.5" x2="116.25" y2="339.5" stroke="#000" stroke-width="2.2"/>
<line x1="111.4" y1="320.9" x2="116.25" y2="320.9" stroke="#000" stroke-width="2.2"/>
<line x1="111.4" y1="302.3" x2="116.25" y2="302.3" stroke="#000" stroke-width="2.2"/>
<line x1="107.2" y1="283.7" x2="116.25" y2="283.7" stroke="#000" stroke-width="2.2"/>
<line x1="111.4" y1="265.1" x2="116.25" y2="265.1" stroke="#000" stroke-width="2.2"/>
<line x1="111.4" y1="246.5" x2="116.25" y2="246.5" stroke="#000" stroke-width="2.2"/>
<line x1="111.4" y1="227.9" x2="116.25" y2="227.9" stroke="#000" stroke-width="2.2"/>
<line x1="111.4" y1="209.3" x2="116.25" y2="209.3" stroke="#000" stroke-width="2.2"/>
<line x1="107.2" y1="190.7" x2="116.25" y2="190.7" stroke="#000" stroke-width="2.2"/>
<line x1="624.0" y1="41.8" x2="633.2" y2="41.8" stroke="#000" stroke-width="2.2"/>
<line x1="624.0" y1="60.4" x2="628.6" y2="60.4" stroke="#000" stroke-width="2.2"/>
<line x1="624.0" y1="79.0" x2="633.2" y2="79.0" stroke="#000" stroke-width="2.2"/>
<line x1="624.0" y1="97.6" x2="628.6" y2="97.6" stroke="#000" stroke-width="2.2"/>
<line x1="624.0" y1="116.2" x2="633.2" y2="116.2" stroke="#000" stroke-width="2.2"/>
<line x1="185.88" y1="414.0" x2="185.88" y2="418.6" stroke="#000" stroke-width="2.2"/>
<line x1="273.5" y1="414.0" x2="273.5" y2="423.0" stroke="#000" stroke-width="2.2"/>
<line x1="361.12" y1="414.0" x2="361.12" y2="418.6" stroke="#000" stroke-width="2.2"/>
<line x1="448.75" y1="414.0" x2="448.75" y2="423.0" stroke="#000" stroke-width="2.2"/>
<line x1="536.38" y1="414.0" x2="536.38" y2="418.6" stroke="#000" stroke-width="2.2"/>
<line x1="624.0" y1="414.0" x2="624.0" y2="423.0" stroke="#000" stroke-width="2.2"/>
<rect x="123.8" y="114.8" width="167.6" height="71.5" fill="#fff" stroke="#7f7f7f" stroke-width="1" rx="0.8"/>
<line x1="125.8" y1="127.9" x2="168.1" y2="127.9" stroke="#ff0000" stroke-width="2.0"/>
<line x1="125.8" y1="150.8" x2="168.1" y2="150.8" stroke="#0000ff" stroke-width="2.0"/>
<line x1="125.8" y1="173.6" x2="168.1" y2="173.6" stroke="#00ff00" stroke-width="2.0"/>
<text transform="translate(171.70,134.10) scale(1.0339,1.0000)" font-size="15.3">GDD</text>
<text transform="translate(171.70,156.80) scale(1.0339,1.0000)" font-size="15.3">GDD</text>
<text transform="translate(171.70,179.40) scale(1.0339,1.0000)" font-size="15.3">GDD</text>
<text transform="translate(210.86,134.80) scale(1.2151,1.0000)" style="stroke-width:0.1px" font-size="18.2">@</text>
<text transform="translate(210.86,157.50) scale(1.2151,1.0000)" style="stroke-width:0.1px" font-size="18.2">@</text>
<text transform="translate(231.48,134.10) scale(1.0450,1.0000)" font-size="15.3">19&#176;</text>
<text transform="translate(261.07,134.10) scale(1.0757,1.0000)" font-size="15.3">AOI</text>
<text transform="translate(230.54,156.80) scale(1.0767,1.0000)" font-size="15.3">5&#176;</text>
<text transform="translate(251.57,156.80) scale(1.0717,1.0000)" font-size="15.3">AOI</text>
<text transform="translate(206.14,179.40) scale(1.2736,1.0000)" style="font-family:'Liberation Serif',serif" font-size="15.3">&#931;</text>
<rect x="460.9" y="65.8" width="141.7" height="71.3" fill="#fff" stroke="#7f7f7f" stroke-width="1" rx="0.8"/>
<line x1="462.9" y1="78.9" x2="505.1" y2="78.9" stroke="#0000ff" stroke-width="2.0"/>
<line x1="462.9" y1="101.6" x2="505.1" y2="101.6" stroke="#ff0000" stroke-width="2.0"/>
<line x1="462.9" y1="124.3" x2="505.1" y2="124.3" stroke="#00ff00" stroke-width="2.0"/>
<text transform="translate(509.01,84.90) scale(0.7926,1.0000)" font-size="15.3">R</text>
<text transform="translate(509.01,107.70) scale(0.7926,1.0000)" font-size="15.3">R</text>
<text transform="translate(509.01,130.20) scale(0.7926,1.0000)" font-size="15.3">R</text>
<text transform="translate(522.04,85.70) scale(1.1896,1.0000)" style="stroke-width:0.1px" font-size="17.8">@</text>
<text transform="translate(522.04,108.50) scale(1.1896,1.0000)" style="stroke-width:0.1px" font-size="17.8">@</text>
<text transform="translate(542.67,84.90) scale(1.0593,1.0000)" font-size="15.3">19&#176;</text>
<text transform="translate(571.97,84.90) scale(1.0997,1.0000)" font-size="15.3">AOI</text>
<text transform="translate(541.53,107.70) scale(1.0996,1.0000)" font-size="15.3">5&#176;</text>
<text transform="translate(562.17,107.70) scale(1.0877,1.0000)" font-size="15.3">AOI</text>
<text transform="translate(516.83,130.20) scale(1.2868,1.0000)" style="font-family:'Liberation Serif',serif" font-size="15.3">&#931;</text>
<text transform="translate(55.52,196.80) scale(1.0979,1.0000)" font-size="20">500</text>
<text transform="translate(78.86,289.60) scale(1.2029,1.0000)" font-size="20">0</text>
<text transform="translate(48.43,383.00) scale(1.0923,1.0000)" font-size="20">-500</text>
<text transform="translate(649.31,50.50) scale(1.0462,1.0000)" font-size="20">100</text>
<text transform="translate(648.29,87.90) scale(1.0805,1.0000)" font-size="20">99</text>
<text transform="translate(648.31,125.00) scale(1.0568,1.0000)" font-size="20">98</text>
<text transform="translate(255.17,446.60) scale(1.1086,1.0000)" font-size="20">600</text>
<text transform="translate(430.34,446.60) scale(1.1034,1.0000)" font-size="20">800</text>
<text transform="translate(600.89,446.50) scale(1.0596,1.0000)" font-size="20">1000</text>
<text transform="translate(306.30,485.20) scale(1.0843,1.0000)" font-size="21.3">Wavelength,</text>
<text transform="translate(439.57,485.20) scale(0.9413,1.0000)" font-size="21.3">nm</text>
<text transform="translate(29.9,415.28) rotate(-90) scale(1.0437,1)" font-size="22.5">Group</text>
<text transform="translate(29.9,341.63) rotate(-90) scale(1.0909,1)" font-size="22.5">delay</text>
<text transform="translate(29.9,271.97) rotate(-90) scale(1.0261,1)" font-size="22.5">dispersion,</text>
<text transform="translate(29.9,153.82) rotate(-90) scale(0.9957,1)" font-size="22.5">fs</text>
<text transform="translate(17.8,135.99) rotate(-90) scale(0.9578,1)" font-size="16.5">2</text>
<text transform="translate(715.0,157.17) rotate(-90) scale(1.0455,1)" font-size="23">Reflectivity,</text>
<text transform="translate(715.0,28.86) rotate(-90) scale(1.0526,1)" font-size="23">%</text>
</svg>
</body>
</html>
